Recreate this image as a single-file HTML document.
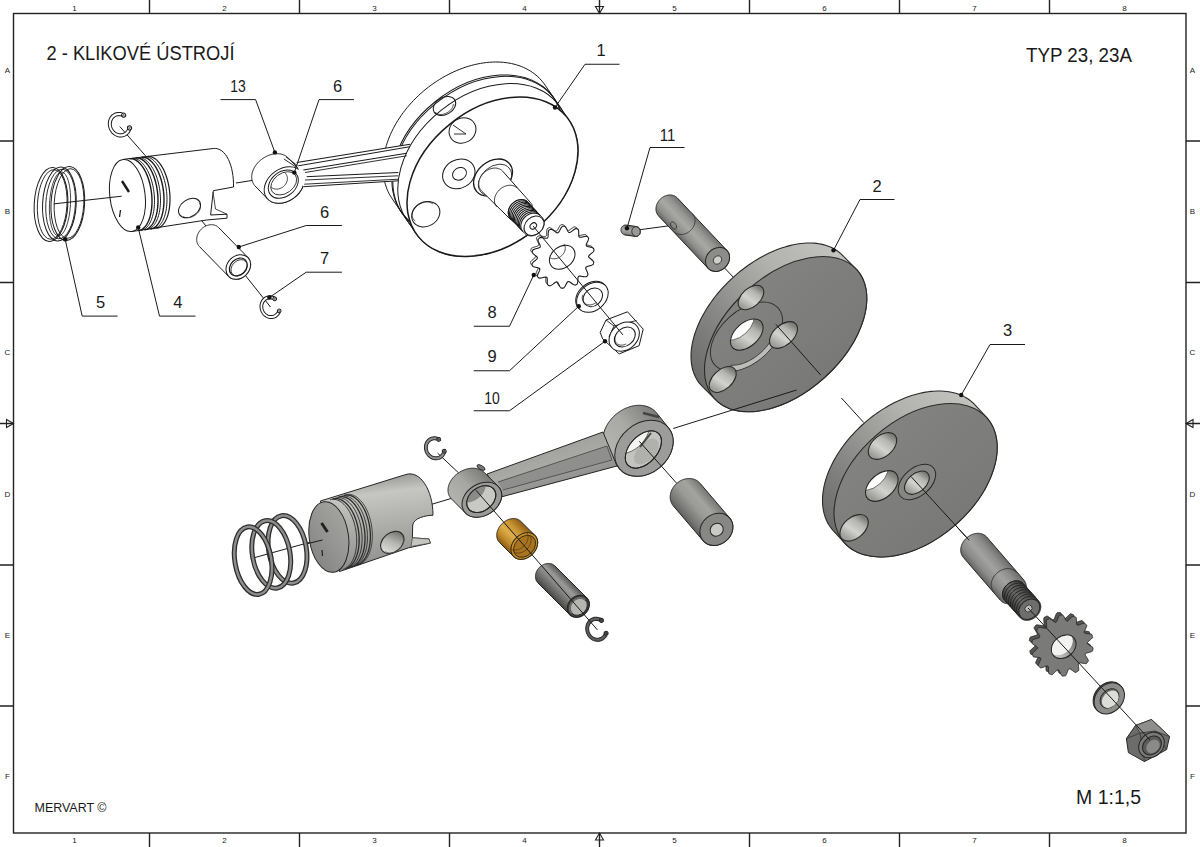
<!DOCTYPE html>
<html><head><meta charset="utf-8">
<style>
html,body{margin:0;padding:0;background:#fff;width:1200px;height:847px;overflow:hidden}
svg{display:block}
text{font-family:"Liberation Sans",sans-serif;fill:#1a1a1a}
</style></head><body>
<svg width="1200" height="847" viewBox="0 0 1200 847">
<defs><linearGradient id="shL" gradientUnits="userSpaceOnUse" x1="702.2" y1="224.27" x2="683.3" y2="242.13"><stop offset="0" stop-color="#727270"/><stop offset="0.25" stop-color="#959593"/><stop offset="0.5" stop-color="#a8a8a5"/><stop offset="0.8" stop-color="#8e8e8c"/><stop offset="1" stop-color="#666664"/></linearGradient><linearGradient id="p11" gradientUnits="userSpaceOnUse" x1="631.46" y1="225.8" x2="630.04" y2="235.7"><stop offset="0" stop-color="#727270"/><stop offset="0.25" stop-color="#959593"/><stop offset="0.5" stop-color="#a8a8a5"/><stop offset="0.8" stop-color="#8e8e8c"/><stop offset="1" stop-color="#666664"/></linearGradient><linearGradient id="beam" gradientUnits="userSpaceOnUse" x1="540" y1="440" x2="555" y2="490"><stop offset="0" stop-color="#9c9c9a"/><stop offset="0.5" stop-color="#a9a9a6"/><stop offset="1" stop-color="#8a8a88"/></linearGradient><linearGradient id="beb" gradientUnits="userSpaceOnUse" x1="662.95" y1="420.84" x2="613.05" y2="460.76"><stop offset="0" stop-color="#7c7c7a"/><stop offset="0.5" stop-color="#a8a8a5"/><stop offset="1" stop-color="#b5b5b2"/></linearGradient><linearGradient id="seb" gradientUnits="userSpaceOnUse" x1="489.84" y1="477.71" x2="459.86" y2="507.69"><stop offset="0" stop-color="#7a7a78"/><stop offset="0.5" stop-color="#a6a6a3"/><stop offset="1" stop-color="#b3b3b0"/></linearGradient><linearGradient id="pist" gradientUnits="userSpaceOnUse" x1="380" y1="472" x2="392" y2="575"><stop offset="0" stop-color="#8e8e8c"/><stop offset="0.2" stop-color="#c6c6c3"/><stop offset="0.5" stop-color="#aeaeab"/><stop offset="0.8" stop-color="#989896"/><stop offset="1" stop-color="#7a7a78"/></linearGradient><linearGradient id="vphg" gradientUnits="userSpaceOnUse" x1="381" y1="548" x2="404" y2="536"><stop offset="0" stop-color="#e0e0dd"/><stop offset="0.5" stop-color="#b5b5b2"/><stop offset="1" stop-color="#6e6e6c"/></linearGradient><linearGradient id="crown" gradientUnits="userSpaceOnUse" x1="312" y1="505" x2="345" y2="570"><stop offset="0" stop-color="#a8a8a5"/><stop offset="0.5" stop-color="#959593"/><stop offset="1" stop-color="#7e7e7c"/></linearGradient><linearGradient id="bush" gradientUnits="userSpaceOnUse" x1="527.77" y1="528.31" x2="506.63" y2="549.59"><stop offset="0" stop-color="#8e5e14"/><stop offset="0.3" stop-color="#c99433"/><stop offset="0.55" stop-color="#dcae4a"/><stop offset="0.8" stop-color="#c08a2a"/><stop offset="1" stop-color="#8a5a12"/></linearGradient><linearGradient id="pinY" gradientUnits="userSpaceOnUse" x1="570.89" y1="581.91" x2="553.91" y2="598.89"><stop offset="0" stop-color="#585856"/><stop offset="0.3" stop-color="#9a9a98"/><stop offset="0.55" stop-color="#858583"/><stop offset="0.85" stop-color="#5e5e5c"/><stop offset="1" stop-color="#444442"/></linearGradient><linearGradient id="pinT" gradientUnits="userSpaceOnUse" x1="714.86" y1="500.64" x2="688.24" y2="523.36"><stop offset="0" stop-color="#767674"/><stop offset="0.3" stop-color="#a3a3a0"/><stop offset="0.55" stop-color="#9a9a97"/><stop offset="0.85" stop-color="#777775"/><stop offset="1" stop-color="#5e5e5c"/></linearGradient><linearGradient id="shO" gradientUnits="userSpaceOnUse" x1="1005.23" y1="558.46" x2="981.77" y2="578.74"><stop offset="0" stop-color="#6a6a68"/><stop offset="0.25" stop-color="#8e8e8c"/><stop offset="0.5" stop-color="#a2a2a0"/><stop offset="0.8" stop-color="#8a8a88"/><stop offset="1" stop-color="#626260"/></linearGradient><linearGradient id="shOt" gradientUnits="userSpaceOnUse" x1="1030.99" y1="592.29" x2="1012.31" y2="608.91"><stop offset="0" stop-color="#3e3e3c"/><stop offset="0.5" stop-color="#6a6a68"/><stop offset="1" stop-color="#3a3a38"/></linearGradient><clipPath id="gph"><ellipse cx="1063.7" cy="646.7" rx="13.5" ry="10.5" transform="rotate(-40 1063.7 646.7)"/></clipPath><linearGradient id="gphg" gradientUnits="userSpaceOnUse" x1="1051" y1="650" x2="1076" y2="642"><stop offset="0" stop-color="#c5c5c2"/><stop offset="0.5" stop-color="#9a9a98"/><stop offset="1" stop-color="#6a6a68"/></linearGradient><linearGradient id="d2rim" gradientUnits="userSpaceOnUse" x1="845.65" y1="244.15" x2="695.65" y2="374.15"><stop offset="0" stop-color="#c4c4c1"/><stop offset="0.35" stop-color="#b2b2af"/><stop offset="0.7" stop-color="#8a8a88"/><stop offset="1" stop-color="#6c6c6a"/></linearGradient><linearGradient id="d2face" gradientUnits="userSpaceOnUse" x1="785.65" y1="254.15" x2="785.65" y2="414.15"><stop offset="0" stop-color="#848482"/><stop offset="1" stop-color="#777775"/></linearGradient><linearGradient id="d3rim" gradientUnits="userSpaceOnUse" x1="975.6" y1="390.25" x2="825.6" y2="520.25"><stop offset="0" stop-color="#c4c4c1"/><stop offset="0.35" stop-color="#b2b2af"/><stop offset="0.7" stop-color="#8a8a88"/><stop offset="1" stop-color="#6c6c6a"/></linearGradient><linearGradient id="d3face" gradientUnits="userSpaceOnUse" x1="915.6" y1="400.25" x2="915.6" y2="560.25"><stop offset="0" stop-color="#848482"/><stop offset="1" stop-color="#777775"/></linearGradient><clipPath id="d2c"><ellipse cx="746.8" cy="334.6" rx="19.29" ry="11.7" transform="rotate(-42.26 746.8 334.6)"/></clipPath><linearGradient id="d2cg" gradientUnits="userSpaceOnUse" x1="731.37" y1="338.46" x2="762.23" y2="330.74"><stop offset="0" stop-color="#9c9c99"/><stop offset="0.4" stop-color="#d2d2cf"/><stop offset="0.75" stop-color="#b4b4b1"/><stop offset="1" stop-color="#7e7e7b"/></linearGradient><clipPath id="d2s1"><ellipse cx="751" cy="297.5" rx="15.15" ry="9.19" transform="rotate(-42.26 751 297.5)"/></clipPath><linearGradient id="d2s1g" gradientUnits="userSpaceOnUse" x1="738.88" y1="300.53" x2="763.12" y2="294.47"><stop offset="0" stop-color="#9c9c99"/><stop offset="0.4" stop-color="#d2d2cf"/><stop offset="0.75" stop-color="#b4b4b1"/><stop offset="1" stop-color="#7e7e7b"/></linearGradient><clipPath id="d2s2"><ellipse cx="783.5" cy="335" rx="16.57" ry="10.05" transform="rotate(-42.26 783.5 335)"/></clipPath><linearGradient id="d2s2g" gradientUnits="userSpaceOnUse" x1="770.25" y1="338.31" x2="796.75" y2="331.69"><stop offset="0" stop-color="#9c9c99"/><stop offset="0.4" stop-color="#d2d2cf"/><stop offset="0.75" stop-color="#b4b4b1"/><stop offset="1" stop-color="#7e7e7b"/></linearGradient><clipPath id="d2s3"><ellipse cx="722.7" cy="379.5" rx="15.97" ry="9.69" transform="rotate(-42.26 722.7 379.5)"/></clipPath><linearGradient id="d2s3g" gradientUnits="userSpaceOnUse" x1="709.92" y1="382.69" x2="735.48" y2="376.31"><stop offset="0" stop-color="#9c9c99"/><stop offset="0.4" stop-color="#d2d2cf"/><stop offset="0.75" stop-color="#b4b4b1"/><stop offset="1" stop-color="#7e7e7b"/></linearGradient><clipPath id="d3h1"><ellipse cx="882.5" cy="446" rx="16.48" ry="10.41" transform="rotate(-40.91 882.5 446)"/></clipPath><linearGradient id="d3h1g" gradientUnits="userSpaceOnUse" x1="869.31" y1="449.3" x2="895.69" y2="442.7"><stop offset="0" stop-color="#9c9c99"/><stop offset="0.4" stop-color="#d2d2cf"/><stop offset="0.75" stop-color="#b4b4b1"/><stop offset="1" stop-color="#7e7e7b"/></linearGradient><clipPath id="d3h2"><ellipse cx="881.8" cy="486" rx="18.92" ry="11.95" transform="rotate(-40.91 881.8 486)"/></clipPath><linearGradient id="d3h2g" gradientUnits="userSpaceOnUse" x1="866.66" y1="489.78" x2="896.94" y2="482.22"><stop offset="0" stop-color="#9c9c99"/><stop offset="0.4" stop-color="#d2d2cf"/><stop offset="0.75" stop-color="#b4b4b1"/><stop offset="1" stop-color="#7e7e7b"/></linearGradient><clipPath id="d3h3"><ellipse cx="854.1" cy="527.8" rx="16.48" ry="10.41" transform="rotate(-40.91 854.1 527.8)"/></clipPath><linearGradient id="d3h3g" gradientUnits="userSpaceOnUse" x1="840.91" y1="531.1" x2="867.29" y2="524.5"><stop offset="0" stop-color="#9c9c99"/><stop offset="0.4" stop-color="#d2d2cf"/><stop offset="0.75" stop-color="#b4b4b1"/><stop offset="1" stop-color="#7e7e7b"/></linearGradient><clipPath id="d3w"><ellipse cx="916.9" cy="482.7" rx="14.39" ry="9.09" transform="rotate(-40.91 916.9 482.7)"/></clipPath><linearGradient id="d3wg" gradientUnits="userSpaceOnUse" x1="905.38" y1="485.58" x2="928.42" y2="479.82"><stop offset="0" stop-color="#9c9c99"/><stop offset="0.4" stop-color="#d2d2cf"/><stop offset="0.75" stop-color="#b4b4b1"/><stop offset="1" stop-color="#7e7e7b"/></linearGradient></defs>
<g stroke="#222" fill="none" stroke-width="1.4">
<rect x="13.5" y="13.5" width="1172.5" height="819.5"/>
<path d="M149.5 0V13.5M149.5 833V847M299.5 0V13.5M299.5 833V847M449.5 0V13.5M449.5 833V847M599.5 0V13.5M599.5 833V847M749.5 0V13.5M749.5 833V847M899.5 0V13.5M899.5 833V847M1049.5 0V13.5M1049.5 833V847M0 141H13.5M1186 141H1200M0 282.5H13.5M1186 282.5H1200M0 423.5H13.5M1186 423.5H1200M0 565H13.5M1186 565H1200M0 706H13.5M1186 706H1200"/>
<path d="M595.5 6.5L603.5 6.5L599.5 13.5Z M595.5 840L603.5 840L599.5 833Z M6.5 419.5L6.5 427.5L13.5 423.5Z M1193 419.5L1193 427.5L1186 423.5Z" stroke-width="1.1"/>
</g>
<g font-size="8" text-anchor="middle" fill="#333">
<text x="74.5" y="11">1</text><text x="74.5" y="843">1</text>
<text x="224.5" y="11">2</text><text x="224.5" y="843">2</text>
<text x="374.5" y="11">3</text><text x="374.5" y="843">3</text>
<text x="524.5" y="11">4</text><text x="524.5" y="843">4</text>
<text x="674.5" y="11">5</text><text x="674.5" y="843">5</text>
<text x="824.5" y="11">6</text><text x="824.5" y="843">6</text>
<text x="974.5" y="11">7</text><text x="974.5" y="843">7</text>
<text x="1124.5" y="11">8</text><text x="1124.5" y="843">8</text>
<text x="7.5" y="73">A</text><text x="1192.5" y="73">A</text>
<text x="7.5" y="214.2">B</text><text x="1192.5" y="214.2">B</text>
<text x="7.5" y="355.4">C</text><text x="1192.5" y="355.4">C</text>
<text x="7.5" y="496.6">D</text><text x="1192.5" y="496.6">D</text>
<text x="7.5" y="637.8">E</text><text x="1192.5" y="637.8">E</text>
<text x="7.5" y="779">F</text><text x="1192.5" y="779">F</text>
</g>
<text x="46.5" y="59.5" font-size="20" textLength="188" lengthAdjust="spacingAndGlyphs">2 - KLIKOVÉ ÚSTROJÍ</text>
<text x="1026" y="61.5" font-size="20" textLength="106" lengthAdjust="spacingAndGlyphs">TYP 23, 23A</text>
<text x="1076" y="803.5" font-size="20" textLength="65" lengthAdjust="spacingAndGlyphs">M 1:1,5</text>
<text x="34.5" y="812" font-size="13" textLength="72" lengthAdjust="spacingAndGlyphs" fill="#2a2a2a">MERVART ©</text>
<g stroke="#1a1a1a" stroke-width="1">
<line x1="119.8" y1="126.5" x2="145.5" y2="155.8" />
<line x1="236" y1="183" x2="258" y2="179.5" />
<line x1="190" y1="206" x2="270.5" y2="307" />
<line x1="637.5" y1="230" x2="675" y2="225" />
<line x1="717" y1="260" x2="735" y2="279" />
<line x1="841.4" y1="398" x2="863.8" y2="422.6" />
<line x1="910.9" y1="476.4" x2="969.2" y2="540.3" />
<line x1="431.7" y1="504.3" x2="455" y2="497.3" />
<line x1="255" y1="557.5" x2="322.5" y2="538.75" />
<line x1="437.5" y1="453" x2="458.5" y2="472.8" />
</g>
<path d="M67.83 240.34 L66.94 240.44 L49.94 241.44 L49.06 241.45 L48.19 241.35 L47.32 241.15 L46.46 240.86 L45.62 240.46 L44.79 239.96 L43.97 239.37 L43.18 238.68 L42.41 237.9 L41.66 237.02 L40.93 236.06 L40.24 235.01 L39.57 233.88 L38.94 232.66 L38.33 231.37 L37.77 230.01 L37.24 228.57 L36.74 227.07 L36.29 225.51 L35.87 223.89 L35.5 222.21 L35.17 220.49 L34.89 218.73 L34.64 216.92 L34.45 215.08 L34.29 213.21 L34.19 211.32 L34.13 209.41 L34.11 207.49 L34.14 205.56 L34.22 203.62 L34.35 201.69 L34.52 199.76 L34.73 197.85 L34.99 195.96 L35.3 194.09 L35.64 192.25 L36.03 190.44 L36.46 188.67 L36.93 186.94 L37.44 185.26 L37.98 183.64 L38.57 182.07 L39.18 180.56 L39.83 179.12 L40.51 177.75 L41.21 176.45 L41.95 175.23 L42.71 174.09 L43.49 173.03 L44.29 172.06 L45.11 171.18 L45.95 170.39 L46.8 169.69 L47.66 169.09 L48.53 168.58 L49.41 168.18 L50.29 167.87 L51.17 167.66 L52.06 167.56 L69.06 166.56 L69.94 166.55 L70.81 166.65 L71.68 166.85 L72.54 167.14 L73.38 167.54 L74.21 168.04 L75.03 168.63 L75.82 169.32 L76.59 170.1 L77.34 170.98 L78.07 171.94 L78.76 172.99 L79.43 174.12 L80.06 175.34 L80.67 176.63 L81.23 177.99 L81.76 179.43 L82.26 180.93 L82.71 182.49 L83.13 184.11 L83.5 185.79 L83.83 187.51 L84.11 189.27 L84.36 191.08 L84.55 192.92 L84.71 194.79 L84.81 196.68 L84.87 198.59 L84.89 200.51 L84.86 202.44 L84.78 204.38 L84.65 206.31 L84.48 208.24 L84.27 210.15 L84.01 212.04 L83.7 213.91 L83.36 215.75 L82.97 217.56 L82.54 219.33 L82.07 221.06 L81.56 222.74 L81.02 224.36 L80.43 225.93 L79.82 227.44 L79.17 228.88 L78.49 230.25 L77.79 231.55 L77.05 232.77 L76.29 233.91 L75.51 234.97 L74.71 235.94 L73.89 236.82 L73.05 237.61 L72.2 238.31 L71.34 238.91 L70.47 239.42 L69.59 239.82 L68.71 240.13Z" fill="#fff" stroke="none"/>
<ellipse cx="67.8" cy="203.5" rx="37" ry="16.8" transform="rotate(93 67.8 203.5)" fill="none" stroke="#1a1a1a" stroke-width="1"/>
<ellipse cx="69" cy="203.5" rx="34.8" ry="14.8" transform="rotate(93 69 203.5)" fill="none" stroke="#1a1a1a" stroke-width="0.9"/>
<ellipse cx="59.4" cy="204" rx="37" ry="16.8" transform="rotate(93 59.4 204)" fill="none" stroke="#1a1a1a" stroke-width="1"/>
<ellipse cx="60.6" cy="204" rx="34.8" ry="14.8" transform="rotate(93 60.6 204)" fill="none" stroke="#1a1a1a" stroke-width="0.9"/>
<ellipse cx="51" cy="204.5" rx="37" ry="16.8" transform="rotate(93 51 204.5)" fill="none" stroke="#1a1a1a" stroke-width="1"/>
<ellipse cx="52.2" cy="204.5" rx="34.8" ry="14.8" transform="rotate(93 52.2 204.5)" fill="none" stroke="#1a1a1a" stroke-width="0.9"/>
<ellipse cx="60" cy="204" rx="32" ry="10.5" transform="rotate(93 60 204)" fill="none" stroke="#1a1a1a" stroke-width="0.8"/>
<g transform="rotate(-25 119.8 124.7)"><path d="M128.42 132.73 L127.66 133.65 L126.81 134.47 L125.9 135.2 L124.93 135.82 L123.91 136.34 L122.85 136.73 L121.75 137.01 L120.64 137.17 L119.52 137.2 L118.4 137.1 L117.3 136.89 L116.22 136.55 L115.17 136.09 L114.17 135.53 L113.23 134.85 L112.36 134.07 L111.55 133.2 L110.83 132.25 L110.2 131.22 L109.66 130.12 L109.23 128.98 L108.9 127.78 L108.68 126.56 L108.56 125.32 L108.56 124.08 L108.68 122.84 L108.9 121.62 L109.23 120.42 L109.66 119.28 L110.2 118.18 L110.83 117.15 L111.55 116.2 L112.36 115.33 L113.23 114.55 L114.17 113.87 L115.17 113.31 L116.22 112.85 L117.3 112.51 L118.4 112.3 L119.52 112.2 L120.64 112.23 L121.75 112.39 L122.85 112.67 L123.91 113.06 L124.93 113.58 L125.9 114.2 L126.81 114.93 L127.66 115.75 L128.42 116.67 L126.18 118.75 L125.61 118.08 L124.99 117.47 L124.32 116.93 L123.6 116.47 L122.84 116.09 L122.05 115.8 L121.25 115.59 L120.42 115.48 L119.59 115.45 L118.76 115.52 L117.95 115.68 L117.15 115.93 L116.38 116.27 L115.64 116.69 L114.94 117.19 L114.29 117.76 L113.7 118.41 L113.16 119.11 L112.7 119.88 L112.3 120.69 L111.98 121.54 L111.73 122.42 L111.57 123.32 L111.49 124.24 L111.49 125.16 L111.57 126.08 L111.73 126.98 L111.98 127.86 L112.3 128.71 L112.7 129.52 L113.16 130.29 L113.7 130.99 L114.29 131.64 L114.94 132.21 L115.64 132.71 L116.38 133.13 L117.15 133.47 L117.95 133.72 L118.76 133.88 L119.59 133.95 L120.42 133.92 L121.25 133.81 L122.05 133.6 L122.84 133.31 L123.6 132.93 L124.32 132.47 L124.99 131.93 L125.61 131.32 L126.18 130.65Z" fill="#fff" stroke="#1a1a1a" stroke-width="1"/><circle cx="127.3" cy="131.69" r="2.02" fill="#fff" stroke="#1a1a1a" stroke-width="1"/><circle cx="127.3" cy="131.69" r="0.71" fill="none" stroke="#1a1a1a" stroke-width="0.6"/><circle cx="127.3" cy="117.71" r="2.02" fill="#fff" stroke="#1a1a1a" stroke-width="1"/><circle cx="127.3" cy="117.71" r="0.71" fill="none" stroke="#1a1a1a" stroke-width="0.6"/></g>
<path d="M123.6 159.3 L213.3 148.5 C226 147 234 166 233.5 187 L213.3 190.7 L210.6 215 L227 214.2 L227 218.2 L206.5 220 L131.9 231.5 Z" fill="#fff" stroke="#1a1a1a" stroke-width="1"/>
<path d="M213 192 L215.5 209 L227 214.2" fill="none" stroke="#1a1a1a" stroke-width="0.8"/>
<ellipse cx="189.5" cy="208" rx="12" ry="8.5" transform="rotate(-35 189.5 208)" fill="#fff" stroke="#1a1a1a" stroke-width="1"/>
<path d="M199.07 202.85 L199.57 203.43 L199.96 204.08 L200.24 204.79 L200.42 205.56 L200.49 206.37 L200.45 207.23 L200.29 208.1 L200.03 209 L199.66 209.9 L199.19 210.79 L198.63 211.68 L197.97 212.53 L197.23 213.35 L196.42 214.12 L195.55 214.84 L194.62 215.5 L193.65 216.09 L192.65 216.6 L191.63 217.03 L190.6 217.36 L189.58 217.61 L188.57 217.76 L187.59 217.82 L186.66 217.77 L185.77 217.63 L184.94 217.4 L184.19 217.07 L183.51 216.65 L182.93 216.15" fill="none" stroke="#1a1a1a" stroke-width="0.8"/>
<path d="M129.56 158.76 L130.49 158.7 L131.44 158.74 L132.4 158.88 L133.36 159.12 L134.32 159.46 L135.28 159.9 L136.23 160.44 L137.18 161.08 L138.12 161.81 L139.05 162.64 L139.97 163.56 L140.86 164.56 L141.74 165.65 L142.6 166.82 L143.43 168.08 L144.23 169.4 L145.01 170.8 L145.75 172.27 L146.46 173.8 L147.14 175.39 L147.77 177.04 L148.37 178.73 L148.93 180.47 L149.44 182.25 L149.91 184.07 L150.34 185.91 L150.72 187.78 L151.05 189.67 L151.33 191.58 L151.57 193.49 L151.75 195.41 L151.89 197.32 L151.97 199.23 L152 201.12 L151.98 203 L151.91 204.85 L151.79 206.68 L151.62 208.47 L151.39 210.22 L151.12 211.92 L150.8 213.58 L150.43 215.19 L150.02 216.73 L149.56 218.22 L149.05 219.63 L148.51 220.98 L147.92 222.25 L147.29 223.45 L146.62 224.56 L145.92 225.59 L145.19 226.53 L144.42 227.38 L143.62 228.13 L142.79 228.8 L141.94 229.36 L141.07 229.83 L140.18 230.2 L139.27 230.47 L138.34 230.63" fill="none" stroke="#1a1a1a" stroke-width="1.4"/>
<path d="M132.06 158.45 L132.99 158.39 L133.94 158.43 L134.9 158.57 L135.86 158.81 L136.82 159.15 L137.78 159.59 L138.73 160.13 L139.68 160.77 L140.62 161.5 L141.55 162.33 L142.47 163.25 L143.36 164.25 L144.24 165.34 L145.1 166.52 L145.93 167.77 L146.73 169.1 L147.51 170.5 L148.25 171.96 L148.96 173.49 L149.64 175.08 L150.27 176.73 L150.87 178.42 L151.43 180.16 L151.94 181.94 L152.41 183.76 L152.84 185.6 L153.22 187.47 L153.55 189.36 L153.83 191.27 L154.07 193.18 L154.25 195.1 L154.39 197.01 L154.47 198.92 L154.5 200.81 L154.48 202.69 L154.41 204.54 L154.29 206.37 L154.12 208.16 L153.89 209.91 L153.62 211.61 L153.3 213.27 L152.93 214.88 L152.52 216.42 L152.06 217.91 L151.55 219.32 L151.01 220.67 L150.42 221.94 L149.79 223.14 L149.12 224.25 L148.42 225.28 L147.69 226.22 L146.92 227.07 L146.12 227.82 L145.29 228.49 L144.44 229.05 L143.57 229.52 L142.68 229.89 L141.77 230.16 L140.84 230.32" fill="none" stroke="#1a1a1a" stroke-width="1.0"/>
<path d="M135.56 158.02 L136.49 157.96 L137.44 157.99 L138.4 158.13 L139.36 158.37 L140.32 158.72 L141.28 159.16 L142.23 159.7 L143.18 160.34 L144.12 161.07 L145.05 161.9 L145.97 162.81 L146.86 163.82 L147.74 164.91 L148.6 166.08 L149.43 167.34 L150.23 168.66 L151.01 170.06 L151.75 171.53 L152.46 173.06 L153.14 174.65 L153.77 176.29 L154.37 177.99 L154.93 179.73 L155.44 181.51 L155.91 183.32 L156.34 185.17 L156.72 187.04 L157.05 188.93 L157.33 190.84 L157.57 192.75 L157.75 194.67 L157.89 196.58 L157.97 198.49 L158 200.38 L157.98 202.26 L157.91 204.11 L157.79 205.93 L157.62 207.72 L157.39 209.47 L157.12 211.18 L156.8 212.84 L156.43 214.44 L156.02 215.99 L155.56 217.47 L155.05 218.89 L154.51 220.24 L153.92 221.51 L153.29 222.7 L152.62 223.82 L151.92 224.84 L151.19 225.78 L150.42 226.63 L149.62 227.39 L148.79 228.05 L147.94 228.62 L147.07 229.09 L146.18 229.46 L145.27 229.72 L144.34 229.89" fill="none" stroke="#1a1a1a" stroke-width="1.4"/>
<path d="M138.06 157.71 L138.99 157.65 L139.94 157.68 L140.9 157.82 L141.86 158.07 L142.82 158.41 L143.78 158.85 L144.73 159.39 L145.68 160.03 L146.62 160.76 L147.55 161.59 L148.47 162.5 L149.36 163.51 L150.24 164.6 L151.1 165.77 L151.93 167.03 L152.73 168.35 L153.51 169.75 L154.25 171.22 L154.96 172.75 L155.64 174.34 L156.27 175.99 L156.87 177.68 L157.43 179.42 L157.94 181.2 L158.41 183.02 L158.84 184.86 L159.22 186.73 L159.55 188.62 L159.83 190.53 L160.07 192.44 L160.25 194.36 L160.39 196.27 L160.47 198.18 L160.5 200.07 L160.48 201.95 L160.41 203.8 L160.29 205.62 L160.12 207.41 L159.89 209.17 L159.62 210.87 L159.3 212.53 L158.93 214.13 L158.52 215.68 L158.06 217.17 L157.55 218.58 L157.01 219.93 L156.42 221.2 L155.79 222.39 L155.12 223.51 L154.42 224.54 L153.69 225.48 L152.92 226.33 L152.12 227.08 L151.29 227.75 L150.44 228.31 L149.57 228.78 L148.68 229.15 L147.77 229.41 L146.84 229.58" fill="none" stroke="#1a1a1a" stroke-width="1.0"/>
<path d="M141.56 157.28 L142.49 157.21 L143.44 157.25 L144.4 157.39 L145.36 157.63 L146.32 157.98 L147.28 158.42 L148.23 158.96 L149.18 159.6 L150.12 160.33 L151.05 161.16 L151.97 162.07 L152.86 163.08 L153.74 164.17 L154.6 165.34 L155.43 166.59 L156.23 167.92 L157.01 169.32 L157.75 170.79 L158.46 172.32 L159.14 173.91 L159.77 175.55 L160.37 177.25 L160.93 178.99 L161.44 180.77 L161.91 182.58 L162.34 184.43 L162.72 186.3 L163.05 188.19 L163.33 190.09 L163.57 192.01 L163.75 193.92 L163.89 195.84 L163.97 197.75 L164 199.64 L163.98 201.52 L163.91 203.37 L163.79 205.19 L163.62 206.98 L163.39 208.73 L163.12 210.44 L162.8 212.1 L162.43 213.7 L162.02 215.25 L161.56 216.73 L161.05 218.15 L160.51 219.5 L159.92 220.77 L159.29 221.96 L158.62 223.07 L157.92 224.1 L157.19 225.04 L156.42 225.89 L155.62 226.65 L154.79 227.31 L153.94 227.88 L153.07 228.35 L152.18 228.71 L151.27 228.98 L150.34 229.15" fill="none" stroke="#1a1a1a" stroke-width="1.4"/>
<path d="M144.56 156.91 L145.49 156.84 L146.44 156.88 L147.4 157.02 L148.36 157.26 L149.32 157.6 L150.28 158.05 L151.23 158.59 L152.18 159.23 L153.12 159.96 L154.05 160.78 L154.97 161.7 L155.86 162.71 L156.74 163.8 L157.6 164.97 L158.43 166.22 L159.23 167.55 L160.01 168.95 L160.75 170.42 L161.46 171.95 L162.14 173.54 L162.77 175.18 L163.37 176.88 L163.93 178.62 L164.44 180.4 L164.91 182.21 L165.34 184.06 L165.72 185.93 L166.05 187.82 L166.33 189.72 L166.57 191.64 L166.75 193.55 L166.89 195.47 L166.97 197.37 L167 199.27 L166.98 201.15 L166.91 203 L166.79 204.82 L166.62 206.61 L166.39 208.36 L166.12 210.07 L165.8 211.73 L165.43 213.33 L165.02 214.88 L164.56 216.36 L164.05 217.78 L163.51 219.13 L162.92 220.4 L162.29 221.59 L161.62 222.7 L160.92 223.73 L160.19 224.67 L159.42 225.52 L158.62 226.28 L157.79 226.94 L156.94 227.51 L156.07 227.98 L155.18 228.34 L154.27 228.61 L153.34 228.78" fill="none" stroke="#1a1a1a" stroke-width="1.0"/>
<path d="M147.56 156.54 L148.49 156.47 L149.44 156.51 L150.4 156.65 L151.36 156.89 L152.32 157.23 L153.28 157.68 L154.23 158.22 L155.18 158.85 L156.12 159.59 L157.05 160.41 L157.97 161.33 L158.86 162.34 L159.74 163.43 L160.6 164.6 L161.43 165.85 L162.23 167.18 L163.01 168.58 L163.75 170.05 L164.46 171.58 L165.14 173.17 L165.77 174.81 L166.37 176.51 L166.93 178.25 L167.44 180.03 L167.91 181.84 L168.34 183.69 L168.72 185.56 L169.05 187.45 L169.33 189.35 L169.57 191.27 L169.75 193.18 L169.89 195.1 L169.97 197 L170 198.9 L169.98 200.77 L169.91 202.63 L169.79 204.45 L169.62 206.24 L169.39 207.99 L169.12 209.7 L168.8 211.36 L168.43 212.96 L168.02 214.51 L167.56 215.99 L167.05 217.41 L166.51 218.75 L165.92 220.03 L165.29 221.22 L164.62 222.33 L163.92 223.36 L163.19 224.3 L162.42 225.15 L161.62 225.91 L160.79 226.57 L159.94 227.14 L159.07 227.61 L158.18 227.97 L157.27 228.24 L156.34 228.41" fill="none" stroke="#1a1a1a" stroke-width="1.2"/>
<ellipse cx="127.45" cy="195.5" rx="36.2" ry="17.64" transform="rotate(83.05 127.45 195.5)" fill="#fff" stroke="#1a1a1a" stroke-width="1"/>
<path d="M122 181 L129 192" fill="none" stroke="#1a1a1a" stroke-width="2.4"/>
<path d="M120.5 210 L119.5 217" fill="none" stroke="#1a1a1a" stroke-width="1.3"/>
<path d="M218.55 227.45 L247.85 257.45 L248.11 257.73 L248.37 258.02 L248.61 258.32 L248.84 258.63 L249.05 258.95 L249.25 259.28 L249.44 259.62 L249.62 259.97 L249.78 260.32 L249.93 260.69 L250.06 261.06 L250.18 261.44 L250.29 261.83 L250.38 262.22 L250.46 262.62 L250.52 263.03 L250.56 263.44 L250.59 263.85 L250.61 264.27 L250.61 264.69 L250.6 265.11 L250.57 265.54 L250.53 265.96 L250.47 266.39 L250.39 266.82 L250.31 267.25 L250.2 267.68 L250.09 268.11 L249.95 268.54 L249.81 268.96 L249.65 269.39 L249.48 269.81 L249.29 270.22 L249.09 270.64 L248.87 271.04 L248.65 271.45 L248.41 271.85 L248.16 272.24 L247.89 272.62 L247.62 273 L247.33 273.37 L247.03 273.74 L246.73 274.09 L246.41 274.44 L246.08 274.78 L245.74 275.11 L245.39 275.43 L245.04 275.73 L244.67 276.03 L244.3 276.32 L243.92 276.59 L243.54 276.86 L243.15 277.11 L242.75 277.35 L242.34 277.57 L241.94 277.79 L241.52 277.99 L241.11 278.18 L240.69 278.35 L240.26 278.51 L239.84 278.65 L239.41 278.79 L238.98 278.9 L238.55 279.01 L238.12 279.09 L237.69 279.17 L237.26 279.23 L236.84 279.27 L236.41 279.3 L235.99 279.31 L235.57 279.31 L235.15 279.29 L234.74 279.26 L234.33 279.22 L233.92 279.16 L233.52 279.08 L233.13 278.99 L232.74 278.88 L232.36 278.76 L231.99 278.63 L231.62 278.48 L231.27 278.32 L230.92 278.14 L230.58 277.95 L230.25 277.75 L229.93 277.54 L229.62 277.31 L229.32 277.07 L229.03 276.81 L228.75 276.55 L199.45 246.55 L199.19 246.27 L198.93 245.98 L198.69 245.68 L198.46 245.37 L198.25 245.05 L198.05 244.72 L197.86 244.38 L197.68 244.03 L197.52 243.68 L197.37 243.31 L197.24 242.94 L197.12 242.56 L197.01 242.17 L196.92 241.78 L196.84 241.38 L196.78 240.97 L196.74 240.56 L196.71 240.15 L196.69 239.73 L196.69 239.31 L196.7 238.89 L196.73 238.46 L196.77 238.04 L196.83 237.61 L196.91 237.18 L196.99 236.75 L197.1 236.32 L197.21 235.89 L197.35 235.46 L197.49 235.04 L197.65 234.61 L197.82 234.19 L198.01 233.78 L198.21 233.36 L198.43 232.96 L198.65 232.55 L198.89 232.15 L199.14 231.76 L199.41 231.38 L199.68 231 L199.97 230.63 L200.27 230.26 L200.57 229.91 L200.89 229.56 L201.22 229.22 L201.56 228.89 L201.91 228.57 L202.26 228.27 L202.63 227.97 L203 227.68 L203.38 227.41 L203.76 227.14 L204.15 226.89 L204.55 226.65 L204.96 226.43 L205.36 226.21 L205.78 226.01 L206.19 225.82 L206.61 225.65 L207.04 225.49 L207.46 225.35 L207.89 225.21 L208.32 225.1 L208.75 224.99 L209.18 224.91 L209.61 224.83 L210.04 224.77 L210.46 224.73 L210.89 224.7 L211.31 224.69 L211.73 224.69 L212.15 224.71 L212.56 224.74 L212.97 224.78 L213.38 224.84 L213.78 224.92 L214.17 225.01 L214.56 225.12 L214.94 225.24 L215.31 225.37 L215.68 225.52 L216.03 225.68 L216.38 225.86 L216.72 226.05 L217.05 226.25 L217.37 226.46 L217.68 226.69 L217.98 226.93 L218.27 227.19Z" fill="#fff" stroke="#1a1a1a" stroke-width="1"/>
<ellipse cx="238.3" cy="267" rx="13.5" ry="11" transform="rotate(-45 238.3 267)" fill="#fff" stroke="#1a1a1a" stroke-width="1"/>
<ellipse cx="238.3" cy="267" rx="10" ry="7.8" transform="rotate(-45 238.3 267)" fill="#fff" stroke="#1a1a1a" stroke-width="1.2"/>
<ellipse cx="239.1" cy="267.8" rx="9.2" ry="7" transform="rotate(-45 239.1 267.8)" fill="none" stroke="#1a1a1a" stroke-width="0.8"/>
<g transform="rotate(-20 270.5 307.2)"><path d="M278.43 314.59 L277.73 315.43 L276.95 316.19 L276.12 316.86 L275.22 317.43 L274.28 317.91 L273.3 318.27 L272.3 318.53 L271.27 318.67 L270.24 318.7 L269.21 318.61 L268.2 318.41 L267.2 318.1 L266.24 317.68 L265.32 317.16 L264.46 316.54 L263.65 315.82 L262.91 315.02 L262.25 314.14 L261.67 313.2 L261.17 312.19 L260.77 311.13 L260.47 310.04 L260.27 308.91 L260.16 307.77 L260.16 306.63 L260.27 305.49 L260.47 304.36 L260.77 303.27 L261.17 302.21 L261.67 301.2 L262.25 300.26 L262.91 299.38 L263.65 298.58 L264.46 297.86 L265.32 297.24 L266.24 296.72 L267.2 296.3 L268.2 295.99 L269.21 295.79 L270.24 295.7 L271.27 295.73 L272.3 295.87 L273.3 296.13 L274.28 296.49 L275.22 296.97 L276.12 297.54 L276.95 298.21 L277.73 298.97 L278.43 299.81 L276.37 301.73 L275.85 301.11 L275.28 300.55 L274.66 300.05 L273.99 299.63 L273.3 299.28 L272.57 299.01 L271.83 298.82 L271.07 298.71 L270.31 298.69 L269.55 298.76 L268.8 298.9 L268.06 299.13 L267.35 299.44 L266.67 299.83 L266.03 300.29 L265.43 300.82 L264.89 301.41 L264.39 302.06 L263.96 302.76 L263.6 303.51 L263.3 304.29 L263.08 305.1 L262.93 305.93 L262.85 306.78 L262.85 307.62 L262.93 308.47 L263.08 309.3 L263.3 310.11 L263.6 310.89 L263.96 311.64 L264.39 312.34 L264.89 312.99 L265.43 313.58 L266.03 314.11 L266.67 314.57 L267.35 314.96 L268.06 315.27 L268.8 315.5 L269.55 315.64 L270.31 315.71 L271.07 315.69 L271.83 315.58 L272.57 315.39 L273.3 315.12 L273.99 314.77 L274.66 314.35 L275.28 313.85 L275.85 313.29 L276.37 312.67Z" fill="#fff" stroke="#1a1a1a" stroke-width="1"/><circle cx="277.4" cy="313.63" r="1.85" fill="#fff" stroke="#1a1a1a" stroke-width="1"/><circle cx="277.4" cy="313.63" r="0.66" fill="none" stroke="#1a1a1a" stroke-width="0.6"/><circle cx="277.4" cy="300.77" r="1.85" fill="#fff" stroke="#1a1a1a" stroke-width="1"/><circle cx="277.4" cy="300.77" r="0.66" fill="none" stroke="#1a1a1a" stroke-width="0.6"/></g>
<path d="M419.85 238.42 L418.33 236.62 L416.89 234.74 L415.54 232.8 L391.54 197.8 L390.29 195.78 L389.13 193.7 L388.07 191.56 L387.1 189.35 L386.24 187.09 L385.48 184.77 L384.81 182.4 L384.25 179.99 L383.8 177.52 L383.44 175.01 L383.19 172.46 L383.04 169.87 L383 167.25 L383.06 164.6 L383.23 161.92 L383.5 159.21 L383.87 156.49 L384.34 153.74 L384.92 150.98 L385.6 148.21 L386.38 145.44 L387.27 142.65 L388.25 139.87 L389.32 137.09 L390.5 134.31 L391.77 131.55 L393.13 128.79 L394.59 126.05 L396.13 123.33 L397.76 120.64 L399.48 117.97 L401.29 115.32 L403.17 112.71 L405.14 110.14 L407.18 107.6 L409.29 105.11 L411.48 102.66 L413.74 100.26 L416.07 97.91 L418.45 95.61 L420.9 93.37 L423.41 91.18 L425.98 89.06 L428.59 87 L431.25 85.01 L433.96 83.09 L436.71 81.24 L439.5 79.47 L442.33 77.77 L445.18 76.14 L448.07 74.6 L450.98 73.14 L453.91 71.76 L456.86 70.47 L459.82 69.27 L462.79 68.15 L465.78 67.12 L468.76 66.19 L471.74 65.34 L474.72 64.59 L477.7 63.94 L480.66 63.37 L483.6 62.91 L486.53 62.54 L489.44 62.26 L492.32 62.09 L495.17 62.01 L497.99 62.02 L500.77 62.14 L503.51 62.35 L506.21 62.66 L508.87 63.06 L511.47 63.56 L514.03 64.16 L516.53 64.85 L518.97 65.63 L521.34 66.51 L523.66 67.47 L525.9 68.53 L528.08 69.68 L530.18 70.92 L532.21 72.24 L534.16 73.64 L536.03 75.13 L537.82 76.7 L539.53 78.35 L541.15 80.08 L542.67 81.88 L544.11 83.76 L545.46 85.7 L569.46 120.7 L570.71 122.72 L571.87 124.8 L572.93 126.94 L573.9 129.15 L574.76 131.41 L575.52 133.73 L576.19 136.1 L576.75 138.51 L577.2 140.98 L577.56 143.49 L577.81 146.04 L577.96 148.63 L578 151.25 L577.94 153.9 L577.77 156.58 L577.5 159.29 L577.13 162.01 L576.66 164.76 L576.08 167.52 L575.4 170.29 L574.62 173.06 L573.73 175.85 L572.75 178.63 L571.68 181.41 L570.5 184.19 L569.23 186.95 L567.87 189.71 L566.41 192.45 L564.87 195.17 L563.24 197.86 L561.52 200.53 L559.71 203.18 L557.83 205.79 L555.86 208.36 L553.82 210.9 L551.71 213.39 L549.52 215.84 L547.26 218.24 L544.93 220.59 L542.55 222.89 L540.1 225.13 L537.59 227.32 L535.02 229.44 L532.41 231.5 L529.75 233.49 L527.04 235.41 L524.29 237.26 L521.5 239.03 L518.67 240.73 L515.82 242.36 L512.93 243.9 L510.02 245.36 L507.09 246.74 L504.14 248.03 L501.18 249.23 L498.21 250.35 L495.22 251.38 L492.24 252.31 L489.26 253.16 L486.28 253.91 L483.3 254.56 L480.34 255.13 L477.4 255.59 L474.47 255.96 L471.56 256.24 L468.68 256.41 L465.83 256.49 L463.01 256.48 L460.23 256.36 L457.49 256.15 L454.79 255.84 L452.13 255.44 L449.53 254.94 L446.97 254.34 L444.47 253.65 L442.03 252.87 L439.66 251.99 L437.34 251.03 L435.1 249.97 L432.92 248.82 L430.82 247.58 L428.79 246.26 L426.84 244.86 L424.97 243.37 L423.18 241.8 L421.47 240.15Z" fill="#fff" stroke="#1a1a1a" stroke-width="1"/>
<path d="M267.7 199.07 L255.2 186.07 L254.82 185.66 L254.45 185.22 L254.11 184.77 L253.79 184.31 L253.49 183.83 L253.21 183.33 L252.96 182.83 L252.72 182.3 L252.51 181.77 L252.33 181.22 L252.17 180.67 L252.03 180.1 L251.92 179.52 L251.83 178.93 L251.76 178.34 L251.72 177.74 L251.7 177.13 L251.71 176.51 L251.74 175.89 L251.8 175.26 L251.88 174.63 L251.98 174 L252.11 173.36 L252.26 172.72 L252.44 172.08 L252.64 171.45 L252.86 170.81 L253.1 170.17 L253.37 169.54 L253.66 168.91 L253.97 168.28 L254.31 167.66 L254.66 167.04 L255.04 166.43 L255.44 165.82 L255.85 165.22 L256.29 164.63 L256.74 164.05 L257.21 163.48 L257.7 162.92 L258.21 162.37 L258.74 161.84 L259.27 161.31 L259.83 160.8 L260.4 160.3 L260.98 159.82 L261.58 159.35 L262.18 158.9 L262.8 158.46 L263.43 158.04 L264.08 157.63 L264.73 157.25 L265.38 156.88 L266.05 156.53 L266.72 156.19 L267.4 155.88 L268.09 155.59 L268.77 155.32 L269.47 155.06 L270.16 154.83 L270.86 154.62 L271.56 154.43 L272.26 154.26 L272.95 154.12 L273.65 153.99 L274.34 153.89 L275.03 153.81 L275.72 153.75 L276.4 153.71 L277.08 153.7 L277.74 153.71 L278.41 153.74 L279.06 153.79 L279.7 153.87 L280.34 153.96 L280.96 154.08 L281.58 154.22 L282.18 154.39 L282.77 154.57 L283.34 154.77 L283.9 155 L284.45 155.25 L284.98 155.52 L285.49 155.8 L285.99 156.11 L286.47 156.44 L286.93 156.78 L287.37 157.15 L287.8 157.53 L288.2 157.93 L300.7 170.93 L301.08 171.34 L301.45 171.78 L301.79 172.23 L302.11 172.69 L302.41 173.17 L302.69 173.67 L302.94 174.17 L303.18 174.7 L303.39 175.23 L303.57 175.78 L303.73 176.33 L303.87 176.9 L303.98 177.48 L304.07 178.07 L304.14 178.66 L304.18 179.26 L304.2 179.87 L304.19 180.49 L304.16 181.11 L304.1 181.74 L304.02 182.37 L303.92 183 L303.79 183.64 L303.64 184.28 L303.46 184.92 L303.26 185.55 L303.04 186.19 L302.8 186.83 L302.53 187.46 L302.24 188.09 L301.93 188.72 L301.59 189.34 L301.24 189.96 L300.86 190.57 L300.46 191.18 L300.05 191.78 L299.61 192.37 L299.16 192.95 L298.69 193.52 L298.2 194.08 L297.69 194.63 L297.16 195.16 L296.63 195.69 L296.07 196.2 L295.5 196.7 L294.92 197.18 L294.32 197.65 L293.72 198.1 L293.1 198.54 L292.47 198.96 L291.82 199.37 L291.17 199.75 L290.52 200.12 L289.85 200.47 L289.18 200.81 L288.5 201.12 L287.81 201.41 L287.13 201.68 L286.43 201.94 L285.74 202.17 L285.04 202.38 L284.34 202.57 L283.64 202.74 L282.95 202.88 L282.25 203.01 L281.56 203.11 L280.87 203.19 L280.18 203.25 L279.5 203.29 L278.82 203.3 L278.16 203.29 L277.49 203.26 L276.84 203.21 L276.2 203.13 L275.56 203.04 L274.94 202.92 L274.32 202.78 L273.72 202.61 L273.13 202.43 L272.56 202.23 L272 202 L271.45 201.75 L270.92 201.48 L270.41 201.2 L269.91 200.89 L269.43 200.56 L268.97 200.22 L268.53 199.85 L268.1 199.47Z" fill="#fff" stroke="#1a1a1a" stroke-width="1"/>
<ellipse cx="284.2" cy="185" rx="21.74" ry="16.2" transform="rotate(-35.98 284.2 185)" fill="#fff" stroke="#1a1a1a" stroke-width="1"/>
<ellipse cx="283.3" cy="184.15" rx="16.55" ry="12.3" transform="rotate(-39.17 283.3 184.15)" fill="#fff" stroke="#1a1a1a" stroke-width="1"/>
<ellipse cx="283.75" cy="183.35" rx="14.29" ry="9.96" transform="rotate(-36.13 283.75 183.35)" fill="none" stroke="#1a1a1a" stroke-width="0.8"/>
<path d="M285.23 173.11 L285.84 173.8 L286.36 174.56 L286.78 175.39 L287.09 176.27 L287.3 177.2 L287.4 178.15 L287.39 179.13 L287.27 180.12 L287.04 181.11 L286.7 182.09 L286.27 183.04 L285.73 183.95 L285.11 184.82 L284.4 185.63 L283.62 186.38 L282.77 187.05 L281.86 187.64 L280.91 188.14 L279.93 188.54 L278.92 188.85 L277.9 189.05 L276.89 189.14 L275.88 189.13 L274.9 189.01 L273.96 188.78 L273.07 188.45 L272.23 188.03 L271.46 187.5 L270.77 186.89" fill="none" stroke="#1a1a1a" stroke-width="0.8"/>
<path d="M286 157 L298 166 L303 170 M284 159 L296 167" fill="none" stroke="#1a1a1a" stroke-width="0.9"/>
<ellipse cx="477.38" cy="154.7" rx="95.32" ry="67.71" transform="rotate(-38.91 477.38 154.7)" fill="none" stroke="#1a1a1a" stroke-width="1"/>
<ellipse cx="478.34" cy="156.1" rx="95.32" ry="67.71" transform="rotate(-38.91 478.34 156.1)" fill="none" stroke="#1a1a1a" stroke-width="1"/>
<path d="M296.7 162.5 L410 144.2 L398.3 181 L303.3 186.7 Z" fill="#fff" stroke="none"/>
<line x1="296.7" y1="162.5" x2="410" y2="144.2" stroke="#1a1a1a" stroke-width="1.1"/>
<line x1="298.3" y1="165.8" x2="410" y2="146.7" stroke="#1a1a1a" stroke-width="1"/>
<line x1="303.3" y1="170" x2="406.7" y2="153.3" stroke="#1a1a1a" stroke-width="1.1"/>
<line x1="305" y1="172.5" x2="406.7" y2="155.8" stroke="#1a1a1a" stroke-width="0.9"/>
<line x1="306.7" y1="176.7" x2="398.3" y2="172.5" stroke="#1a1a1a" stroke-width="1"/>
<line x1="305" y1="180" x2="398.3" y2="175.8" stroke="#1a1a1a" stroke-width="0.9"/>
<line x1="304.2" y1="184.2" x2="398.3" y2="179.2" stroke="#1a1a1a" stroke-width="0.9"/>
<line x1="303.3" y1="186.7" x2="398.3" y2="180.8" stroke="#1a1a1a" stroke-width="1"/>
<ellipse cx="483.26" cy="163.28" rx="95.32" ry="67.71" transform="rotate(-38.91 483.26 163.28)" fill="none" stroke="#1a1a1a" stroke-width="1"/>
<ellipse cx="444.5" cy="106" rx="12" ry="8.5" transform="rotate(-30 444.5 106)" fill="none" stroke="#1a1a1a" stroke-width="1"/>
<path d="M453.24 103.98 L453.24 104.67 L453.15 105.38 L452.97 106.1 L452.7 106.83 L452.36 107.57 L451.93 108.3 L451.43 109.01 L450.86 109.71 L450.22 110.38 L449.53 111.02 L448.78 111.62 L447.99 112.18 L447.16 112.68 L446.29 113.14 L445.41 113.53 L444.51 113.87 L443.61 114.13 L442.72 114.33 L441.83 114.47 L440.96 114.53 L440.13 114.51 L439.33 114.43 L438.57 114.28 L437.87 114.05 L437.23 113.76 L436.64 113.41 L436.13 113 L435.7 112.52 L435.34 112" fill="none" stroke="#1a1a1a" stroke-width="0.8"/>
<ellipse cx="492.5" cy="176.75" rx="95.32" ry="67.71" transform="rotate(-38.91 492.5 176.75)" fill="#fff" stroke="#1a1a1a" stroke-width="1.5"/>
<ellipse cx="462.5" cy="130.5" rx="13.8" ry="12.3" transform="rotate(-30 462.5 130.5)" fill="none" stroke="#1a1a1a" stroke-width="1"/>
<path d="M453 125 L466 134 L454 134" fill="none" stroke="#1a1a1a" stroke-width="0.9"/>
<ellipse cx="458.8" cy="173.8" rx="16.8" ry="14.2" transform="rotate(-30 458.8 173.8)" fill="none" stroke="#1a1a1a" stroke-width="1"/>
<ellipse cx="459.5" cy="173.8" rx="7.3" ry="6" transform="rotate(-30 459.5 173.8)" fill="none" stroke="#1a1a1a" stroke-width="1"/>
<ellipse cx="425.8" cy="214.2" rx="14.7" ry="12" transform="rotate(-30 425.8 214.2)" fill="none" stroke="#1a1a1a" stroke-width="1"/>
<path d="M415.25 221.12 L414.63 220.58 L414.06 220 L413.57 219.36 L413.13 218.68 L412.77 217.96 L412.49 217.2 L412.27 216.42 L412.14 215.6 L412.08 214.77 L412.1 213.92 L412.19 213.07 L412.36 212.21 L412.61 211.35 L412.93 210.5 L413.32 209.66 L413.78 208.84 L414.31 208.05 L414.9 207.28 L415.55 206.55 L416.26 205.85 L417.01 205.2 L417.81 204.6 L418.65 204.05 L419.53 203.55 L420.43 203.11 L421.36 202.73 L422.3 202.41 L423.26 202.16 L424.22 201.98 L425.18 201.87 L426.13 201.82 L427.07 201.84 L427.98 201.94 L428.88 202.1 L429.73 202.33 L430.56 202.62 L431.34 202.98 L432.07 203.4 L432.75 203.88" fill="none" stroke="#1a1a1a" stroke-width="0.8"/>
<ellipse cx="493" cy="177.5" rx="21.5" ry="16" transform="rotate(-40 493 177.5)" fill="#fff" stroke="#1a1a1a" stroke-width="1.3"/>
<ellipse cx="495" cy="180" rx="18.5" ry="13.5" transform="rotate(-40 495 180)" fill="none" stroke="#1a1a1a" stroke-width="0.8"/>
<path d="M502.78 171.3 L530.66 202.8 L530.89 203.07 L531.1 203.34 L531.31 203.63 L531.5 203.92 L531.68 204.22 L531.84 204.54 L531.99 204.86 L532.13 205.19 L532.26 205.52 L532.37 205.87 L532.46 206.22 L532.55 206.58 L532.62 206.94 L532.67 207.31 L532.71 207.68 L532.74 208.06 L532.75 208.44 L532.75 208.83 L532.73 209.22 L532.7 209.61 L532.66 210.01 L532.6 210.4 L532.52 210.8 L532.44 211.2 L532.34 211.6 L532.22 212 L532.09 212.4 L531.95 212.8 L531.79 213.19 L531.63 213.59 L531.44 213.98 L531.25 214.37 L531.04 214.75 L530.82 215.13 L530.59 215.51 L530.35 215.88 L530.09 216.25 L529.83 216.61 L529.55 216.96 L529.27 217.31 L528.97 217.65 L528.66 217.98 L528.35 218.31 L528.02 218.62 L527.69 218.93 L527.35 219.23 L527 219.52 L526.64 219.8 L526.28 220.07 L525.91 220.33 L525.54 220.58 L525.16 220.82 L524.77 221.04 L524.38 221.26 L523.98 221.46 L523.59 221.65 L523.18 221.83 L522.78 221.99 L522.37 222.15 L521.96 222.29 L521.56 222.41 L521.15 222.53 L520.73 222.63 L520.32 222.71 L519.92 222.78 L519.51 222.84 L519.1 222.89 L518.7 222.92 L518.3 222.94 L517.9 222.94 L517.51 222.93 L517.12 222.91 L516.73 222.87 L516.35 222.81 L515.98 222.75 L515.61 222.67 L515.25 222.58 L514.9 222.47 L514.55 222.35 L514.21 222.22 L513.88 222.07 L513.56 221.91 L513.24 221.74 L512.94 221.55 L512.65 221.36 L512.36 221.15 L512.09 220.93 L511.83 220.7 L511.58 220.45 L481.5 190.99 L481.22 190.7 L480.96 190.4 L480.71 190.08 L480.48 189.76 L480.26 189.42 L480.05 189.07 L479.86 188.71 L479.68 188.35 L479.52 187.97 L479.37 187.59 L479.24 187.19 L479.13 186.79 L479.03 186.39 L478.94 185.97 L478.87 185.55 L478.82 185.13 L478.78 184.7 L478.76 184.26 L478.76 183.83 L478.77 183.38 L478.8 182.94 L478.84 182.49 L478.9 182.04 L478.98 181.59 L479.07 181.14 L479.18 180.69 L479.3 180.24 L479.44 179.79 L479.59 179.34 L479.76 178.89 L479.95 178.45 L480.15 178.01 L480.36 177.57 L480.59 177.14 L480.83 176.71 L481.08 176.29 L481.35 175.87 L481.63 175.46 L481.93 175.05 L482.23 174.66 L482.55 174.27 L482.88 173.89 L483.22 173.51 L483.57 173.15 L483.93 172.8 L484.3 172.45 L484.69 172.12 L485.08 171.8 L485.47 171.49 L485.88 171.19 L486.29 170.9 L486.71 170.62 L487.14 170.36 L487.57 170.11 L488.01 169.87 L488.45 169.65 L488.9 169.44 L489.35 169.25 L489.81 169.07 L490.26 168.9 L490.72 168.75 L491.18 168.61 L491.65 168.49 L492.11 168.38 L492.57 168.29 L493.03 168.22 L493.49 168.16 L493.95 168.11 L494.41 168.08 L494.86 168.07 L495.31 168.07 L495.75 168.09 L496.19 168.13 L496.63 168.18 L497.06 168.24 L497.48 168.32 L497.9 168.42 L498.31 168.53 L498.71 168.66 L499.11 168.8 L499.49 168.96 L499.87 169.13 L500.24 169.32 L500.59 169.52 L500.94 169.73 L501.28 169.96 L501.6 170.2 L501.91 170.46 L502.21 170.73 L502.5 171.01Z" fill="#fff" stroke="#1a1a1a" stroke-width="1"/>
<path d="M496.87 206.87 L496.3 206.2 L495.81 205.48 L495.39 204.71 L495.05 203.89 L494.78 203.03 L494.59 202.14 L494.48 201.21 L494.46 200.26 L494.51 199.29 L494.65 198.31 L494.86 197.33 L495.16 196.34 L495.53 195.37 L495.97 194.4 L496.49 193.46 L497.08 192.55 L497.73 191.66 L498.44 190.81 L499.2 190.01 L500.02 189.26 L500.88 188.56 L501.78 187.91 L502.72 187.33 L503.68 186.82 L504.66 186.37 L505.66 186 L506.67 185.7 L507.68 185.48 L508.69 185.33 L509.68 185.27 L510.66 185.28 L511.61 185.38 L512.54 185.55 L513.42 185.8 L514.27 186.12 L515.07 186.52 L515.82 186.99 L516.51 187.53 L517.13 188.13" fill="none" stroke="#1a1a1a" stroke-width="0.9"/>
<path d="M524.73 233.4 L510.23 217.9 L510.02 217.65 L509.82 217.4 L509.64 217.14 L509.46 216.87 L509.3 216.59 L509.14 216.3 L509 216.01 L508.87 215.71 L508.76 215.4 L508.65 215.08 L508.56 214.76 L508.49 214.43 L508.42 214.1 L508.37 213.76 L508.33 213.42 L508.3 213.07 L508.29 212.72 L508.29 212.37 L508.3 212.01 L508.33 211.65 L508.36 211.29 L508.42 210.93 L508.48 210.57 L508.56 210.2 L508.65 209.84 L508.75 209.47 L508.87 209.11 L508.99 208.75 L509.13 208.39 L509.28 208.03 L509.45 207.67 L509.62 207.32 L509.81 206.97 L510.01 206.62 L510.22 206.28 L510.44 205.94 L510.67 205.6 L510.91 205.28 L511.16 204.95 L511.41 204.64 L511.68 204.33 L511.96 204.03 L512.25 203.73 L512.54 203.44 L512.84 203.16 L513.15 202.89 L513.47 202.63 L513.79 202.38 L514.12 202.13 L514.46 201.9 L514.8 201.67 L515.15 201.46 L515.5 201.25 L515.86 201.06 L516.21 200.87 L516.58 200.7 L516.94 200.54 L517.31 200.39 L517.68 200.26 L518.05 200.13 L518.43 200.02 L518.8 199.92 L519.17 199.83 L519.55 199.75 L519.92 199.69 L520.29 199.64 L520.66 199.6 L521.03 199.57 L521.4 199.56 L521.76 199.56 L522.12 199.57 L522.48 199.59 L522.83 199.63 L523.17 199.68 L523.52 199.74 L523.85 199.82 L524.18 199.91 L524.51 200.01 L524.82 200.12 L525.13 200.24 L525.44 200.38 L525.73 200.53 L526.02 200.68 L526.3 200.86 L526.57 201.04 L526.83 201.23 L527.08 201.43 L527.32 201.65 L527.55 201.87 L527.77 202.1 L542.27 217.6 L542.48 217.85 L542.68 218.1 L542.86 218.36 L543.04 218.63 L543.2 218.91 L543.36 219.2 L543.5 219.49 L543.63 219.79 L543.74 220.1 L543.85 220.42 L543.94 220.74 L544.01 221.07 L544.08 221.4 L544.13 221.74 L544.17 222.08 L544.2 222.43 L544.21 222.78 L544.21 223.13 L544.2 223.49 L544.17 223.85 L544.14 224.21 L544.08 224.57 L544.02 224.93 L543.94 225.3 L543.85 225.66 L543.75 226.03 L543.63 226.39 L543.51 226.75 L543.37 227.11 L543.22 227.47 L543.05 227.83 L542.88 228.18 L542.69 228.53 L542.49 228.88 L542.28 229.22 L542.06 229.56 L541.83 229.9 L541.59 230.22 L541.34 230.55 L541.09 230.86 L540.82 231.17 L540.54 231.47 L540.25 231.77 L539.96 232.06 L539.66 232.34 L539.35 232.61 L539.03 232.87 L538.71 233.12 L538.38 233.37 L538.04 233.6 L537.7 233.83 L537.35 234.04 L537 234.25 L536.64 234.44 L536.29 234.63 L535.92 234.8 L535.56 234.96 L535.19 235.11 L534.82 235.24 L534.45 235.37 L534.07 235.48 L533.7 235.58 L533.33 235.67 L532.95 235.75 L532.58 235.81 L532.21 235.86 L531.84 235.9 L531.47 235.93 L531.1 235.94 L530.74 235.94 L530.38 235.93 L530.02 235.91 L529.67 235.87 L529.33 235.82 L528.98 235.76 L528.65 235.68 L528.32 235.59 L527.99 235.49 L527.68 235.38 L527.37 235.26 L527.06 235.12 L526.77 234.97 L526.48 234.82 L526.2 234.64 L525.93 234.46 L525.67 234.27 L525.42 234.07 L525.18 233.85 L524.95 233.63Z" fill="#fff" stroke="#1a1a1a" stroke-width="1"/>
<path d="M510.33 218.01 L509.7 217.24 L509.18 216.38 L508.78 215.45 L508.49 214.45 L508.33 213.4 L508.29 212.32 L508.38 211.2 L508.59 210.07 L508.92 208.94 L509.37 207.83 L509.94 206.73 L510.61 205.68 L511.38 204.68 L512.24 203.74 L513.18 202.87 L514.18 202.09 L515.25 201.4 L516.35 200.81 L517.49 200.32 L518.65 199.96 L519.81 199.71 L520.96 199.58 L522.09 199.57 L523.18 199.68 L524.22 199.92 L525.2 200.27 L526.11 200.74 L526.93 201.31 L527.67 201.99" fill="none" stroke="#1a1a1a" stroke-width="1.1"/>
<path d="M511.58 219.36 L510.95 218.59 L510.43 217.73 L510.03 216.8 L509.74 215.8 L509.58 214.75 L509.54 213.67 L509.63 212.55 L509.84 211.42 L510.17 210.29 L510.62 209.18 L511.19 208.08 L511.86 207.03 L512.63 206.03 L513.49 205.09 L514.43 204.22 L515.43 203.44 L516.5 202.75 L517.6 202.16 L518.74 201.67 L519.9 201.31 L521.06 201.06 L522.21 200.93 L523.34 200.92 L524.43 201.03 L525.47 201.27 L526.45 201.62 L527.36 202.09 L528.18 202.66 L528.92 203.34" fill="none" stroke="#1a1a1a" stroke-width="1.1"/>
<path d="M512.83 220.71 L512.2 219.94 L511.68 219.08 L511.28 218.15 L510.99 217.15 L510.83 216.1 L510.79 215.02 L510.88 213.9 L511.09 212.77 L511.42 211.64 L511.87 210.53 L512.44 209.43 L513.11 208.38 L513.88 207.38 L514.74 206.44 L515.68 205.57 L516.68 204.79 L517.75 204.1 L518.85 203.51 L519.99 203.02 L521.15 202.66 L522.31 202.41 L523.46 202.28 L524.59 202.27 L525.68 202.38 L526.72 202.62 L527.7 202.97 L528.61 203.44 L529.43 204.01 L530.17 204.69" fill="none" stroke="#1a1a1a" stroke-width="1.1"/>
<path d="M514.08 222.06 L513.45 221.29 L512.93 220.43 L512.53 219.5 L512.24 218.5 L512.08 217.45 L512.04 216.37 L512.13 215.25 L512.34 214.12 L512.67 212.99 L513.12 211.88 L513.69 210.78 L514.36 209.73 L515.13 208.73 L515.99 207.79 L516.93 206.92 L517.93 206.14 L519 205.45 L520.1 204.86 L521.24 204.37 L522.4 204.01 L523.56 203.76 L524.71 203.63 L525.84 203.62 L526.93 203.73 L527.97 203.97 L528.95 204.32 L529.86 204.79 L530.68 205.36 L531.42 206.04" fill="none" stroke="#1a1a1a" stroke-width="1.1"/>
<path d="M515.33 223.41 L514.7 222.64 L514.18 221.78 L513.78 220.85 L513.49 219.85 L513.33 218.8 L513.29 217.72 L513.38 216.6 L513.59 215.47 L513.92 214.34 L514.37 213.23 L514.94 212.13 L515.61 211.08 L516.38 210.08 L517.24 209.14 L518.18 208.27 L519.18 207.49 L520.25 206.8 L521.35 206.21 L522.49 205.72 L523.65 205.36 L524.81 205.11 L525.96 204.98 L527.09 204.97 L528.18 205.08 L529.22 205.32 L530.2 205.67 L531.11 206.14 L531.93 206.71 L532.67 207.39" fill="none" stroke="#1a1a1a" stroke-width="1.1"/>
<path d="M516.58 224.76 L515.95 223.99 L515.43 223.13 L515.03 222.2 L514.74 221.2 L514.58 220.15 L514.54 219.07 L514.63 217.95 L514.84 216.82 L515.17 215.69 L515.62 214.58 L516.19 213.48 L516.86 212.43 L517.63 211.43 L518.49 210.49 L519.43 209.62 L520.43 208.84 L521.5 208.15 L522.6 207.56 L523.74 207.07 L524.9 206.71 L526.06 206.46 L527.21 206.33 L528.34 206.32 L529.43 206.43 L530.47 206.67 L531.45 207.02 L532.36 207.49 L533.18 208.06 L533.92 208.74" fill="none" stroke="#1a1a1a" stroke-width="1.1"/>
<path d="M517.83 226.11 L517.2 225.34 L516.68 224.48 L516.28 223.55 L515.99 222.55 L515.83 221.5 L515.79 220.42 L515.88 219.3 L516.09 218.17 L516.42 217.04 L516.87 215.93 L517.44 214.83 L518.11 213.78 L518.88 212.78 L519.74 211.84 L520.68 210.97 L521.68 210.19 L522.75 209.5 L523.85 208.91 L524.99 208.42 L526.15 208.06 L527.31 207.81 L528.46 207.68 L529.59 207.67 L530.68 207.78 L531.72 208.02 L532.7 208.37 L533.61 208.84 L534.43 209.41 L535.17 210.09" fill="none" stroke="#1a1a1a" stroke-width="1.1"/>
<path d="M519.08 227.46 L518.45 226.69 L517.93 225.83 L517.53 224.9 L517.24 223.9 L517.08 222.85 L517.04 221.77 L517.13 220.65 L517.34 219.52 L517.67 218.39 L518.12 217.28 L518.69 216.18 L519.36 215.13 L520.13 214.13 L520.99 213.19 L521.93 212.32 L522.93 211.54 L524 210.85 L525.1 210.26 L526.24 209.77 L527.4 209.41 L528.56 209.16 L529.71 209.03 L530.84 209.02 L531.93 209.13 L532.97 209.37 L533.95 209.72 L534.86 210.19 L535.68 210.76 L536.42 211.44" fill="none" stroke="#1a1a1a" stroke-width="1.1"/>
<path d="M520.33 228.81 L519.7 228.04 L519.18 227.18 L518.78 226.25 L518.49 225.25 L518.33 224.2 L518.29 223.12 L518.38 222 L518.59 220.87 L518.92 219.74 L519.37 218.63 L519.94 217.53 L520.61 216.48 L521.38 215.48 L522.24 214.54 L523.18 213.67 L524.18 212.89 L525.25 212.2 L526.35 211.61 L527.49 211.12 L528.65 210.76 L529.81 210.51 L530.96 210.38 L532.09 210.37 L533.18 210.48 L534.22 210.72 L535.2 211.07 L536.11 211.54 L536.93 212.11 L537.67 212.79" fill="none" stroke="#1a1a1a" stroke-width="1.1"/>
<path d="M521.58 230.16 L520.95 229.39 L520.43 228.53 L520.03 227.6 L519.74 226.6 L519.58 225.55 L519.54 224.47 L519.63 223.35 L519.84 222.22 L520.17 221.09 L520.62 219.98 L521.19 218.88 L521.86 217.83 L522.63 216.83 L523.49 215.89 L524.43 215.02 L525.43 214.24 L526.5 213.55 L527.6 212.96 L528.74 212.47 L529.9 212.11 L531.06 211.86 L532.21 211.73 L533.34 211.72 L534.43 211.83 L535.47 212.07 L536.45 212.42 L537.36 212.89 L538.18 213.46 L538.92 214.14" fill="none" stroke="#1a1a1a" stroke-width="1.1"/>
<path d="M522.83 231.51 L522.2 230.74 L521.68 229.88 L521.28 228.95 L520.99 227.95 L520.83 226.9 L520.79 225.82 L520.88 224.7 L521.09 223.57 L521.42 222.44 L521.87 221.33 L522.44 220.23 L523.11 219.18 L523.88 218.18 L524.74 217.24 L525.68 216.37 L526.68 215.59 L527.75 214.9 L528.85 214.31 L529.99 213.82 L531.15 213.46 L532.31 213.21 L533.46 213.08 L534.59 213.07 L535.68 213.18 L536.72 213.42 L537.7 213.77 L538.61 214.24 L539.43 214.81 L540.17 215.49" fill="none" stroke="#1a1a1a" stroke-width="1.1"/>
<ellipse cx="534" cy="225.8" rx="11" ry="8.6" transform="rotate(-42 534 225.8)" fill="#fff" stroke="#1a1a1a" stroke-width="1"/>
<ellipse cx="533.3" cy="226" rx="3.6" ry="2.8" transform="rotate(-42 533.3 226)" fill="#fff" stroke="#1a1a1a" stroke-width="1"/>
<path d="M586.94 237.69 L586.82 238.08 L586.67 238.49 L586.51 238.9 L586.33 239.32 L586.14 239.73 L585.94 240.14 L585.74 240.54 L585.55 240.94 L585.36 241.32 L585.19 241.68 L585.04 242.03 L584.91 242.36 L584.81 242.67 L584.73 242.97 L584.69 243.23 L584.69 243.48 L584.72 243.71 L584.8 243.91 L584.91 244.1 L585.06 244.27 L585.26 244.41 L585.49 244.55 L585.76 244.67 L586.06 244.78 L586.4 244.88 L586.76 244.97 L587.15 245.06 L587.56 245.14 L587.98 245.23 L588.42 245.32 L588.85 245.41 L589.29 245.52 L589.72 245.63 L590.14 245.75 L590.54 245.88 L590.92 246.03 L591.27 246.19 L591.59 246.36 L591.88 246.56 L592.1 246.77 L592.16 247.03 L592.22 247.29 L592.28 247.55 L592.34 247.81 L592.39 248.07 L592.44 248.33 L592.49 248.6 L592.47 248.88 L592.31 249.18 L592.11 249.49 L591.87 249.8 L591.6 250.12 L591.31 250.43 L590.99 250.74 L590.65 251.05 L590.3 251.35 L589.95 251.65 L589.6 251.94 L589.25 252.22 L588.91 252.49 L588.59 252.76 L588.29 253.02 L588.02 253.28 L587.78 253.52 L587.57 253.76 L587.4 253.99 L587.26 254.22 L587.18 254.45 L587.13 254.67 L587.13 254.89 L587.17 255.11 L587.26 255.33 L587.39 255.55 L587.55 255.77 L587.76 256 L588 256.23 L588.27 256.47 L588.56 256.71 L588.87 256.97 L589.2 257.22 L589.54 257.49 L589.88 257.76 L590.22 258.04 L590.56 258.32 L590.88 258.61 L591.19 258.9 L591.47 259.2 L591.72 259.5 L591.94 259.8 L592.12 260.09 L592.27 260.39 L592.25 260.66 L592.19 260.93 L592.13 261.19 L592.06 261.46 L592 261.72 L591.93 261.99 L591.86 262.25 L591.78 262.52 L591.53 262.74 L591.23 262.94 L590.9 263.13 L590.53 263.31 L590.14 263.48 L589.74 263.63 L589.31 263.78 L588.87 263.91 L588.43 264.04 L587.99 264.16 L587.55 264.27 L587.13 264.38 L586.72 264.49 L586.33 264.6 L585.97 264.72 L585.63 264.84 L585.33 264.97 L585.06 265.1 L584.83 265.25 L584.63 265.41 L584.48 265.59 L584.36 265.79 L584.29 266 L584.25 266.23 L584.25 266.48 L584.28 266.75 L584.35 267.04 L584.45 267.35 L584.57 267.67 L584.71 268.02 L584.87 268.38 L585.04 268.75 L585.22 269.13 L585.4 269.53 L585.58 269.93 L585.76 270.33 L585.92 270.73 L586.06 271.14 L586.19 271.53 L586.29 271.92 L586.37 272.3 L586.41 272.66 L586.42 273 L586.35 273.29 L586.18 273.51 L586.01 273.73 L585.84 273.95 L585.66 274.16 L585.49 274.38 L585.31 274.59 L585.13 274.8 L584.87 274.95 L584.53 275.03 L584.16 275.07 L583.77 275.09 L583.36 275.09 L582.94 275.07 L582.5 275.02 L582.06 274.97 L581.62 274.9 L581.17 274.82 L580.74 274.74 L580.31 274.66 L579.89 274.59 L579.49 274.52 L579.11 274.46 L578.76 274.42 L578.42 274.4 L578.11 274.4 L577.83 274.43 L577.58 274.48 L577.35 274.57 L577.15 274.68 L576.98 274.83 L576.83 275.01 L576.71 275.23 L576.61 275.48 L576.54 275.76 L576.48 276.07 L576.43 276.42 L576.4 276.78 L576.38 277.17 L576.37 277.58 L576.35 278.01 L576.34 278.44 L576.32 278.89 L576.3 279.33 L576.27 279.78 L576.23 280.22 L576.17 280.64 L576.1 281.05 L576 281.44 L575.89 281.8 L575.76 282.14 L575.6 282.44 L575.37 282.58 L575.12 282.71 L574.87 282.84 L574.62 282.97 L574.37 283.09 L574.12 283.21 L573.87 283.33 L573.61 283.43 L573.28 283.37 L572.94 283.27 L572.59 283.14 L572.23 282.97 L571.87 282.78 L571.51 282.56 L571.14 282.33 L570.78 282.08 L570.42 281.82 L570.07 281.56 L569.73 281.3 L569.39 281.05 L569.06 280.81 L568.75 280.59 L568.45 280.39 L568.16 280.21 L567.88 280.07 L567.61 279.96 L567.36 279.88 L567.12 279.84 L566.89 279.85 L566.67 279.89 L566.46 279.98 L566.25 280.11 L566.05 280.28 L565.86 280.5 L565.67 280.74 L565.48 281.03 L565.29 281.34 L565.1 281.68 L564.9 282.04 L564.71 282.42 L564.51 282.82 L564.3 283.22 L564.08 283.62 L563.86 284.02 L563.64 284.41 L563.4 284.78 L563.16 285.14 L562.91 285.47 L562.65 285.77 L562.39 286.04 L562.12 286.27 L561.85 286.38 L561.57 286.4 L561.3 286.41 L561.02 286.42 L560.75 286.43 L560.47 286.43 L560.2 286.43 L559.92 286.44 L559.66 286.31 L559.4 286.09 L559.15 285.83 L558.9 285.54 L558.67 285.22 L558.44 284.88 L558.22 284.51 L558.01 284.13 L557.8 283.74 L557.6 283.35 L557.41 282.96 L557.23 282.58 L557.04 282.22 L556.87 281.87 L556.69 281.54 L556.51 281.24 L556.33 280.97 L556.15 280.74 L555.96 280.55 L555.77 280.39 L555.57 280.28 L555.36 280.21 L555.14 280.18 L554.9 280.2 L554.66 280.26 L554.4 280.35 L554.13 280.48 L553.84 280.65 L553.54 280.84 L553.23 281.07 L552.91 281.31 L552.57 281.57 L552.22 281.85 L551.86 282.12 L551.5 282.41 L551.13 282.68 L550.76 282.95 L550.39 283.2 L550.01 283.44 L549.65 283.65 L549.28 283.83 L548.93 283.98 L548.59 284.09 L548.26 284.16 L548.01 284.06 L547.76 283.95 L547.52 283.85 L547.27 283.74 L547.03 283.63 L546.78 283.51 L546.54 283.4 L546.32 283.24 L546.18 282.94 L546.06 282.61 L545.97 282.25 L545.89 281.86 L545.84 281.45 L545.8 281.03 L545.78 280.59 L545.76 280.15 L545.76 279.7 L545.76 279.26 L545.77 278.83 L545.77 278.4 L545.77 278 L545.76 277.61 L545.74 277.25 L545.71 276.91 L545.66 276.61 L545.59 276.34 L545.5 276.1 L545.38 275.89 L545.24 275.72 L545.07 275.59 L544.87 275.49 L544.64 275.42 L544.38 275.39 L544.1 275.38 L543.79 275.4 L543.45 275.44 L543.08 275.51 L542.7 275.59 L542.29 275.68 L541.87 275.78 L541.44 275.89 L541 275.99 L540.55 276.09 L540.1 276.19 L539.66 276.27 L539.22 276.33 L538.8 276.38 L538.39 276.4 L538.01 276.4 L537.64 276.37 L537.31 276.31 L537.08 276.16 L536.91 275.95 L536.74 275.75 L536.57 275.55 L536.4 275.34 L536.24 275.13 L536.07 274.92 L535.91 274.71 L535.88 274.41 L535.91 274.06 L535.97 273.69 L536.06 273.31 L536.18 272.92 L536.33 272.51 L536.49 272.1 L536.67 271.68 L536.86 271.27 L537.06 270.86 L537.26 270.46 L537.45 270.06 L537.64 269.68 L537.81 269.32 L537.96 268.97 L538.09 268.64 L538.19 268.33 L538.27 268.03 L538.31 267.77 L538.31 267.52 L538.28 267.29 L538.2 267.09 L538.09 266.9 L537.94 266.73 L537.74 266.59 L537.51 266.45 L537.24 266.33 L536.94 266.22 L536.6 266.12 L536.24 266.03 L535.85 265.94 L535.44 265.86 L535.02 265.77 L534.58 265.68 L534.15 265.59 L533.71 265.48 L533.28 265.37 L532.86 265.25 L532.46 265.12 L532.08 264.97 L531.73 264.81 L531.41 264.64 L531.12 264.44 L530.9 264.23 L530.84 263.97 L530.78 263.71 L530.72 263.45 L530.66 263.19 L530.61 262.93 L530.56 262.67 L530.51 262.4 L530.53 262.12 L530.69 261.82 L530.89 261.51 L531.13 261.2 L531.4 260.88 L531.69 260.57 L532.01 260.26 L532.35 259.95 L532.7 259.65 L533.05 259.35 L533.4 259.06 L533.75 258.78 L534.09 258.51 L534.41 258.24 L534.71 257.98 L534.98 257.72 L535.22 257.48 L535.43 257.24 L535.6 257.01 L535.74 256.78 L535.82 256.55 L535.87 256.33 L535.87 256.11 L535.83 255.89 L535.74 255.67 L535.61 255.45 L535.45 255.23 L535.24 255 L535 254.77 L534.73 254.53 L534.44 254.29 L534.13 254.03 L533.8 253.78 L533.46 253.51 L533.12 253.24 L532.78 252.96 L532.44 252.68 L532.12 252.39 L531.81 252.1 L531.53 251.8 L531.28 251.5 L531.06 251.2 L530.88 250.91 L530.73 250.61 L530.75 250.34 L530.81 250.07 L530.87 249.81 L530.94 249.54 L531 249.28 L531.07 249.01 L531.14 248.75 L531.22 248.48 L531.47 248.26 L531.77 248.06 L532.1 247.87 L532.47 247.69 L532.86 247.52 L533.26 247.37 L533.69 247.22 L534.13 247.09 L534.57 246.96 L535.01 246.84 L535.45 246.73 L535.87 246.62 L536.28 246.51 L536.67 246.4 L537.03 246.28 L537.37 246.16 L537.67 246.03 L537.94 245.9 L538.17 245.75 L538.37 245.59 L538.52 245.41 L538.64 245.21 L538.71 245 L538.75 244.77 L538.75 244.52 L538.72 244.25 L538.65 243.96 L538.55 243.65 L538.43 243.33 L538.29 242.98 L538.13 242.62 L537.96 242.25 L537.78 241.87 L537.6 241.47 L537.42 241.07 L537.24 240.67 L537.08 240.27 L536.94 239.86 L536.81 239.47 L536.71 239.08 L536.63 238.7 L536.59 238.34 L536.58 238 L536.65 237.71 L536.82 237.49 L536.99 237.27 L537.16 237.05 L537.34 236.84 L537.51 236.62 L537.69 236.41 L537.87 236.2 L538.13 236.05 L538.47 235.97 L538.84 235.93 L539.23 235.91 L539.64 235.91 L540.06 235.93 L540.5 235.98 L540.94 236.03 L541.38 236.1 L541.83 236.18 L542.26 236.26 L542.69 236.34 L543.11 236.41 L543.51 236.48 L543.89 236.54 L544.24 236.58 L544.58 236.6 L544.89 236.6 L545.17 236.57 L545.42 236.52 L545.65 236.43 L545.85 236.32 L546.02 236.17 L546.17 235.99 L546.29 235.77 L546.39 235.52 L546.46 235.24 L546.52 234.93 L546.57 234.58 L546.6 234.22 L546.62 233.83 L546.63 233.42 L546.65 232.99 L546.66 232.56 L546.68 232.11 L546.7 231.67 L546.73 231.22 L546.77 230.78 L546.83 230.36 L546.9 229.95 L547 229.56 L547.11 229.2 L547.24 228.86 L547.4 228.56 L547.63 228.42 L547.88 228.29 L548.13 228.16 L548.38 228.03 L548.63 227.91 L548.88 227.79 L549.13 227.67 L549.39 227.57 L549.72 227.63 L550.06 227.73 L550.41 227.86 L550.77 228.03 L551.13 228.22 L551.49 228.44 L551.86 228.67 L552.22 228.92 L552.58 229.18 L552.93 229.44 L553.27 229.7 L553.61 229.95 L553.94 230.19 L554.25 230.41 L554.55 230.61 L554.84 230.79 L555.12 230.93 L555.39 231.04 L555.64 231.12 L555.88 231.16 L556.11 231.15 L556.33 231.11 L556.54 231.02 L556.75 230.89 L556.95 230.72 L557.14 230.5 L557.33 230.26 L557.52 229.97 L557.71 229.66 L557.9 229.32 L558.1 228.96 L558.29 228.58 L558.49 228.18 L558.7 227.78 L558.92 227.38 L559.14 226.98 L559.36 226.59 L559.6 226.22 L559.84 225.86 L560.09 225.53 L560.35 225.23 L560.61 224.96 L560.88 224.73 L561.15 224.62 L561.43 224.6 L561.7 224.59 L561.98 224.58 L562.25 224.57 L562.53 224.57 L562.8 224.57 L563.08 224.56 L563.34 224.69 L563.6 224.91 L563.85 225.17 L564.1 225.46 L564.33 225.78 L564.56 226.12 L564.78 226.49 L564.99 226.87 L565.2 227.26 L565.4 227.65 L565.59 228.04 L565.77 228.42 L565.96 228.78 L566.13 229.13 L566.31 229.46 L566.49 229.76 L566.67 230.03 L566.85 230.26 L567.04 230.45 L567.23 230.61 L567.43 230.72 L567.64 230.79 L567.86 230.82 L568.1 230.8 L568.34 230.74 L568.6 230.65 L568.87 230.52 L569.16 230.35 L569.46 230.16 L569.77 229.93 L570.09 229.69 L570.43 229.43 L570.78 229.15 L571.14 228.88 L571.5 228.59 L571.87 228.32 L572.24 228.05 L572.61 227.8 L572.99 227.56 L573.35 227.35 L573.72 227.17 L574.07 227.02 L574.41 226.91 L574.74 226.84 L574.99 226.94 L575.24 227.05 L575.48 227.15 L575.73 227.26 L575.97 227.37 L576.22 227.49 L576.46 227.6 L576.68 227.76 L576.82 228.06 L576.94 228.39 L577.03 228.75 L577.11 229.14 L577.16 229.55 L577.2 229.97 L577.22 230.41 L577.24 230.85 L577.24 231.3 L577.24 231.74 L577.23 232.17 L577.23 232.6 L577.23 233 L577.24 233.39 L577.26 233.75 L577.29 234.09 L577.34 234.39 L577.41 234.66 L577.5 234.9 L577.62 235.11 L577.76 235.28 L577.93 235.41 L578.13 235.51 L578.36 235.58 L578.62 235.61 L578.9 235.62 L579.21 235.6 L579.55 235.56 L579.92 235.49 L580.3 235.41 L580.71 235.32 L581.13 235.22 L581.56 235.11 L582 235.01 L582.45 234.91 L582.9 234.81 L583.34 234.73 L583.78 234.67 L584.2 234.62 L584.61 234.6 L584.99 234.6 L585.36 234.63 L585.69 234.69 L585.92 234.84 L586.09 235.05 L586.26 235.25 L586.43 235.45 L586.6 235.66 L586.76 235.87 L586.93 236.08 L587.09 236.29 L587.12 236.59 L587.09 236.94 L587.03 237.31Z" fill="#fff" stroke="#1a1a1a" stroke-width="1"/>
<path d="M588.44 239.39 L588.32 239.78 L588.17 240.19 L588.01 240.6 L587.83 241.02 L587.64 241.43 L587.44 241.84 L587.24 242.24 L587.05 242.64 L586.86 243.02 L586.69 243.38 L586.54 243.73 L586.41 244.06 L586.31 244.37 L586.23 244.67 L586.19 244.93 L586.19 245.18 L586.22 245.41 L586.3 245.61 L586.41 245.8 L586.56 245.97 L586.76 246.11 L586.99 246.25 L587.26 246.37 L587.56 246.48 L587.9 246.58 L588.26 246.67 L588.65 246.76 L589.06 246.84 L589.48 246.93 L589.92 247.02 L590.35 247.11 L590.79 247.22 L591.22 247.33 L591.64 247.45 L592.04 247.58 L592.42 247.73 L592.77 247.89 L593.09 248.06 L593.38 248.26 L593.6 248.47 L593.66 248.73 L593.72 248.99 L593.78 249.25 L593.84 249.51 L593.89 249.77 L593.94 250.03 L593.99 250.3 L593.97 250.58 L593.81 250.88 L593.61 251.19 L593.37 251.5 L593.1 251.82 L592.81 252.13 L592.49 252.44 L592.15 252.75 L591.8 253.05 L591.45 253.35 L591.1 253.64 L590.75 253.92 L590.41 254.19 L590.09 254.46 L589.79 254.72 L589.52 254.98 L589.28 255.22 L589.07 255.46 L588.9 255.69 L588.76 255.92 L588.68 256.15 L588.63 256.37 L588.63 256.59 L588.67 256.81 L588.76 257.03 L588.89 257.25 L589.05 257.47 L589.26 257.7 L589.5 257.93 L589.77 258.17 L590.06 258.41 L590.37 258.67 L590.7 258.92 L591.04 259.19 L591.38 259.46 L591.72 259.74 L592.06 260.02 L592.38 260.31 L592.69 260.6 L592.97 260.9 L593.22 261.2 L593.44 261.5 L593.62 261.79 L593.77 262.09 L593.75 262.36 L593.69 262.63 L593.63 262.89 L593.56 263.16 L593.5 263.42 L593.43 263.69 L593.36 263.95 L593.28 264.22 L593.03 264.44 L592.73 264.64 L592.4 264.83 L592.03 265.01 L591.64 265.18 L591.24 265.33 L590.81 265.48 L590.37 265.61 L589.93 265.74 L589.49 265.86 L589.05 265.97 L588.63 266.08 L588.22 266.19 L587.83 266.3 L587.47 266.42 L587.13 266.54 L586.83 266.67 L586.56 266.8 L586.33 266.95 L586.13 267.11 L585.98 267.29 L585.86 267.49 L585.79 267.7 L585.75 267.93 L585.75 268.18 L585.78 268.45 L585.85 268.74 L585.95 269.05 L586.07 269.37 L586.21 269.72 L586.37 270.08 L586.54 270.45 L586.72 270.83 L586.9 271.23 L587.08 271.63 L587.26 272.03 L587.42 272.43 L587.56 272.84 L587.69 273.23 L587.79 273.62 L587.87 274 L587.91 274.36 L587.92 274.7 L587.85 274.99 L587.68 275.21 L587.51 275.43 L587.34 275.65 L587.16 275.86 L586.99 276.08 L586.81 276.29 L586.63 276.5 L586.37 276.65 L586.03 276.73 L585.66 276.77 L585.27 276.79 L584.86 276.79 L584.44 276.77 L584 276.72 L583.56 276.67 L583.12 276.6 L582.67 276.52 L582.24 276.44 L581.81 276.36 L581.39 276.29 L580.99 276.22 L580.61 276.16 L580.26 276.12 L579.92 276.1 L579.61 276.1 L579.33 276.13 L579.08 276.18 L578.85 276.27 L578.65 276.38 L578.48 276.53 L578.33 276.71 L578.21 276.93 L578.11 277.18 L578.04 277.46 L577.98 277.77 L577.93 278.12 L577.9 278.48 L577.88 278.87 L577.87 279.28 L577.85 279.71 L577.84 280.14 L577.82 280.59 L577.8 281.03 L577.77 281.48 L577.73 281.92 L577.67 282.34 L577.6 282.75 L577.5 283.14 L577.39 283.5 L577.26 283.84 L577.1 284.14 L576.87 284.28 L576.62 284.41 L576.37 284.54 L576.12 284.67 L575.87 284.79 L575.62 284.91 L575.37 285.03 L575.11 285.13 L574.78 285.07 L574.44 284.97 L574.09 284.84 L573.73 284.67 L573.37 284.48 L573.01 284.26 L572.64 284.03 L572.28 283.78 L571.92 283.52 L571.57 283.26 L571.23 283 L570.89 282.75 L570.56 282.51 L570.25 282.29 L569.95 282.09 L569.66 281.91 L569.38 281.77 L569.11 281.66 L568.86 281.58 L568.62 281.54 L568.39 281.55 L568.17 281.59 L567.96 281.68 L567.75 281.81 L567.55 281.98 L567.36 282.2 L567.17 282.44 L566.98 282.73 L566.79 283.04 L566.6 283.38 L566.4 283.74 L566.21 284.12 L566.01 284.52 L565.8 284.92 L565.58 285.32 L565.36 285.72 L565.14 286.11 L564.9 286.48 L564.66 286.84 L564.41 287.17 L564.15 287.47 L563.89 287.74 L563.62 287.97 L563.35 288.08 L563.07 288.1 L562.8 288.11 L562.52 288.12 L562.25 288.13 L561.97 288.13 L561.7 288.13 L561.42 288.14 L561.16 288.01 L560.9 287.79 L560.65 287.53 L560.4 287.24 L560.17 286.92 L559.94 286.58 L559.72 286.21 L559.51 285.83 L559.3 285.44 L559.1 285.05 L558.91 284.66 L558.73 284.28 L558.54 283.92 L558.37 283.57 L558.19 283.24 L558.01 282.94 L557.83 282.67 L557.65 282.44 L557.46 282.25 L557.27 282.09 L557.07 281.98 L556.86 281.91 L556.64 281.88 L556.4 281.9 L556.16 281.96 L555.9 282.05 L555.63 282.18 L555.34 282.35 L555.04 282.54 L554.73 282.77 L554.41 283.01 L554.07 283.27 L553.72 283.55 L553.36 283.82 L553 284.11 L552.63 284.38 L552.26 284.65 L551.89 284.9 L551.51 285.14 L551.15 285.35 L550.78 285.53 L550.43 285.68 L550.09 285.79 L549.76 285.86 L549.51 285.76 L549.26 285.65 L549.02 285.55 L548.77 285.44 L548.53 285.33 L548.28 285.21 L548.04 285.1 L547.82 284.94 L547.68 284.64 L547.56 284.31 L547.47 283.95 L547.39 283.56 L547.34 283.15 L547.3 282.73 L547.28 282.29 L547.26 281.85 L547.26 281.4 L547.26 280.96 L547.27 280.53 L547.27 280.1 L547.27 279.7 L547.26 279.31 L547.24 278.95 L547.21 278.61 L547.16 278.31 L547.09 278.04 L547 277.8 L546.88 277.59 L546.74 277.42 L546.57 277.29 L546.37 277.19 L546.14 277.12 L545.88 277.09 L545.6 277.08 L545.29 277.1 L544.95 277.14 L544.58 277.21 L544.2 277.29 L543.79 277.38 L543.37 277.48 L542.94 277.59 L542.5 277.69 L542.05 277.79 L541.6 277.89 L541.16 277.97 L540.72 278.03 L540.3 278.08 L539.89 278.1 L539.51 278.1 L539.14 278.07 L538.81 278.01 L538.58 277.86 L538.41 277.65 L538.24 277.45 L538.07 277.25 L537.9 277.04 L537.74 276.83 L537.57 276.62 L537.41 276.41 L537.38 276.11 L537.41 275.76 L537.47 275.39 L537.56 275.01 L537.68 274.62 L537.83 274.21 L537.99 273.8 L538.17 273.38 L538.36 272.97 L538.56 272.56 L538.76 272.16 L538.95 271.76 L539.14 271.38 L539.31 271.02 L539.46 270.67 L539.59 270.34 L539.69 270.03 L539.77 269.73 L539.81 269.47 L539.81 269.22 L539.78 268.99 L539.7 268.79 L539.59 268.6 L539.44 268.43 L539.24 268.29 L539.01 268.15 L538.74 268.03 L538.44 267.92 L538.1 267.82 L537.74 267.73 L537.35 267.64 L536.94 267.56 L536.52 267.47 L536.08 267.38 L535.65 267.29 L535.21 267.18 L534.78 267.07 L534.36 266.95 L533.96 266.82 L533.58 266.67 L533.23 266.51 L532.91 266.34 L532.62 266.14 L532.4 265.93 L532.34 265.67 L532.28 265.41 L532.22 265.15 L532.16 264.89 L532.11 264.63 L532.06 264.37 L532.01 264.1 L532.03 263.82 L532.19 263.52 L532.39 263.21 L532.63 262.9 L532.9 262.58 L533.19 262.27 L533.51 261.96 L533.85 261.65 L534.2 261.35 L534.55 261.05 L534.9 260.76 L535.25 260.48 L535.59 260.21 L535.91 259.94 L536.21 259.68 L536.48 259.42 L536.72 259.18 L536.93 258.94 L537.1 258.71 L537.24 258.48 L537.32 258.25 L537.37 258.03 L537.37 257.81 L537.33 257.59 L537.24 257.37 L537.11 257.15 L536.95 256.93 L536.74 256.7 L536.5 256.47 L536.23 256.23 L535.94 255.99 L535.63 255.73 L535.3 255.48 L534.96 255.21 L534.62 254.94 L534.28 254.66 L533.94 254.38 L533.62 254.09 L533.31 253.8 L533.03 253.5 L532.78 253.2 L532.56 252.9 L532.38 252.61 L532.23 252.31 L532.25 252.04 L532.31 251.77 L532.37 251.51 L532.44 251.24 L532.5 250.98 L532.57 250.71 L532.64 250.45 L532.72 250.18 L532.97 249.96 L533.27 249.76 L533.6 249.57 L533.97 249.39 L534.36 249.22 L534.76 249.07 L535.19 248.92 L535.63 248.79 L536.07 248.66 L536.51 248.54 L536.95 248.43 L537.37 248.32 L537.78 248.21 L538.17 248.1 L538.53 247.98 L538.87 247.86 L539.17 247.73 L539.44 247.6 L539.67 247.45 L539.87 247.29 L540.02 247.11 L540.14 246.91 L540.21 246.7 L540.25 246.47 L540.25 246.22 L540.22 245.95 L540.15 245.66 L540.05 245.35 L539.93 245.03 L539.79 244.68 L539.63 244.32 L539.46 243.95 L539.28 243.57 L539.1 243.17 L538.92 242.77 L538.74 242.37 L538.58 241.97 L538.44 241.56 L538.31 241.17 L538.21 240.78 L538.13 240.4 L538.09 240.04 L538.08 239.7 L538.15 239.41 L538.32 239.19 L538.49 238.97 L538.66 238.75 L538.84 238.54 L539.01 238.32 L539.19 238.11 L539.37 237.9 L539.63 237.75 L539.97 237.67 L540.34 237.63 L540.73 237.61 L541.14 237.61 L541.56 237.63 L542 237.68 L542.44 237.73 L542.88 237.8 L543.33 237.88 L543.76 237.96 L544.19 238.04 L544.61 238.11 L545.01 238.18 L545.39 238.24 L545.74 238.28 L546.08 238.3 L546.39 238.3 L546.67 238.27 L546.92 238.22 L547.15 238.13 L547.35 238.02 L547.52 237.87 L547.67 237.69 L547.79 237.47 L547.89 237.22 L547.96 236.94 L548.02 236.63 L548.07 236.28 L548.1 235.92 L548.12 235.53 L548.13 235.12 L548.15 234.69 L548.16 234.26 L548.18 233.81 L548.2 233.37 L548.23 232.92 L548.27 232.48 L548.33 232.06 L548.4 231.65 L548.5 231.26 L548.61 230.9 L548.74 230.56 L548.9 230.26 L549.13 230.12 L549.38 229.99 L549.63 229.86 L549.88 229.73 L550.13 229.61 L550.38 229.49 L550.63 229.37 L550.89 229.27 L551.22 229.33 L551.56 229.43 L551.91 229.56 L552.27 229.73 L552.63 229.92 L552.99 230.14 L553.36 230.37 L553.72 230.62 L554.08 230.88 L554.43 231.14 L554.77 231.4 L555.11 231.65 L555.44 231.89 L555.75 232.11 L556.05 232.31 L556.34 232.49 L556.62 232.63 L556.89 232.74 L557.14 232.82 L557.38 232.86 L557.61 232.85 L557.83 232.81 L558.04 232.72 L558.25 232.59 L558.45 232.42 L558.64 232.2 L558.83 231.96 L559.02 231.67 L559.21 231.36 L559.4 231.02 L559.6 230.66 L559.79 230.28 L559.99 229.88 L560.2 229.48 L560.42 229.08 L560.64 228.68 L560.86 228.29 L561.1 227.92 L561.34 227.56 L561.59 227.23 L561.85 226.93 L562.11 226.66 L562.38 226.43 L562.65 226.32 L562.93 226.3 L563.2 226.29 L563.48 226.28 L563.75 226.27 L564.03 226.27 L564.3 226.27 L564.58 226.26 L564.84 226.39 L565.1 226.61 L565.35 226.87 L565.6 227.16 L565.83 227.48 L566.06 227.82 L566.28 228.19 L566.49 228.57 L566.7 228.96 L566.9 229.35 L567.09 229.74 L567.27 230.12 L567.46 230.48 L567.63 230.83 L567.81 231.16 L567.99 231.46 L568.17 231.73 L568.35 231.96 L568.54 232.15 L568.73 232.31 L568.93 232.42 L569.14 232.49 L569.36 232.52 L569.6 232.5 L569.84 232.44 L570.1 232.35 L570.37 232.22 L570.66 232.05 L570.96 231.86 L571.27 231.63 L571.59 231.39 L571.93 231.13 L572.28 230.85 L572.64 230.58 L573 230.29 L573.37 230.02 L573.74 229.75 L574.11 229.5 L574.49 229.26 L574.85 229.05 L575.22 228.87 L575.57 228.72 L575.91 228.61 L576.24 228.54 L576.49 228.64 L576.74 228.75 L576.98 228.85 L577.23 228.96 L577.47 229.07 L577.72 229.19 L577.96 229.3 L578.18 229.46 L578.32 229.76 L578.44 230.09 L578.53 230.45 L578.61 230.84 L578.66 231.25 L578.7 231.67 L578.72 232.11 L578.74 232.55 L578.74 233 L578.74 233.44 L578.73 233.87 L578.73 234.3 L578.73 234.7 L578.74 235.09 L578.76 235.45 L578.79 235.79 L578.84 236.09 L578.91 236.36 L579 236.6 L579.12 236.81 L579.26 236.98 L579.43 237.11 L579.63 237.21 L579.86 237.28 L580.12 237.31 L580.4 237.32 L580.71 237.3 L581.05 237.26 L581.42 237.19 L581.8 237.11 L582.21 237.02 L582.63 236.92 L583.06 236.81 L583.5 236.71 L583.95 236.61 L584.4 236.51 L584.84 236.43 L585.28 236.37 L585.7 236.32 L586.11 236.3 L586.49 236.3 L586.86 236.33 L587.19 236.39 L587.42 236.54 L587.59 236.75 L587.76 236.95 L587.93 237.15 L588.1 237.36 L588.26 237.57 L588.43 237.78 L588.59 237.99 L588.62 238.29 L588.59 238.64 L588.53 239.01Z" fill="#fff" stroke="#1a1a1a" stroke-width="1.1"/>
<ellipse cx="562.2" cy="257.2" rx="14" ry="10.6" transform="rotate(-38 562.2 257.2)" fill="#fff" stroke="#1a1a1a" stroke-width="1"/>
<path d="M563.88 243.84 L564.32 244.49 L564.69 245.18 L564.97 245.92 L565.16 246.7 L565.27 247.51 L565.29 248.35 L565.22 249.2 L565.07 250.06 L564.82 250.91 L564.5 251.76 L564.09 252.59 L563.61 253.4 L563.05 254.18 L562.43 254.91 L561.75 255.6 L561.01 256.24 L560.22 256.81 L559.4 257.32 L558.54 257.77 L557.66 258.14 L556.76 258.43 L555.86 258.64 L554.95 258.77 L554.06 258.81 L553.18 258.77 L552.33 258.65 L551.52 258.45 L550.75 258.16 L550.03 257.8" fill="none" stroke="#1a1a1a" stroke-width="0.8"/>
<ellipse cx="591.5" cy="296.3" rx="17.5" ry="13" transform="rotate(-40 591.5 296.3)" fill="#fff" stroke="#1a1a1a" stroke-width="1"/>
<ellipse cx="592.4" cy="297.3" rx="17.5" ry="13" transform="rotate(-40 592.4 297.3)" fill="#fff" stroke="#1a1a1a" stroke-width="1"/>
<ellipse cx="592.8" cy="297.3" rx="10.5" ry="8.5" transform="rotate(-40 592.8 297.3)" fill="#fff" stroke="#1a1a1a" stroke-width="1"/>
<path d="M596.64 302.13 L595.96 302.66 L595.24 303.15 L594.5 303.57 L593.73 303.95 L592.95 304.26 L592.16 304.51 L591.36 304.7 L590.56 304.82 L589.77 304.88 L588.99 304.87 L588.23 304.79 L587.5 304.65 L586.79 304.44 L586.12 304.17 L585.49 303.83 L584.91 303.44 L584.38 302.99 L583.9 302.49 L583.47 301.95 L583.11 301.35 L582.81 300.72 L582.57 300.05 L582.4 299.35 L582.3 298.63 L582.27 297.88 L582.31 297.12 L582.42 296.36 L582.59 295.59 L582.84 294.82" fill="none" stroke="#1a1a1a" stroke-width="0.8"/>
<path d="M600.2 332.4 L606 320 L627.5 311.8 L643.2 329.1 L639.1 345.7 L619.2 353.9 L602.7 339Z" fill="#fff" stroke="#1a1a1a" stroke-width="1"/>
<path d="M606 320 L614 326 L636.5 320.5 M614 326 L609 337" fill="none" stroke="#1a1a1a" stroke-width="0.9"/>
<ellipse cx="624.2" cy="336.6" rx="16.5" ry="13" transform="rotate(-40 624.2 336.6)" fill="#fff" stroke="#1a1a1a" stroke-width="1"/>
<ellipse cx="624.8" cy="337" rx="11.5" ry="8.8" transform="rotate(-40 624.8 337)" fill="#fff" stroke="#1a1a1a" stroke-width="1"/>
<path d="M626.22 343.95 L625.45 344.3 L624.67 344.59 L623.89 344.82 L623.1 344.98 L622.33 345.08 L621.56 345.12 L620.82 345.09 L620.1 345 L619.41 344.85 L618.75 344.63 L618.13 344.35 L617.56 344.01 L617.03 343.62 L616.56 343.17 L616.14 342.67 L615.78 342.13 L615.48 341.54 L615.25 340.92 L615.08 340.26 L614.98 339.58 L614.95 338.87 L614.98 338.14 L615.09 337.4 L615.26 336.66 L615.49 335.91 L615.79 335.17 L616.15 334.43 L616.57 333.72 L617.05 333.02" fill="none" stroke="#1a1a1a" stroke-width="0.8"/>
<path d="M708.04 268.32 L658.54 215.92 L658.29 215.63 L658.04 215.33 L657.81 215.02 L657.6 214.7 L657.39 214.37 L657.2 214.04 L657.02 213.69 L656.85 213.34 L656.7 212.98 L656.56 212.61 L656.44 212.23 L656.33 211.85 L656.23 211.46 L656.15 211.07 L656.08 210.67 L656.03 210.27 L655.99 209.86 L655.97 209.45 L655.96 209.04 L655.96 208.63 L655.98 208.21 L656.02 207.79 L656.07 207.37 L656.13 206.95 L656.21 206.53 L656.3 206.11 L656.41 205.69 L656.53 205.27 L656.67 204.86 L656.82 204.45 L656.98 204.04 L657.16 203.63 L657.34 203.23 L657.55 202.83 L657.76 202.44 L657.99 202.06 L658.23 201.68 L658.48 201.3 L658.74 200.94 L659.02 200.58 L659.3 200.23 L659.6 199.88 L659.91 199.55 L660.22 199.22 L660.55 198.91 L660.88 198.6 L661.23 198.3 L661.58 198.02 L661.94 197.74 L662.3 197.48 L662.68 197.23 L663.06 196.99 L663.44 196.76 L663.83 196.55 L664.23 196.34 L664.63 196.16 L665.04 195.98 L665.45 195.82 L665.86 195.67 L666.27 195.53 L666.69 195.41 L667.11 195.3 L667.53 195.21 L667.95 195.13 L668.37 195.07 L668.79 195.02 L669.21 194.98 L669.63 194.96 L670.04 194.96 L670.45 194.97 L670.86 194.99 L671.27 195.03 L671.67 195.08 L672.07 195.15 L672.46 195.23 L672.85 195.33 L673.23 195.44 L673.61 195.56 L673.98 195.7 L674.34 195.85 L674.69 196.02 L675.04 196.2 L675.37 196.39 L675.7 196.6 L676.02 196.81 L676.33 197.04 L676.63 197.29 L676.92 197.54 L677.19 197.81 L677.46 198.08 L726.96 250.48 L727.21 250.77 L727.46 251.07 L727.69 251.38 L727.9 251.7 L728.11 252.03 L728.3 252.36 L728.48 252.71 L728.65 253.06 L728.8 253.42 L728.94 253.79 L729.06 254.17 L729.17 254.55 L729.27 254.94 L729.35 255.33 L729.42 255.73 L729.47 256.13 L729.51 256.54 L729.53 256.95 L729.54 257.36 L729.54 257.77 L729.52 258.19 L729.48 258.61 L729.43 259.03 L729.37 259.45 L729.29 259.87 L729.2 260.29 L729.09 260.71 L728.97 261.13 L728.83 261.54 L728.68 261.95 L728.52 262.36 L728.34 262.77 L728.16 263.17 L727.95 263.57 L727.74 263.96 L727.51 264.34 L727.27 264.72 L727.02 265.1 L726.76 265.46 L726.48 265.82 L726.2 266.17 L725.9 266.52 L725.59 266.85 L725.28 267.18 L724.95 267.49 L724.62 267.8 L724.27 268.1 L723.92 268.38 L723.56 268.66 L723.2 268.92 L722.82 269.17 L722.44 269.41 L722.06 269.64 L721.67 269.85 L721.27 270.06 L720.87 270.24 L720.46 270.42 L720.05 270.58 L719.64 270.73 L719.23 270.87 L718.81 270.99 L718.39 271.1 L717.97 271.19 L717.55 271.27 L717.13 271.33 L716.71 271.38 L716.29 271.42 L715.87 271.44 L715.46 271.44 L715.05 271.43 L714.64 271.41 L714.23 271.37 L713.83 271.32 L713.43 271.25 L713.04 271.17 L712.65 271.07 L712.27 270.96 L711.89 270.84 L711.52 270.7 L711.16 270.55 L710.81 270.38 L710.46 270.2 L710.13 270.01 L709.8 269.8 L709.48 269.59 L709.17 269.36 L708.87 269.11 L708.58 268.86 L708.31 268.59Z" fill="url(#shL)" stroke="#262626" stroke-width="1"/>
<path d="M692.35 213.47 L692.93 214.14 L693.45 214.86 L693.89 215.64 L694.27 216.46 L694.58 217.32 L694.81 218.21 L694.96 219.13 L695.03 220.07 L695.03 221.02 L694.95 221.99 L694.79 222.96 L694.56 223.93 L694.25 224.88 L693.86 225.83 L693.41 226.75 L692.89 227.64 L692.3 228.5 L691.66 229.32 L690.96 230.1 L690.2 230.82 L689.4 231.5 L688.56 232.11 L687.69 232.66 L686.78 233.15 L685.85 233.57 L684.89 233.91 L683.93 234.19 L682.96 234.38 L681.99 234.5 L681.03 234.54 L680.08 234.5 L679.15 234.39 L678.25 234.2 L677.37 233.93 L676.53 233.59 L675.74 233.17 L674.99 232.69 L674.29 232.14 L673.65 231.53" fill="none" stroke="#333" stroke-width="0.8"/>
<ellipse cx="717.5" cy="259.4" rx="13" ry="11" transform="rotate(-45 717.5 259.4)" fill="#8c8c8a" stroke="#262626" stroke-width="1"/>
<ellipse cx="717.5" cy="260" rx="4.5" ry="3.8" transform="rotate(-45 717.5 260)" fill="#cfcfcc" stroke="#262626" stroke-width="0.8"/>
<path d="M626.13 225.05 L636.63 226.55 L636.78 226.58 L636.94 226.61 L637.09 226.65 L637.24 226.69 L637.39 226.74 L637.54 226.8 L637.69 226.86 L637.83 226.93 L637.97 227.01 L638.11 227.09 L638.25 227.17 L638.38 227.26 L638.52 227.35 L638.65 227.45 L638.77 227.56 L638.89 227.67 L639.01 227.78 L639.13 227.9 L639.24 228.03 L639.34 228.15 L639.45 228.29 L639.55 228.42 L639.64 228.56 L639.73 228.7 L639.82 228.85 L639.9 229 L639.97 229.15 L640.04 229.31 L640.11 229.47 L640.17 229.63 L640.23 229.79 L640.28 229.95 L640.33 230.12 L640.37 230.29 L640.4 230.46 L640.43 230.63 L640.46 230.8 L640.48 230.98 L640.49 231.15 L640.5 231.33 L640.5 231.5 L640.5 231.67 L640.49 231.85 L640.48 232.02 L640.46 232.2 L640.43 232.37 L640.4 232.54 L640.37 232.71 L640.33 232.88 L640.28 233.05 L640.23 233.21 L640.17 233.37 L640.11 233.53 L640.04 233.69 L639.97 233.85 L639.9 234 L639.82 234.15 L639.73 234.3 L639.64 234.44 L639.55 234.58 L639.45 234.71 L639.34 234.85 L639.24 234.97 L639.13 235.1 L639.01 235.22 L638.89 235.33 L638.77 235.44 L638.65 235.55 L638.52 235.65 L638.38 235.74 L638.25 235.83 L638.11 235.91 L637.97 235.99 L637.83 236.07 L637.69 236.14 L637.54 236.2 L637.39 236.26 L637.24 236.31 L637.09 236.35 L636.94 236.39 L636.78 236.42 L636.63 236.45 L636.47 236.47 L636.31 236.49 L636.16 236.5 L636 236.5 L635.84 236.5 L635.69 236.49 L635.53 236.47 L635.37 236.45 L624.87 234.95 L624.72 234.92 L624.56 234.89 L624.41 234.85 L624.26 234.81 L624.11 234.76 L623.96 234.7 L623.81 234.64 L623.67 234.57 L623.53 234.49 L623.39 234.41 L623.25 234.33 L623.12 234.24 L622.98 234.15 L622.85 234.05 L622.73 233.94 L622.61 233.83 L622.49 233.72 L622.37 233.6 L622.26 233.47 L622.16 233.35 L622.05 233.21 L621.95 233.08 L621.86 232.94 L621.77 232.8 L621.68 232.65 L621.6 232.5 L621.53 232.35 L621.46 232.19 L621.39 232.03 L621.33 231.87 L621.27 231.71 L621.22 231.55 L621.17 231.38 L621.13 231.21 L621.1 231.04 L621.07 230.87 L621.04 230.7 L621.02 230.52 L621.01 230.35 L621 230.17 L621 230 L621 229.83 L621.01 229.65 L621.02 229.48 L621.04 229.3 L621.07 229.13 L621.1 228.96 L621.13 228.79 L621.17 228.62 L621.22 228.45 L621.27 228.29 L621.33 228.13 L621.39 227.97 L621.46 227.81 L621.53 227.65 L621.6 227.5 L621.68 227.35 L621.77 227.2 L621.86 227.06 L621.95 226.92 L622.05 226.79 L622.16 226.65 L622.26 226.53 L622.37 226.4 L622.49 226.28 L622.61 226.17 L622.73 226.06 L622.85 225.95 L622.98 225.85 L623.12 225.76 L623.25 225.67 L623.39 225.59 L623.53 225.51 L623.67 225.43 L623.81 225.36 L623.96 225.3 L624.11 225.24 L624.26 225.19 L624.41 225.15 L624.56 225.11 L624.72 225.08 L624.87 225.05 L625.03 225.03 L625.19 225.01 L625.34 225 L625.5 225 L625.66 225 L625.81 225.01 L625.97 225.03Z" fill="url(#p11)" stroke="#262626" stroke-width="1"/>
<ellipse cx="636" cy="231.5" rx="4.8" ry="4.2" transform="rotate(80 636 231.5)" fill="#9a9a98" stroke="#262626" stroke-width="0.8"/>
<ellipse cx="673.5" cy="225.5" rx="2.5" ry="4" transform="rotate(-30 673.5 225.5)" fill="none" stroke="#333" stroke-width="0.8"/>
<path d="M656.98 413.38 L668.98 428.38 L669.49 429.08 L669.97 429.8 L670.42 430.54 L670.84 431.31 L671.22 432.1 L671.58 432.9 L671.89 433.73 L672.18 434.57 L672.43 435.43 L672.64 436.31 L672.82 437.2 L672.97 438.1 L673.08 439.02 L673.15 439.95 L673.19 440.88 L673.2 441.83 L673.17 442.78 L673.1 443.75 L672.99 444.71 L672.86 445.68 L672.68 446.66 L672.47 447.64 L672.23 448.61 L671.95 449.59 L671.64 450.56 L671.3 451.54 L670.92 452.51 L670.51 453.47 L670.06 454.43 L669.59 455.38 L669.08 456.32 L668.54 457.25 L667.98 458.17 L667.38 459.08 L666.76 459.97 L666.1 460.85 L665.43 461.72 L664.72 462.57 L663.99 463.4 L663.23 464.22 L662.46 465.01 L661.65 465.78 L660.83 466.54 L659.99 467.27 L659.13 467.97 L658.25 468.66 L657.35 469.32 L656.43 469.95 L655.5 470.56 L654.56 471.13 L653.6 471.69 L652.64 472.21 L651.66 472.7 L650.67 473.17 L649.67 473.6 L648.67 474 L647.66 474.38 L646.65 474.72 L645.63 475.02 L644.61 475.3 L643.59 475.54 L642.57 475.75 L641.56 475.93 L640.54 476.07 L639.53 476.18 L638.53 476.25 L637.53 476.29 L636.54 476.3 L635.56 476.27 L634.59 476.21 L633.63 476.11 L632.69 475.98 L631.75 475.82 L630.83 475.62 L629.93 475.39 L629.05 475.13 L628.18 474.83 L627.34 474.5 L626.51 474.14 L625.7 473.75 L624.92 473.33 L624.16 472.87 L623.43 472.39 L622.71 471.88 L622.03 471.34 L621.37 470.77 L620.74 470.17 L620.14 469.55 L619.57 468.9 L619.02 468.22 L607.02 453.22 L606.51 452.52 L606.03 451.8 L605.58 451.06 L605.16 450.29 L604.78 449.5 L604.42 448.7 L604.11 447.87 L603.82 447.03 L603.57 446.17 L603.36 445.29 L603.18 444.4 L603.03 443.5 L602.92 442.58 L602.85 441.65 L602.81 440.72 L602.8 439.77 L602.83 438.82 L602.9 437.85 L603.01 436.89 L603.14 435.92 L603.32 434.94 L603.53 433.96 L603.77 432.99 L604.05 432.01 L604.36 431.04 L604.7 430.06 L605.08 429.09 L605.49 428.13 L605.94 427.17 L606.41 426.22 L606.92 425.28 L607.46 424.35 L608.02 423.43 L608.62 422.52 L609.24 421.63 L609.9 420.75 L610.57 419.88 L611.28 419.03 L612.01 418.2 L612.77 417.38 L613.54 416.59 L614.35 415.82 L615.17 415.06 L616.01 414.33 L616.87 413.63 L617.75 412.94 L618.65 412.28 L619.57 411.65 L620.5 411.04 L621.44 410.47 L622.4 409.91 L623.36 409.39 L624.34 408.9 L625.33 408.43 L626.33 408 L627.33 407.6 L628.34 407.22 L629.35 406.88 L630.37 406.58 L631.39 406.3 L632.41 406.06 L633.43 405.85 L634.44 405.67 L635.46 405.53 L636.47 405.42 L637.47 405.35 L638.47 405.31 L639.46 405.3 L640.44 405.33 L641.41 405.39 L642.37 405.49 L643.31 405.62 L644.25 405.78 L645.17 405.98 L646.07 406.21 L646.95 406.47 L647.82 406.77 L648.66 407.1 L649.49 407.46 L650.3 407.85 L651.08 408.27 L651.84 408.73 L652.57 409.21 L653.29 409.72 L653.97 410.26 L654.63 410.83 L655.26 411.43 L655.86 412.05 L656.43 412.7Z" fill="url(#beb)" stroke="#262626" stroke-width="1"/>
<path d="M487 474 L603 432 L617 466 L501 497 Z" fill="url(#beam)" stroke="#262626" stroke-width="1"/>
<path d="M498 482 L607 446 L612 460 L503 490" fill="#8f8f8d" stroke="#444" stroke-width="0.8"/>
<path d="M465.57 513.06 L451.57 499.06 L451.19 498.66 L450.82 498.24 L450.48 497.81 L450.15 497.36 L449.85 496.89 L449.57 496.42 L449.31 495.93 L449.07 495.43 L448.86 494.91 L448.67 494.39 L448.5 493.85 L448.36 493.31 L448.24 492.75 L448.14 492.19 L448.07 491.62 L448.03 491.04 L448 490.46 L448 489.86 L448.03 489.27 L448.08 488.67 L448.15 488.07 L448.25 487.46 L448.37 486.85 L448.51 486.24 L448.68 485.63 L448.88 485.02 L449.09 484.41 L449.33 483.8 L449.59 483.19 L449.87 482.59 L450.18 481.99 L450.5 481.4 L450.85 480.81 L451.22 480.22 L451.61 479.65 L452.01 479.08 L452.44 478.52 L452.89 477.96 L453.35 477.42 L453.83 476.89 L454.33 476.37 L454.85 475.86 L455.38 475.36 L455.93 474.87 L456.49 474.4 L457.06 473.94 L457.65 473.49 L458.25 473.06 L458.86 472.65 L459.49 472.25 L460.12 471.87 L460.76 471.5 L461.41 471.15 L462.07 470.82 L462.74 470.51 L463.41 470.22 L464.09 469.94 L464.77 469.68 L465.46 469.45 L466.15 469.23 L466.84 469.03 L467.53 468.86 L468.22 468.7 L468.92 468.57 L469.61 468.45 L470.3 468.36 L470.98 468.29 L471.66 468.24 L472.34 468.21 L473.01 468.2 L473.68 468.21 L474.34 468.25 L474.99 468.3 L475.63 468.38 L476.26 468.48 L476.89 468.6 L477.5 468.74 L478.1 468.9 L478.68 469.08 L479.26 469.28 L479.82 469.5 L480.36 469.74 L480.89 470 L481.41 470.28 L481.9 470.58 L482.39 470.9 L482.85 471.23 L483.29 471.58 L483.72 471.95 L484.13 472.34 L498.13 486.34 L498.51 486.74 L498.88 487.16 L499.22 487.59 L499.55 488.04 L499.85 488.51 L500.13 488.98 L500.39 489.47 L500.63 489.97 L500.84 490.49 L501.03 491.01 L501.2 491.55 L501.34 492.09 L501.46 492.65 L501.56 493.21 L501.63 493.78 L501.67 494.36 L501.7 494.94 L501.7 495.54 L501.67 496.13 L501.62 496.73 L501.55 497.33 L501.45 497.94 L501.33 498.55 L501.19 499.16 L501.02 499.77 L500.82 500.38 L500.61 500.99 L500.37 501.6 L500.11 502.21 L499.83 502.81 L499.52 503.41 L499.2 504 L498.85 504.59 L498.48 505.18 L498.09 505.75 L497.69 506.32 L497.26 506.88 L496.81 507.44 L496.35 507.98 L495.87 508.51 L495.37 509.03 L494.85 509.54 L494.32 510.04 L493.77 510.53 L493.21 511 L492.64 511.46 L492.05 511.91 L491.45 512.34 L490.84 512.75 L490.21 513.15 L489.58 513.53 L488.94 513.9 L488.29 514.25 L487.63 514.58 L486.96 514.89 L486.29 515.18 L485.61 515.46 L484.93 515.72 L484.24 515.95 L483.55 516.17 L482.86 516.37 L482.17 516.54 L481.48 516.7 L480.78 516.83 L480.09 516.95 L479.4 517.04 L478.72 517.11 L478.04 517.16 L477.36 517.19 L476.69 517.2 L476.02 517.19 L475.36 517.15 L474.71 517.1 L474.07 517.02 L473.44 516.92 L472.81 516.8 L472.2 516.66 L471.6 516.5 L471.02 516.32 L470.44 516.12 L469.88 515.9 L469.34 515.66 L468.81 515.4 L468.29 515.12 L467.8 514.82 L467.31 514.5 L466.85 514.17 L466.41 513.82 L465.98 513.45Z" fill="url(#seb)" stroke="#262626" stroke-width="1"/>
<ellipse cx="481.85" cy="499.7" rx="21.2" ry="15.84" transform="rotate(-31.88 481.85 499.7)" fill="#9a9a98" stroke="#262626" stroke-width="1"/>
<ellipse cx="481.25" cy="499.1" rx="16.05" ry="11.55" transform="rotate(-37.5 481.25 499.1)" fill="#c8c8c5" stroke="#262626" stroke-width="1"/>
<clipPath id="seic"><ellipse cx="481.25" cy="499.1" rx="16.05" ry="11.55" transform="rotate(-37.5 481.25 499.1)"/></clipPath>
<g clip-path="url(#seic)"><ellipse cx="471.25" cy="489.1" rx="16.05" ry="11.55" transform="rotate(-37.5 471.25 489.1)" fill="#8a8a88" stroke="none"/></g>
<ellipse cx="481.25" cy="499.1" rx="16.05" ry="11.55" transform="rotate(-37.5 481.25 499.1)" fill="none" stroke="#262626" stroke-width="1"/>
<ellipse cx="481" cy="467.5" rx="4.5" ry="2" transform="rotate(30 481 467.5)" fill="#777" stroke="#262626" stroke-width="0.8"/>
<ellipse cx="644" cy="448.3" rx="31.96" ry="24.81" transform="rotate(-40.13 644 448.3)" fill="#9c9c9a" stroke="#262626" stroke-width="1"/>
<ellipse cx="643.4" cy="449.5" rx="22.11" ry="13.72" transform="rotate(-47.1 643.4 449.5)" fill="#c3c3c0" stroke="#262626" stroke-width="1"/>
<clipPath id="beic"><ellipse cx="643.4" cy="449.5" rx="22.11" ry="13.72" transform="rotate(-47.1 643.4 449.5)"/></clipPath>
<g clip-path="url(#beic)"><ellipse cx="631.4" cy="434.5" rx="22.11" ry="13.72" transform="rotate(-47.1 631.4 434.5)" fill="#f4f4f2" stroke="#555" stroke-width="0.8"/><ellipse cx="646.4" cy="451.5" rx="15.48" ry="8.92" transform="rotate(-47.1 646.4 451.5)" fill="#b0b0ad" stroke="none"/></g>
<ellipse cx="643.4" cy="449.5" rx="22.11" ry="13.72" transform="rotate(-47.1 643.4 449.5)" fill="none" stroke="#262626" stroke-width="1"/>
<path d="M640 447 L651 433" fill="none" stroke="#444" stroke-width="2"/>
<path d="M643 413 L659 417" fill="none" stroke="#444" stroke-width="2.4"/>
<g transform="rotate(-25 435.2 448.3)"><path d="M443.27 455.82 L442.55 456.68 L441.77 457.45 L440.91 458.13 L440 458.71 L439.05 459.19 L438.05 459.56 L437.03 459.82 L435.99 459.97 L434.94 460 L433.89 459.91 L432.86 459.71 L431.85 459.39 L430.87 458.96 L429.94 458.43 L429.05 457.8 L428.23 457.07 L427.48 456.26 L426.81 455.36 L426.21 454.4 L425.71 453.38 L425.31 452.3 L425 451.19 L424.79 450.04 L424.68 448.88 L424.68 447.72 L424.79 446.56 L425 445.41 L425.31 444.3 L425.71 443.22 L426.21 442.2 L426.81 441.24 L427.48 440.34 L428.23 439.53 L429.05 438.8 L429.94 438.17 L430.87 437.64 L431.85 437.21 L432.86 436.89 L433.89 436.69 L434.94 436.6 L435.99 436.63 L437.03 436.78 L438.05 437.04 L439.05 437.41 L440 437.89 L440.91 438.47 L441.77 439.15 L442.55 439.92 L443.27 440.78 L441.17 442.73 L440.64 442.1 L440.06 441.53 L439.43 441.03 L438.75 440.6 L438.05 440.24 L437.31 439.97 L436.55 439.77 L435.78 439.67 L435.01 439.64 L434.23 439.71 L433.47 439.86 L432.72 440.09 L432 440.41 L431.3 440.8 L430.65 441.27 L430.04 441.81 L429.49 442.41 L428.99 443.07 L428.55 443.79 L428.18 444.54 L427.88 445.34 L427.65 446.16 L427.49 447.01 L427.42 447.87 L427.42 448.73 L427.49 449.59 L427.65 450.44 L427.88 451.26 L428.18 452.06 L428.55 452.81 L428.99 453.53 L429.49 454.19 L430.04 454.79 L430.65 455.33 L431.3 455.8 L432 456.19 L432.72 456.51 L433.47 456.74 L434.23 456.89 L435.01 456.96 L435.78 456.93 L436.55 456.83 L437.31 456.63 L438.05 456.36 L438.75 456 L439.43 455.57 L440.06 455.07 L440.64 454.5 L441.17 453.87Z" fill="#8e8e8c" stroke="#262626" stroke-width="1"/><circle cx="442.22" cy="454.84" r="1.89" fill="#8e8e8c" stroke="#262626" stroke-width="1"/><circle cx="442.22" cy="454.84" r="0.67" fill="none" stroke="#262626" stroke-width="0.6"/><circle cx="442.22" cy="441.76" r="1.89" fill="#8e8e8c" stroke="#262626" stroke-width="1"/><circle cx="442.22" cy="441.76" r="0.67" fill="none" stroke="#262626" stroke-width="0.6"/></g>
<path d="M320.4 501 L405.9 474.5 C420 470 433 490 433 515.2 C425 515.5 414 518 412.7 525 L412.4 537.8 L429 539 L430.4 543.1 L408.6 547.8 L339.4 571.6 Z" fill="url(#pist)" stroke="#262626" stroke-width="1"/>
<path d="M412.4 537.8 L429 539 L430.4 543.1 L411 546.5 Z" fill="#c4c4c1" stroke="#444" stroke-width="0.7"/>
<path d="M330.03 499.76 L331.26 499.46 L332.51 499.3 L333.77 499.28 L335.05 499.41 L336.33 499.69 L337.62 500.11 L338.9 500.66 L340.17 501.36 L341.43 502.2 L342.67 503.17 L343.88 504.26 L345.06 505.48 L346.21 506.82 L347.32 508.28 L348.39 509.84 L349.41 511.51 L350.37 513.27 L351.28 515.11 L352.13 517.04 L352.92 519.04 L353.64 521.1 L354.29 523.22 L354.86 525.39 L355.37 527.59 L355.79 529.82 L356.14 532.07 L356.41 534.33 L356.59 536.59 L356.7 538.85 L356.72 541.08 L356.66 543.29 L356.51 545.47 L356.29 547.6 L355.99 549.67 L355.6 551.69 L355.14 553.63 L354.6 555.49 L353.99 557.27 L353.31 558.96 L352.56 560.54 L351.74 562.02 L350.86 563.39 L349.92 564.63 L348.93 565.76 L347.89 566.75 L346.8 567.62 L345.67 568.34 L344.51 568.93 L343.31 569.38" fill="none" stroke="#2a2a2a" stroke-width="0.9"/>
<path d="M332.48 499.01 L333.7 498.7 L334.95 498.54 L336.21 498.53 L337.49 498.66 L338.78 498.93 L340.06 499.35 L341.34 499.91 L342.61 500.6 L343.87 501.44 L345.11 502.41 L346.32 503.5 L347.51 504.73 L348.66 506.07 L349.77 507.52 L350.83 509.08 L351.85 510.75 L352.82 512.51 L353.73 514.36 L354.58 516.28 L355.36 518.28 L356.08 520.34 L356.73 522.46 L357.31 524.63 L357.81 526.83 L358.24 529.06 L358.58 531.31 L358.85 533.57 L359.04 535.84 L359.14 538.09 L359.16 540.33 L359.1 542.54 L358.96 544.71 L358.73 546.84 L358.43 548.91 L358.04 550.93 L357.58 552.87 L357.04 554.73 L356.43 556.51 L355.75 558.2 L355 559.78 L354.18 561.26 L353.3 562.63 L352.37 563.88 L351.38 565 L350.33 566 L349.25 566.86 L348.12 567.59 L346.95 568.18 L345.75 568.62" fill="none" stroke="#2a2a2a" stroke-width="1.3"/>
<path d="M335.41 498.1 L336.63 497.79 L337.88 497.63 L339.15 497.62 L340.42 497.75 L341.71 498.02 L342.99 498.44 L344.27 499 L345.55 499.69 L346.8 500.53 L348.04 501.5 L349.26 502.59 L350.44 503.82 L351.59 505.16 L352.7 506.61 L353.77 508.17 L354.78 509.84 L355.75 511.6 L356.66 513.45 L357.51 515.37 L358.29 517.37 L359.01 519.43 L359.66 521.55 L360.24 523.72 L360.74 525.92 L361.17 528.15 L361.52 530.4 L361.78 532.66 L361.97 534.93 L362.07 537.18 L362.09 539.42 L362.03 541.63 L361.89 543.8 L361.67 545.93 L361.36 548 L360.98 550.02 L360.52 551.96 L359.98 553.82 L359.37 555.6 L358.68 557.29 L357.93 558.87 L357.11 560.35 L356.24 561.72 L355.3 562.97 L354.31 564.09 L353.27 565.09 L352.18 565.95 L351.05 566.68 L349.88 567.27 L348.69 567.71" fill="none" stroke="#2a2a2a" stroke-width="0.9"/>
<path d="M338.34 497.19 L339.57 496.88 L340.81 496.72 L342.08 496.71 L343.36 496.84 L344.64 497.11 L345.93 497.53 L347.21 498.09 L348.48 498.78 L349.74 499.62 L350.97 500.59 L352.19 501.68 L353.37 502.91 L354.52 504.25 L355.63 505.7 L356.7 507.26 L357.72 508.93 L358.68 510.69 L359.59 512.54 L360.44 514.46 L361.23 516.46 L361.95 518.52 L362.6 520.64 L363.17 522.81 L363.68 525.01 L364.1 527.24 L364.45 529.49 L364.72 531.75 L364.9 534.02 L365.01 536.27 L365.03 538.51 L364.97 540.72 L364.82 542.89 L364.6 545.02 L364.29 547.09 L363.91 549.11 L363.45 551.05 L362.91 552.91 L362.3 554.69 L361.62 556.38 L360.86 557.96 L360.05 559.44 L359.17 560.81 L358.23 562.06 L357.24 563.18 L356.2 564.17 L355.11 565.04 L353.98 565.77 L352.82 566.35 L351.62 566.8" fill="none" stroke="#2a2a2a" stroke-width="1.3"/>
<path d="M340.78 496.43 L342.01 496.12 L343.26 495.96 L344.52 495.95 L345.8 496.08 L347.08 496.35 L348.37 496.77 L349.65 497.33 L350.92 498.03 L352.18 498.86 L353.42 499.83 L354.63 500.93 L355.82 502.15 L356.97 503.49 L358.08 504.94 L359.14 506.51 L360.16 508.17 L361.13 509.93 L362.04 511.78 L362.89 513.7 L363.67 515.7 L364.39 517.77 L365.04 519.88 L365.62 522.05 L366.12 524.25 L366.55 526.48 L366.89 528.73 L367.16 531 L367.34 533.26 L367.45 535.51 L367.47 537.75 L367.41 539.96 L367.27 542.13 L367.04 544.26 L366.74 546.33 L366.35 548.35 L365.89 550.29 L365.35 552.16 L364.74 553.93 L364.06 555.62 L363.31 557.21 L362.49 558.68 L361.61 560.05 L360.68 561.3 L359.69 562.42 L358.64 563.42 L357.56 564.28 L356.43 565.01 L355.26 565.6 L354.06 566.04" fill="none" stroke="#2a2a2a" stroke-width="0.9"/>
<path d="M343.72 495.52 L344.94 495.21 L346.19 495.05 L347.46 495.04 L348.73 495.17 L350.02 495.44 L351.3 495.86 L352.58 496.42 L353.86 497.12 L355.11 497.95 L356.35 498.92 L357.56 500.02 L358.75 501.24 L359.9 502.58 L361.01 504.03 L362.07 505.6 L363.09 507.26 L364.06 509.02 L364.97 510.87 L365.82 512.79 L366.6 514.79 L367.32 516.86 L367.97 518.97 L368.55 521.14 L369.05 523.34 L369.48 525.57 L369.82 527.82 L370.09 530.09 L370.28 532.35 L370.38 534.6 L370.4 536.84 L370.34 539.05 L370.2 541.22 L369.98 543.35 L369.67 545.42 L369.29 547.44 L368.82 549.38 L368.29 551.25 L367.67 553.02 L366.99 554.71 L366.24 556.3 L365.42 557.77 L364.55 559.14 L363.61 560.39 L362.62 561.51 L361.58 562.51 L360.49 563.37 L359.36 564.1 L358.19 564.69 L356.99 565.13" fill="none" stroke="#2a2a2a" stroke-width="1.3"/>
<path d="M345.67 494.91 L346.9 494.61 L348.15 494.45 L349.41 494.43 L350.69 494.56 L351.97 494.83 L353.26 495.25 L354.54 495.81 L355.81 496.51 L357.07 497.34 L358.31 498.31 L359.52 499.41 L360.7 500.63 L361.85 501.97 L362.96 503.43 L364.03 504.99 L365.05 506.65 L366.01 508.41 L366.92 510.26 L367.77 512.19 L368.56 514.19 L369.28 516.25 L369.93 518.37 L370.5 520.53 L371.01 522.74 L371.43 524.97 L371.78 527.22 L372.05 529.48 L372.23 531.74 L372.34 533.99 L372.36 536.23 L372.3 538.44 L372.15 540.61 L371.93 542.74 L371.63 544.82 L371.24 546.83 L370.78 548.77 L370.24 550.64 L369.63 552.42 L368.95 554.1 L368.2 555.69 L367.38 557.17 L366.5 558.53 L365.56 559.78 L364.57 560.9 L363.53 561.9 L362.44 562.76 L361.31 563.49 L360.15 564.08 L358.95 564.53" fill="none" stroke="#2a2a2a" stroke-width="0.8"/>
<ellipse cx="392.3" cy="542.4" rx="13" ry="9.5" transform="rotate(-40 392.3 542.4)" fill="url(#vphg)" stroke="#262626" stroke-width="1.1"/>
<path d="M401.98 535.75 L402.54 536.41 L403 537.15 L403.35 537.96 L403.58 538.85 L403.69 539.78 L403.68 540.76 L403.55 541.77 L403.31 542.8 L402.95 543.84 L402.48 544.88 L401.9 545.9 L401.23 546.89 L400.47 547.84 L399.62 548.74 L398.7 549.58 L397.72 550.35 L396.69 551.03 L395.63 551.63 L394.54 552.14 L393.43 552.54 L392.33 552.84 L391.24 553.02 L390.18 553.1 L389.16 553.06 L388.18 552.91 L387.27 552.65 L386.44 552.29 L385.68 551.82 L385.02 551.25" fill="none" stroke="#555" stroke-width="0.8"/>
<ellipse cx="328.85" cy="537" rx="35.54" ry="19.63" transform="rotate(82.06 328.85 537)" fill="url(#crown)" stroke="#262626" stroke-width="1"/>
<path d="M321.5 523 L327.5 532" fill="none" stroke="#222" stroke-width="3"/>
<path d="M322 550 L322.5 556" fill="none" stroke="#222" stroke-width="1.2"/>
<line x1="322.5" y1="540" x2="306" y2="544" stroke="#1a1a1a" stroke-width="1"/>
<ellipse cx="287.5" cy="549.38" rx="34.2" ry="18.81" transform="rotate(79.93 287.5 549.38)" fill="none" stroke="#2e2e2e" stroke-width="5"/>
<ellipse cx="287.5" cy="549.38" rx="34.2" ry="18.81" transform="rotate(79.93 287.5 549.38)" fill="none" stroke="#8e8e8c" stroke-width="2.4"/>
<ellipse cx="271.25" cy="554.38" rx="34.2" ry="18.81" transform="rotate(79.93 271.25 554.38)" fill="none" stroke="#2e2e2e" stroke-width="5"/>
<ellipse cx="271.25" cy="554.38" rx="34.2" ry="18.81" transform="rotate(79.93 271.25 554.38)" fill="none" stroke="#8e8e8c" stroke-width="2.4"/>
<ellipse cx="253.12" cy="560.62" rx="34.19" ry="18.19" transform="rotate(80.21 253.12 560.62)" fill="none" stroke="#2e2e2e" stroke-width="5"/>
<ellipse cx="253.12" cy="560.62" rx="34.19" ry="18.19" transform="rotate(80.21 253.12 560.62)" fill="none" stroke="#8e8e8c" stroke-width="2.4"/>
<path d="M520.71 521.29 L534.91 535.39 L535.18 535.68 L535.45 535.99 L535.7 536.3 L535.94 536.63 L536.16 536.97 L536.37 537.32 L536.56 537.68 L536.74 538.05 L536.9 538.43 L537.05 538.81 L537.18 539.21 L537.3 539.62 L537.4 540.03 L537.48 540.45 L537.55 540.88 L537.6 541.31 L537.64 541.75 L537.66 542.2 L537.66 542.65 L537.65 543.1 L537.62 543.56 L537.58 544.02 L537.52 544.48 L537.44 544.95 L537.35 545.41 L537.24 545.88 L537.11 546.34 L536.97 546.81 L536.82 547.28 L536.65 547.74 L536.46 548.2 L536.26 548.66 L536.04 549.11 L535.81 549.57 L535.57 550.01 L535.31 550.46 L535.04 550.89 L534.76 551.32 L534.46 551.75 L534.15 552.17 L533.83 552.58 L533.5 552.98 L533.15 553.37 L532.8 553.76 L532.43 554.13 L532.06 554.5 L531.67 554.85 L531.28 555.2 L530.88 555.53 L530.47 555.85 L530.05 556.16 L529.62 556.46 L529.19 556.74 L528.76 557.01 L528.31 557.27 L527.87 557.51 L527.41 557.74 L526.96 557.96 L526.5 558.16 L526.04 558.35 L525.58 558.52 L525.11 558.67 L524.64 558.81 L524.18 558.94 L523.71 559.05 L523.25 559.14 L522.78 559.22 L522.32 559.28 L521.86 559.32 L521.4 559.35 L520.95 559.36 L520.5 559.36 L520.05 559.34 L519.61 559.3 L519.18 559.25 L518.75 559.18 L518.33 559.1 L517.92 559 L517.51 558.88 L517.11 558.75 L516.73 558.6 L516.35 558.44 L515.98 558.26 L515.62 558.07 L515.27 557.86 L514.93 557.64 L514.6 557.4 L514.29 557.15 L513.98 556.88 L513.69 556.61 L499.49 542.51 L499.22 542.22 L498.95 541.91 L498.7 541.6 L498.46 541.27 L498.24 540.93 L498.03 540.58 L497.84 540.22 L497.66 539.85 L497.5 539.47 L497.35 539.09 L497.22 538.69 L497.1 538.28 L497 537.87 L496.92 537.45 L496.85 537.02 L496.8 536.59 L496.76 536.15 L496.74 535.7 L496.74 535.25 L496.75 534.8 L496.78 534.34 L496.82 533.88 L496.88 533.42 L496.96 532.95 L497.05 532.49 L497.16 532.02 L497.29 531.56 L497.43 531.09 L497.58 530.62 L497.75 530.16 L497.94 529.7 L498.14 529.24 L498.36 528.79 L498.59 528.33 L498.83 527.89 L499.09 527.44 L499.36 527.01 L499.64 526.58 L499.94 526.15 L500.25 525.73 L500.57 525.32 L500.9 524.92 L501.25 524.53 L501.6 524.14 L501.97 523.77 L502.34 523.4 L502.73 523.05 L503.12 522.7 L503.52 522.37 L503.93 522.05 L504.35 521.74 L504.78 521.44 L505.21 521.16 L505.64 520.89 L506.09 520.63 L506.53 520.39 L506.99 520.16 L507.44 519.94 L507.9 519.74 L508.36 519.55 L508.82 519.38 L509.29 519.23 L509.76 519.09 L510.22 518.96 L510.69 518.85 L511.15 518.76 L511.62 518.68 L512.08 518.62 L512.54 518.58 L513 518.55 L513.45 518.54 L513.9 518.54 L514.35 518.56 L514.79 518.6 L515.22 518.65 L515.65 518.72 L516.07 518.8 L516.48 518.9 L516.89 519.02 L517.29 519.15 L517.67 519.3 L518.05 519.46 L518.42 519.64 L518.78 519.83 L519.13 520.04 L519.47 520.26 L519.8 520.5 L520.11 520.75 L520.42 521.02Z" fill="url(#bush)" stroke="#262626" stroke-width="1"/>
<ellipse cx="524.3" cy="546" rx="15" ry="11.5" transform="rotate(-45 524.3 546)" fill="#c48e2c" stroke="#3a2a10" stroke-width="1"/>
<ellipse cx="524.6" cy="546.3" rx="12.5" ry="9.3" transform="rotate(-45 524.6 546.3)" fill="#a8741f" stroke="#3a2a10" stroke-width="0.9"/>
<path d="M529.13 534.87 L529.73 535.57 L530.23 536.35 L530.63 537.21 L530.9 538.14 L531.07 539.13 L531.11 540.16 L531.04 541.23 L530.85 542.32 L530.54 543.41 L530.12 544.5 L529.59 545.57 L528.97 546.62 L528.25 547.62 L527.44 548.56 L526.56 549.44 L525.62 550.25 L524.62 550.97 L523.57 551.59 L522.5 552.12 L521.41 552.54 L520.32 552.85 L519.23 553.04 L518.16 553.11 L517.13 553.07 L516.14 552.9 L515.21 552.63 L514.35 552.23 L513.57 551.73 L512.87 551.13" fill="none" stroke="#5a3a10" stroke-width="0.8"/>
<path d="M526.13 531.87 L526.73 532.57 L527.23 533.35 L527.63 534.21 L527.9 535.14 L528.07 536.13 L528.11 537.16 L528.04 538.23 L527.85 539.32 L527.54 540.41 L527.12 541.5 L526.59 542.57 L525.97 543.62 L525.25 544.62 L524.44 545.56 L523.56 546.44 L522.62 547.25 L521.62 547.97 L520.57 548.59 L519.5 549.12 L518.41 549.54 L517.32 549.85 L516.23 550.04 L515.16 550.11 L514.13 550.07 L513.14 549.9 L512.21 549.63 L511.35 549.23 L510.57 548.73 L509.87 548.13" fill="none" stroke="#5a3a10" stroke-width="0.8"/>
<path d="M554.99 566.01 L586.79 597.81 L587.03 598.07 L587.26 598.33 L587.48 598.6 L587.69 598.88 L587.88 599.17 L588.07 599.47 L588.24 599.78 L588.41 600.09 L588.56 600.42 L588.69 600.74 L588.82 601.08 L588.93 601.42 L589.03 601.77 L589.11 602.13 L589.18 602.49 L589.24 602.85 L589.29 603.22 L589.32 603.59 L589.34 603.97 L589.35 604.35 L589.34 604.73 L589.32 605.11 L589.28 605.49 L589.23 605.88 L589.17 606.26 L589.1 606.65 L589.01 607.03 L588.91 607.42 L588.79 607.8 L588.67 608.18 L588.53 608.56 L588.38 608.94 L588.21 609.31 L588.03 609.68 L587.85 610.04 L587.65 610.4 L587.44 610.76 L587.21 611.11 L586.98 611.45 L586.74 611.79 L586.48 612.12 L586.22 612.45 L585.95 612.76 L585.66 613.07 L585.37 613.37 L585.07 613.66 L584.76 613.95 L584.45 614.22 L584.12 614.48 L583.79 614.74 L583.45 614.98 L583.11 615.21 L582.76 615.44 L582.4 615.65 L582.04 615.85 L581.68 616.03 L581.31 616.21 L580.94 616.38 L580.56 616.53 L580.18 616.67 L579.8 616.79 L579.42 616.91 L579.03 617.01 L578.65 617.1 L578.26 617.17 L577.88 617.23 L577.49 617.28 L577.11 617.32 L576.73 617.34 L576.35 617.35 L575.97 617.34 L575.59 617.32 L575.22 617.29 L574.85 617.24 L574.49 617.18 L574.13 617.11 L573.77 617.03 L573.42 616.93 L573.08 616.82 L572.74 616.69 L572.42 616.56 L572.09 616.41 L571.78 616.24 L571.47 616.07 L571.17 615.88 L570.88 615.69 L570.6 615.48 L570.33 615.26 L570.07 615.03 L569.81 614.79 L538.01 582.99 L537.77 582.73 L537.54 582.47 L537.32 582.2 L537.11 581.92 L536.92 581.63 L536.73 581.33 L536.56 581.02 L536.39 580.71 L536.24 580.38 L536.11 580.06 L535.98 579.72 L535.87 579.38 L535.77 579.03 L535.69 578.67 L535.62 578.31 L535.56 577.95 L535.51 577.58 L535.48 577.21 L535.46 576.83 L535.45 576.45 L535.46 576.07 L535.48 575.69 L535.52 575.31 L535.57 574.92 L535.63 574.54 L535.7 574.15 L535.79 573.77 L535.89 573.38 L536.01 573 L536.13 572.62 L536.27 572.24 L536.42 571.86 L536.59 571.49 L536.77 571.12 L536.95 570.76 L537.15 570.4 L537.36 570.04 L537.59 569.69 L537.82 569.35 L538.06 569.01 L538.32 568.68 L538.58 568.35 L538.85 568.04 L539.14 567.73 L539.43 567.43 L539.73 567.14 L540.04 566.85 L540.35 566.58 L540.68 566.32 L541.01 566.06 L541.35 565.82 L541.69 565.59 L542.04 565.36 L542.4 565.15 L542.76 564.95 L543.12 564.77 L543.49 564.59 L543.86 564.42 L544.24 564.27 L544.62 564.13 L545 564.01 L545.38 563.89 L545.77 563.79 L546.15 563.7 L546.54 563.63 L546.92 563.57 L547.31 563.52 L547.69 563.48 L548.07 563.46 L548.45 563.45 L548.83 563.46 L549.21 563.48 L549.58 563.51 L549.95 563.56 L550.31 563.62 L550.67 563.69 L551.03 563.77 L551.38 563.87 L551.72 563.98 L552.06 564.11 L552.38 564.24 L552.71 564.39 L553.02 564.56 L553.33 564.73 L553.63 564.92 L553.92 565.11 L554.2 565.32 L554.47 565.54 L554.73 565.77Z" fill="url(#pinY)" stroke="#262626" stroke-width="1"/>
<ellipse cx="578.3" cy="606.3" rx="12" ry="10" transform="rotate(-45 578.3 606.3)" fill="#3e3e3c" stroke="#262626" stroke-width="1"/>
<ellipse cx="578.6" cy="606.6" rx="9.5" ry="7.8" transform="rotate(-45 578.6 606.6)" fill="#b5b5b2" stroke="#262626" stroke-width="0.8"/>
<path d="M571.88 613.32 L571.33 612.68 L570.85 611.97 L570.47 611.2 L570.19 610.38 L570 609.51 L569.91 608.61 L569.93 607.68 L570.05 606.75 L570.27 605.8 L570.58 604.87 L570.99 603.96 L571.49 603.08 L572.07 602.24 L572.73 601.46 L573.46 600.73 L574.24 600.07 L575.08 599.49 L575.96 598.99 L576.87 598.58 L577.8 598.27 L578.75 598.05 L579.68 597.93 L580.61 597.91 L581.51 598 L582.38 598.19 L583.2 598.47 L583.97 598.85 L584.68 599.33 L585.32 599.88" fill="none" stroke="#6a6a68" stroke-width="2"/>
<g transform="rotate(-20 596.9 629.3)"><path d="M605.31 637.14 L604.57 638.03 L603.75 638.84 L602.86 639.55 L601.91 640.16 L600.91 640.66 L599.87 641.04 L598.81 641.31 L597.72 641.47 L596.63 641.5 L595.53 641.41 L594.46 641.19 L593.4 640.86 L592.38 640.42 L591.41 639.87 L590.49 639.21 L589.63 638.45 L588.85 637.6 L588.15 636.67 L587.53 635.66 L587.01 634.59 L586.58 633.47 L586.26 632.31 L586.04 631.12 L585.93 629.91 L585.93 628.69 L586.04 627.48 L586.26 626.29 L586.58 625.13 L587.01 624.01 L587.53 622.94 L588.15 621.93 L588.85 621 L589.63 620.15 L590.49 619.39 L591.41 618.73 L592.38 618.18 L593.4 617.74 L594.46 617.41 L595.53 617.19 L596.63 617.1 L597.72 617.13 L598.81 617.29 L599.87 617.56 L600.91 617.94 L601.91 618.44 L602.86 619.05 L603.75 619.76 L604.57 620.57 L605.31 621.46 L603.12 623.5 L602.57 622.84 L601.97 622.24 L601.31 621.72 L600.61 621.27 L599.87 620.9 L599.1 620.61 L598.31 620.41 L597.51 620.3 L596.7 620.27 L595.89 620.34 L595.09 620.5 L594.31 620.74 L593.56 621.07 L592.84 621.48 L592.16 621.97 L591.52 622.53 L590.94 623.16 L590.42 623.85 L589.97 624.59 L589.58 625.38 L589.26 626.21 L589.03 627.07 L588.87 627.95 L588.78 628.85 L588.78 629.75 L588.87 630.65 L589.03 631.53 L589.26 632.39 L589.58 633.22 L589.97 634.01 L590.42 634.75 L590.94 635.44 L591.52 636.07 L592.16 636.63 L592.84 637.12 L593.56 637.53 L594.31 637.86 L595.09 638.1 L595.89 638.26 L596.7 638.33 L597.51 638.3 L598.31 638.19 L599.1 637.99 L599.87 637.7 L600.61 637.33 L601.31 636.88 L601.97 636.36 L602.57 635.76 L603.12 635.1Z" fill="#5e5e5c" stroke="#262626" stroke-width="1"/><circle cx="604.22" cy="636.12" r="1.97" fill="#5e5e5c" stroke="#262626" stroke-width="1"/><circle cx="604.22" cy="636.12" r="0.7" fill="none" stroke="#262626" stroke-width="0.6"/><circle cx="604.22" cy="622.48" r="1.97" fill="#5e5e5c" stroke="#262626" stroke-width="1"/><circle cx="604.22" cy="622.48" r="0.7" fill="none" stroke="#262626" stroke-width="0.6"/></g>
<path d="M729.81 518.15 L730.13 518.56 L730.45 518.98 L730.74 519.41 L731.02 519.86 L731.28 520.32 L731.52 520.79 L731.74 521.27 L731.94 521.75 L732.13 522.25 L732.3 522.76 L732.44 523.27 L732.57 523.8 L732.68 524.33 L732.76 524.86 L732.83 525.4 L732.88 525.95 L732.91 526.5 L732.91 527.05 L732.9 527.61 L732.87 528.17 L732.81 528.73 L732.74 529.29 L732.65 529.85 L732.54 530.41 L732.4 530.97 L732.25 531.53 L732.08 532.08 L731.89 532.64 L731.68 533.18 L731.45 533.73 L731.21 534.26 L730.94 534.8 L730.66 535.32 L730.36 535.84 L730.05 536.35 L729.71 536.85 L729.36 537.34 L729 537.83 L728.62 538.3 L728.22 538.76 L727.81 539.21 L727.39 539.65 L726.95 540.08 L726.5 540.49 L726.04 540.89 L725.57 541.28 L725.08 541.65 L724.59 542 L724.08 542.34 L723.57 542.67 L723.04 542.98 L722.51 543.27 L721.97 543.55 L721.43 543.8 L720.88 544.05 L720.32 544.27 L719.76 544.47 L719.19 544.66 L718.62 544.83 L718.05 544.98 L717.47 545.11 L716.9 545.22 L716.32 545.31 L715.74 545.38 L715.17 545.43 L714.6 545.47 L714.02 545.48 L713.45 545.47 L712.89 545.45 L712.33 545.4 L711.77 545.34 L711.22 545.25 L710.68 545.15 L710.14 545.03 L709.61 544.89 L709.09 544.73 L708.58 544.55 L708.07 544.35 L707.58 544.13 L707.1 543.9 L706.63 543.65 L706.17 543.38 L705.72 543.09 L705.29 542.79 L704.87 542.47 L704.47 542.14 L704.08 541.79 L703.7 541.42 L703.34 541.04 L702.99 540.65 L673.29 505.85 L672.97 505.44 L672.65 505.02 L672.36 504.59 L672.08 504.14 L671.82 503.68 L671.58 503.21 L671.36 502.73 L671.16 502.25 L670.97 501.75 L670.8 501.24 L670.66 500.73 L670.53 500.2 L670.42 499.67 L670.34 499.14 L670.27 498.6 L670.22 498.05 L670.19 497.5 L670.19 496.95 L670.2 496.39 L670.23 495.83 L670.29 495.27 L670.36 494.71 L670.45 494.15 L670.56 493.59 L670.7 493.03 L670.85 492.47 L671.02 491.92 L671.21 491.36 L671.42 490.82 L671.65 490.27 L671.89 489.74 L672.16 489.2 L672.44 488.68 L672.74 488.16 L673.05 487.65 L673.39 487.15 L673.74 486.66 L674.1 486.17 L674.48 485.7 L674.88 485.24 L675.29 484.79 L675.71 484.35 L676.15 483.92 L676.6 483.51 L677.06 483.11 L677.53 482.72 L678.02 482.35 L678.51 482 L679.02 481.66 L679.53 481.33 L680.06 481.02 L680.59 480.73 L681.13 480.45 L681.67 480.2 L682.22 479.95 L682.78 479.73 L683.34 479.53 L683.91 479.34 L684.48 479.17 L685.05 479.02 L685.63 478.89 L686.2 478.78 L686.78 478.69 L687.36 478.62 L687.93 478.57 L688.5 478.53 L689.08 478.52 L689.65 478.53 L690.21 478.55 L690.77 478.6 L691.33 478.66 L691.88 478.75 L692.42 478.85 L692.96 478.97 L693.49 479.11 L694.01 479.27 L694.52 479.45 L695.03 479.65 L695.52 479.87 L696 480.1 L696.47 480.35 L696.93 480.62 L697.38 480.91 L697.81 481.21 L698.23 481.53 L698.63 481.86 L699.02 482.21 L699.4 482.58 L699.76 482.96 L700.11 483.35Z" fill="url(#pinT)" stroke="#262626" stroke-width="1"/>
<ellipse cx="716.4" cy="529.4" rx="17.5" ry="15" transform="rotate(-40 716.4 529.4)" fill="#878785" stroke="#262626" stroke-width="1"/>
<ellipse cx="716.7" cy="529.7" rx="6.8" ry="6.2" transform="rotate(-40 716.7 529.7)" fill="#c9c9c6" stroke="#262626" stroke-width="1"/>
<path d="M986.7 537.03 L1023.7 579.83 L1023.98 580.17 L1024.24 580.51 L1024.49 580.87 L1024.73 581.24 L1024.94 581.62 L1025.15 582.01 L1025.33 582.42 L1025.51 582.83 L1025.66 583.24 L1025.8 583.67 L1025.92 584.11 L1026.02 584.55 L1026.11 585 L1026.18 585.45 L1026.23 585.91 L1026.27 586.38 L1026.28 586.84 L1026.28 587.32 L1026.27 587.79 L1026.23 588.27 L1026.18 588.76 L1026.11 589.24 L1026.03 589.72 L1025.92 590.21 L1025.8 590.69 L1025.66 591.17 L1025.51 591.66 L1025.34 592.13 L1025.15 592.61 L1024.95 593.09 L1024.73 593.56 L1024.5 594.02 L1024.25 594.48 L1023.99 594.94 L1023.71 595.39 L1023.41 595.83 L1023.11 596.27 L1022.79 596.69 L1022.45 597.11 L1022.11 597.52 L1021.75 597.93 L1021.38 598.32 L1021 598.7 L1020.6 599.07 L1020.2 599.43 L1019.79 599.78 L1019.36 600.12 L1018.93 600.45 L1018.49 600.76 L1018.04 601.06 L1017.59 601.34 L1017.13 601.61 L1016.66 601.87 L1016.18 602.11 L1015.71 602.34 L1015.22 602.56 L1014.73 602.75 L1014.24 602.94 L1013.75 603.1 L1013.25 603.25 L1012.76 603.39 L1012.26 603.51 L1011.76 603.61 L1011.26 603.69 L1010.76 603.76 L1010.27 603.82 L1009.77 603.85 L1009.28 603.87 L1008.79 603.87 L1008.31 603.85 L1007.83 603.82 L1007.36 603.77 L1006.89 603.71 L1006.43 603.62 L1005.97 603.52 L1005.52 603.41 L1005.08 603.28 L1004.65 603.13 L1004.23 602.96 L1003.81 602.78 L1003.41 602.59 L1003.02 602.38 L1002.63 602.15 L1002.26 601.91 L1001.9 601.65 L1001.56 601.38 L1001.22 601.1 L1000.9 600.8 L1000.6 600.49 L1000.3 600.17 L963.3 557.37 L963.02 557.03 L962.76 556.69 L962.51 556.33 L962.27 555.96 L962.06 555.58 L961.85 555.19 L961.67 554.78 L961.49 554.37 L961.34 553.96 L961.2 553.53 L961.08 553.09 L960.98 552.65 L960.89 552.2 L960.82 551.75 L960.77 551.29 L960.73 550.82 L960.72 550.36 L960.72 549.88 L960.73 549.41 L960.77 548.93 L960.82 548.44 L960.89 547.96 L960.97 547.48 L961.08 546.99 L961.2 546.51 L961.34 546.03 L961.49 545.54 L961.66 545.07 L961.85 544.59 L962.05 544.11 L962.27 543.64 L962.5 543.18 L962.75 542.72 L963.01 542.26 L963.29 541.81 L963.59 541.37 L963.89 540.93 L964.21 540.51 L964.55 540.09 L964.89 539.68 L965.25 539.27 L965.62 538.88 L966 538.5 L966.4 538.13 L966.8 537.77 L967.21 537.42 L967.64 537.08 L968.07 536.75 L968.51 536.44 L968.96 536.14 L969.41 535.86 L969.87 535.59 L970.34 535.33 L970.82 535.09 L971.29 534.86 L971.78 534.64 L972.27 534.45 L972.76 534.26 L973.25 534.1 L973.75 533.95 L974.24 533.81 L974.74 533.69 L975.24 533.59 L975.74 533.51 L976.24 533.44 L976.73 533.38 L977.23 533.35 L977.72 533.33 L978.21 533.33 L978.69 533.35 L979.17 533.38 L979.64 533.43 L980.11 533.49 L980.57 533.58 L981.03 533.68 L981.48 533.79 L981.92 533.92 L982.35 534.07 L982.77 534.24 L983.19 534.42 L983.59 534.61 L983.98 534.82 L984.37 535.05 L984.74 535.29 L985.1 535.55 L985.44 535.82 L985.78 536.1 L986.1 536.4 L986.4 536.71Z" fill="url(#shO)" stroke="#262626" stroke-width="1"/>
<path d="M993.72 591.88 L993.12 591.13 L992.59 590.31 L992.15 589.44 L991.79 588.52 L991.51 587.56 L991.33 586.57 L991.23 585.54 L991.22 584.49 L991.3 583.43 L991.47 582.35 L991.72 581.27 L992.07 580.2 L992.49 579.14 L993 578.1 L993.59 577.08 L994.25 576.1 L994.98 575.15 L995.77 574.25 L996.62 573.4 L997.53 572.6 L998.49 571.87 L999.49 571.2 L1000.52 570.6 L1001.59 570.07 L1002.67 569.62 L1003.78 569.26 L1004.88 568.97 L1005.99 568.77 L1007.1 568.66 L1008.19 568.63 L1009.26 568.69 L1010.3 568.83 L1011.31 569.06 L1012.27 569.38 L1013.19 569.77 L1014.06 570.25 L1014.86 570.8 L1015.61 571.42 L1016.28 572.12" fill="none" stroke="#333" stroke-width="0.9"/>
<path d="M1038.73 601 L1038.96 601.27 L1039.17 601.55 L1039.37 601.83 L1039.56 602.13 L1039.73 602.43 L1039.89 602.75 L1040.04 603.07 L1040.18 603.4 L1040.3 603.73 L1040.41 604.08 L1040.5 604.42 L1040.59 604.78 L1040.66 605.14 L1040.71 605.5 L1040.75 605.87 L1040.78 606.24 L1040.79 606.62 L1040.79 607 L1040.77 607.38 L1040.74 607.77 L1040.7 608.16 L1040.64 608.54 L1040.57 608.93 L1040.49 609.32 L1040.39 609.71 L1040.28 610.1 L1040.15 610.49 L1040.01 610.87 L1039.86 611.25 L1039.7 611.64 L1039.52 612.01 L1039.33 612.39 L1039.13 612.76 L1038.92 613.13 L1038.69 613.49 L1038.45 613.84 L1038.21 614.19 L1037.95 614.54 L1037.68 614.88 L1037.4 615.21 L1037.11 615.53 L1036.81 615.85 L1036.5 616.16 L1036.19 616.46 L1035.86 616.75 L1035.53 617.03 L1035.19 617.3 L1034.84 617.56 L1034.48 617.81 L1034.12 618.06 L1033.76 618.29 L1033.38 618.51 L1033.01 618.72 L1032.62 618.91 L1032.24 619.1 L1031.85 619.27 L1031.46 619.43 L1031.06 619.58 L1030.66 619.71 L1030.26 619.84 L1029.86 619.95 L1029.46 620.04 L1029.06 620.13 L1028.66 620.2 L1028.26 620.25 L1027.86 620.3 L1027.47 620.33 L1027.07 620.34 L1026.68 620.34 L1026.29 620.33 L1025.91 620.31 L1025.52 620.27 L1025.15 620.22 L1024.78 620.15 L1024.41 620.08 L1024.05 619.98 L1023.7 619.88 L1023.35 619.76 L1023.01 619.63 L1022.68 619.49 L1022.36 619.33 L1022.04 619.16 L1021.73 618.98 L1021.44 618.79 L1021.15 618.59 L1020.87 618.37 L1020.6 618.14 L1020.35 617.91 L1020.1 617.66 L1019.87 617.4 L1004.57 600.2 L1004.34 599.93 L1004.13 599.65 L1003.93 599.37 L1003.74 599.07 L1003.57 598.77 L1003.41 598.45 L1003.26 598.13 L1003.12 597.8 L1003 597.47 L1002.89 597.12 L1002.8 596.78 L1002.71 596.42 L1002.64 596.06 L1002.59 595.7 L1002.55 595.33 L1002.52 594.96 L1002.51 594.58 L1002.51 594.2 L1002.53 593.82 L1002.56 593.43 L1002.6 593.04 L1002.66 592.66 L1002.73 592.27 L1002.81 591.88 L1002.91 591.49 L1003.02 591.1 L1003.15 590.71 L1003.29 590.33 L1003.44 589.95 L1003.6 589.56 L1003.78 589.19 L1003.97 588.81 L1004.17 588.44 L1004.38 588.07 L1004.61 587.71 L1004.85 587.36 L1005.09 587.01 L1005.35 586.66 L1005.62 586.32 L1005.9 585.99 L1006.19 585.67 L1006.49 585.35 L1006.8 585.04 L1007.11 584.74 L1007.44 584.45 L1007.77 584.17 L1008.11 583.9 L1008.46 583.64 L1008.82 583.39 L1009.18 583.14 L1009.54 582.91 L1009.92 582.69 L1010.29 582.48 L1010.68 582.29 L1011.06 582.1 L1011.45 581.93 L1011.84 581.77 L1012.24 581.62 L1012.64 581.49 L1013.04 581.36 L1013.44 581.25 L1013.84 581.16 L1014.24 581.07 L1014.64 581 L1015.04 580.95 L1015.44 580.9 L1015.83 580.87 L1016.23 580.86 L1016.62 580.86 L1017.01 580.87 L1017.39 580.89 L1017.78 580.93 L1018.15 580.98 L1018.52 581.05 L1018.89 581.12 L1019.25 581.22 L1019.6 581.32 L1019.95 581.44 L1020.29 581.57 L1020.62 581.71 L1020.94 581.87 L1021.26 582.04 L1021.57 582.22 L1021.86 582.41 L1022.15 582.61 L1022.43 582.83 L1022.7 583.06 L1022.95 583.29 L1023.2 583.54 L1023.43 583.8Z" fill="url(#shOt)" stroke="#262626" stroke-width="1"/>
<path d="M1004.6 600.24 L1003.94 599.38 L1003.4 598.43 L1002.98 597.41 L1002.69 596.32 L1002.54 595.19 L1002.52 594.01 L1002.63 592.82 L1002.88 591.61 L1003.26 590.41 L1003.76 589.23 L1004.38 588.07 L1005.12 586.97 L1005.96 585.92 L1006.89 584.95 L1007.91 584.06 L1009 583.26 L1010.15 582.56 L1011.34 581.98 L1012.57 581.51 L1013.81 581.16 L1015.05 580.95 L1016.28 580.86 L1017.49 580.9 L1018.65 581.07 L1019.76 581.37 L1020.8 581.8 L1021.76 582.34 L1022.63 583 L1023.4 583.76" fill="none" stroke="#222" stroke-width="1"/>
<path d="M1006.6 602.45 L1005.94 601.59 L1005.4 600.65 L1004.98 599.62 L1004.69 598.54 L1004.54 597.4 L1004.52 596.23 L1004.63 595.03 L1004.88 593.83 L1005.26 592.62 L1005.76 591.44 L1006.38 590.29 L1007.12 589.18 L1007.96 588.14 L1008.89 587.16 L1009.91 586.27 L1011 585.47 L1012.15 584.78 L1013.34 584.19 L1014.57 583.72 L1015.81 583.38 L1017.05 583.16 L1018.28 583.07 L1019.49 583.11 L1020.65 583.29 L1021.76 583.59 L1022.8 584.01 L1023.76 584.56 L1024.63 585.21 L1025.4 585.98" fill="none" stroke="#222" stroke-width="1"/>
<path d="M1008.6 604.67 L1007.94 603.81 L1007.4 602.86 L1006.98 601.84 L1006.69 600.75 L1006.54 599.62 L1006.52 598.44 L1006.63 597.25 L1006.88 596.04 L1007.26 594.84 L1007.76 593.65 L1008.38 592.5 L1009.12 591.4 L1009.96 590.35 L1010.89 589.38 L1011.91 588.49 L1013 587.69 L1014.15 586.99 L1015.34 586.41 L1016.57 585.94 L1017.81 585.59 L1019.05 585.37 L1020.28 585.29 L1021.49 585.33 L1022.65 585.5 L1023.76 585.8 L1024.8 586.23 L1025.76 586.77 L1026.63 587.43 L1027.4 588.19" fill="none" stroke="#222" stroke-width="1"/>
<path d="M1010.6 606.88 L1009.94 606.02 L1009.4 605.07 L1008.98 604.05 L1008.69 602.97 L1008.54 601.83 L1008.52 600.66 L1008.63 599.46 L1008.88 598.25 L1009.26 597.05 L1009.76 595.87 L1010.38 594.72 L1011.12 593.61 L1011.96 592.57 L1012.89 591.59 L1013.91 590.7 L1015 589.9 L1016.15 589.21 L1017.34 588.62 L1018.57 588.15 L1019.81 587.81 L1021.05 587.59 L1022.28 587.5 L1023.49 587.54 L1024.65 587.71 L1025.76 588.01 L1026.8 588.44 L1027.76 588.98 L1028.63 589.64 L1029.4 590.41" fill="none" stroke="#222" stroke-width="1"/>
<path d="M1012.6 609.09 L1011.94 608.23 L1011.4 607.29 L1010.98 606.27 L1010.69 605.18 L1010.54 604.04 L1010.52 602.87 L1010.63 601.67 L1010.88 600.47 L1011.26 599.27 L1011.76 598.08 L1012.38 596.93 L1013.12 595.83 L1013.96 594.78 L1014.89 593.81 L1015.91 592.92 L1017 592.12 L1018.15 591.42 L1019.34 590.83 L1020.57 590.37 L1021.81 590.02 L1023.05 589.8 L1024.28 589.71 L1025.49 589.76 L1026.65 589.93 L1027.76 590.23 L1028.8 590.65 L1029.76 591.2 L1030.63 591.86 L1031.4 592.62" fill="none" stroke="#222" stroke-width="1"/>
<path d="M1014.6 611.31 L1013.94 610.45 L1013.4 609.5 L1012.98 608.48 L1012.69 607.4 L1012.54 606.26 L1012.52 605.09 L1012.63 603.89 L1012.88 602.68 L1013.26 601.48 L1013.76 600.3 L1014.38 599.15 L1015.12 598.04 L1015.96 597 L1016.89 596.02 L1017.91 595.13 L1019 594.33 L1020.15 593.63 L1021.34 593.05 L1022.57 592.58 L1023.81 592.24 L1025.05 592.02 L1026.28 591.93 L1027.49 591.97 L1028.65 592.14 L1029.76 592.44 L1030.8 592.87 L1031.76 593.41 L1032.63 594.07 L1033.4 594.83" fill="none" stroke="#222" stroke-width="1"/>
<path d="M1016.6 613.52 L1015.94 612.66 L1015.4 611.72 L1014.98 610.69 L1014.69 609.61 L1014.54 608.47 L1014.52 607.3 L1014.63 606.1 L1014.88 604.9 L1015.26 603.69 L1015.76 602.51 L1016.38 601.36 L1017.12 600.26 L1017.96 599.21 L1018.89 598.24 L1019.91 597.34 L1021 596.54 L1022.15 595.85 L1023.34 595.26 L1024.57 594.79 L1025.81 594.45 L1027.05 594.23 L1028.28 594.14 L1029.49 594.18 L1030.65 594.36 L1031.76 594.66 L1032.8 595.08 L1033.76 595.63 L1034.63 596.29 L1035.4 597.05" fill="none" stroke="#222" stroke-width="1"/>
<path d="M1018.6 615.74 L1017.94 614.88 L1017.4 613.93 L1016.98 612.91 L1016.69 611.82 L1016.54 610.69 L1016.52 609.51 L1016.63 608.32 L1016.88 607.11 L1017.26 605.91 L1017.76 604.73 L1018.38 603.57 L1019.12 602.47 L1019.96 601.42 L1020.89 600.45 L1021.91 599.56 L1023 598.76 L1024.15 598.06 L1025.34 597.48 L1026.57 597.01 L1027.81 596.66 L1029.05 596.45 L1030.28 596.36 L1031.49 596.4 L1032.65 596.57 L1033.76 596.87 L1034.8 597.3 L1035.76 597.84 L1036.63 598.5 L1037.4 599.26" fill="none" stroke="#222" stroke-width="1"/>
<ellipse cx="1029.3" cy="609.2" rx="11.5" ry="9.2" transform="rotate(-41 1029.3 609.2)" fill="#6e6e6c" stroke="#262626" stroke-width="1"/>
<ellipse cx="1028.5" cy="608.5" rx="3.8" ry="3.2" transform="rotate(-41 1028.5 608.5)" fill="#c0c0bd" stroke="#262626" stroke-width="0.8"/>
<path d="M1084.13 622.75 L1084.3 622.95 L1084.23 623.35 L1084.12 623.77 L1083.97 624.2 L1083.81 624.65 L1083.62 625.1 L1083.42 625.56 L1083.22 626.01 L1083 626.46 L1082.79 626.9 L1082.58 627.32 L1082.39 627.73 L1082.21 628.12 L1082.05 628.49 L1081.92 628.83 L1081.82 629.15 L1081.76 629.45 L1081.73 629.71 L1081.74 629.95 L1081.8 630.16 L1081.9 630.35 L1082.04 630.51 L1082.23 630.65 L1082.46 630.76 L1082.74 630.86 L1083.05 630.93 L1083.4 631 L1083.79 631.05 L1084.21 631.09 L1084.65 631.13 L1085.11 631.16 L1085.58 631.2 L1086.07 631.24 L1086.56 631.28 L1087.04 631.34 L1087.52 631.4 L1087.98 631.48 L1088.43 631.58 L1088.84 631.69 L1089.23 631.82 L1089.34 632.06 L1089.42 632.31 L1089.5 632.56 L1089.58 632.81 L1089.65 633.07 L1089.73 633.32 L1089.8 633.57 L1089.87 633.83 L1089.93 634.08 L1090 634.34 L1090.06 634.59 L1090.12 634.85 L1090.02 635.15 L1089.75 635.49 L1089.45 635.83 L1089.12 636.17 L1088.77 636.51 L1088.4 636.84 L1088.02 637.18 L1087.63 637.5 L1087.25 637.82 L1086.88 638.12 L1086.52 638.42 L1086.18 638.71 L1085.87 638.99 L1085.59 639.25 L1085.34 639.51 L1085.14 639.76 L1084.98 640 L1084.87 640.22 L1084.8 640.45 L1084.78 640.66 L1084.82 640.87 L1084.9 641.08 L1085.04 641.29 L1085.22 641.49 L1085.44 641.7 L1085.71 641.91 L1086.01 642.12 L1086.35 642.34 L1086.71 642.56 L1087.09 642.79 L1087.49 643.02 L1087.9 643.26 L1088.31 643.51 L1088.71 643.77 L1089.11 644.03 L1089.49 644.3 L1089.85 644.58 L1090.18 644.86 L1090.48 645.15 L1090.6 645.42 L1090.56 645.69 L1090.52 645.96 L1090.48 646.22 L1090.44 646.49 L1090.4 646.75 L1090.35 647.02 L1090.3 647.28 L1090.25 647.55 L1090.19 647.81 L1090.13 648.07 L1090.08 648.34 L1089.99 648.59 L1089.62 648.8 L1089.21 648.99 L1088.78 649.16 L1088.33 649.33 L1087.87 649.48 L1087.39 649.63 L1086.91 649.77 L1086.43 649.9 L1085.96 650.02 L1085.51 650.14 L1085.07 650.26 L1084.66 650.38 L1084.29 650.51 L1083.94 650.64 L1083.64 650.77 L1083.37 650.92 L1083.15 651.07 L1082.98 651.24 L1082.85 651.43 L1082.77 651.63 L1082.73 651.85 L1082.74 652.09 L1082.79 652.35 L1082.88 652.63 L1083.01 652.93 L1083.17 653.25 L1083.36 653.58 L1083.57 653.94 L1083.8 654.31 L1084.05 654.69 L1084.3 655.08 L1084.55 655.49 L1084.8 655.9 L1085.04 656.31 L1085.26 656.73 L1085.47 657.14 L1085.64 657.54 L1085.79 657.94 L1085.9 658.31 L1085.75 658.54 L1085.6 658.77 L1085.45 659 L1085.3 659.23 L1085.14 659.45 L1084.98 659.68 L1084.83 659.9 L1084.66 660.12 L1084.5 660.34 L1084.34 660.56 L1084.17 660.78 L1084 661 L1083.67 661.09 L1083.25 661.11 L1082.8 661.09 L1082.33 661.06 L1081.86 661.01 L1081.38 660.94 L1080.89 660.87 L1080.41 660.78 L1079.94 660.7 L1079.48 660.61 L1079.04 660.53 L1078.62 660.46 L1078.22 660.4 L1077.85 660.37 L1077.51 660.35 L1077.2 660.36 L1076.92 660.4 L1076.68 660.46 L1076.47 660.57 L1076.3 660.7 L1076.15 660.88 L1076.04 661.08 L1075.96 661.33 L1075.91 661.61 L1075.88 661.93 L1075.87 662.28 L1075.89 662.65 L1075.91 663.06 L1075.95 663.49 L1075.99 663.94 L1076.04 664.41 L1076.09 664.89 L1076.13 665.37 L1076.16 665.86 L1076.18 666.34 L1076.19 666.81 L1076.18 667.27 L1076.15 667.71 L1076.09 668.13 L1075.92 668.37 L1075.69 668.52 L1075.46 668.66 L1075.22 668.81 L1074.99 668.95 L1074.75 669.09 L1074.52 669.23 L1074.28 669.37 L1074.04 669.5 L1073.8 669.63 L1073.56 669.76 L1073.31 669.89 L1073.04 669.96 L1072.66 669.8 L1072.28 669.61 L1071.89 669.39 L1071.49 669.14 L1071.1 668.88 L1070.7 668.61 L1070.31 668.32 L1069.93 668.04 L1069.56 667.76 L1069.2 667.49 L1068.86 667.23 L1068.53 667 L1068.21 666.79 L1067.91 666.62 L1067.63 666.48 L1067.36 666.37 L1067.11 666.31 L1066.88 666.3 L1066.66 666.33 L1066.45 666.41 L1066.26 666.53 L1066.07 666.7 L1065.9 666.92 L1065.73 667.18 L1065.57 667.48 L1065.42 667.82 L1065.26 668.2 L1065.11 668.6 L1064.95 669.03 L1064.79 669.47 L1064.62 669.93 L1064.45 670.39 L1064.27 670.86 L1064.08 671.32 L1063.88 671.76 L1063.68 672.19 L1063.46 672.59 L1063.23 672.97 L1062.99 673.25 L1062.72 673.29 L1062.45 673.33 L1062.18 673.36 L1061.92 673.39 L1061.65 673.42 L1061.38 673.45 L1061.11 673.47 L1060.84 673.49 L1060.57 673.51 L1060.3 673.53 L1060.03 673.54 L1059.76 673.56 L1059.5 673.32 L1059.24 672.99 L1058.99 672.63 L1058.74 672.25 L1058.51 671.84 L1058.28 671.42 L1058.06 671 L1057.85 670.57 L1057.64 670.15 L1057.44 669.73 L1057.25 669.34 L1057.06 668.97 L1056.87 668.63 L1056.68 668.32 L1056.49 668.05 L1056.31 667.82 L1056.11 667.64 L1055.92 667.5 L1055.72 667.42 L1055.5 667.38 L1055.28 667.39 L1055.05 667.45 L1054.81 667.56 L1054.55 667.71 L1054.29 667.9 L1054.01 668.13 L1053.71 668.4 L1053.4 668.69 L1053.08 669.01 L1052.75 669.34 L1052.41 669.69 L1052.06 670.04 L1051.7 670.4 L1051.33 670.74 L1050.96 671.08 L1050.59 671.39 L1050.23 671.69 L1049.86 671.95 L1049.5 672.17 L1049.22 672.16 L1048.97 672.08 L1048.72 672 L1048.47 671.91 L1048.22 671.82 L1047.97 671.73 L1047.72 671.64 L1047.48 671.55 L1047.23 671.45 L1046.99 671.35 L1046.74 671.25 L1046.5 671.14 L1046.31 670.94 L1046.22 670.53 L1046.15 670.1 L1046.09 669.65 L1046.06 669.18 L1046.03 668.7 L1046.02 668.21 L1046.02 667.72 L1046.03 667.24 L1046.03 666.77 L1046.03 666.31 L1046.03 665.88 L1046.02 665.47 L1046 665.09 L1045.96 664.75 L1045.9 664.44 L1045.82 664.17 L1045.72 663.94 L1045.59 663.76 L1045.44 663.61 L1045.25 663.51 L1045.04 663.45 L1044.79 663.43 L1044.51 663.44 L1044.2 663.49 L1043.87 663.57 L1043.5 663.68 L1043.11 663.81 L1042.7 663.96 L1042.27 664.12 L1041.82 664.29 L1041.36 664.46 L1040.89 664.64 L1040.42 664.81 L1039.95 664.96 L1039.48 665.1 L1039.03 665.22 L1038.58 665.32 L1038.16 665.38 L1037.82 665.35 L1037.64 665.17 L1037.45 664.98 L1037.27 664.8 L1037.09 664.61 L1036.91 664.42 L1036.73 664.23 L1036.56 664.04 L1036.38 663.84 L1036.21 663.64 L1036.04 663.45 L1035.87 663.25 L1035.7 663.05 L1035.77 662.65 L1035.88 662.23 L1036.03 661.8 L1036.19 661.35 L1036.38 660.9 L1036.58 660.44 L1036.78 659.99 L1037 659.54 L1037.21 659.1 L1037.42 658.68 L1037.61 658.27 L1037.79 657.88 L1037.95 657.51 L1038.08 657.17 L1038.18 656.85 L1038.24 656.55 L1038.27 656.29 L1038.26 656.05 L1038.2 655.84 L1038.1 655.65 L1037.96 655.49 L1037.77 655.35 L1037.54 655.24 L1037.26 655.14 L1036.95 655.07 L1036.6 655 L1036.21 654.95 L1035.79 654.91 L1035.35 654.87 L1034.89 654.84 L1034.42 654.8 L1033.93 654.76 L1033.44 654.72 L1032.96 654.66 L1032.48 654.6 L1032.02 654.52 L1031.57 654.42 L1031.16 654.31 L1030.77 654.18 L1030.66 653.94 L1030.58 653.69 L1030.5 653.44 L1030.42 653.19 L1030.35 652.93 L1030.27 652.68 L1030.2 652.43 L1030.13 652.17 L1030.07 651.92 L1030 651.66 L1029.94 651.41 L1029.88 651.15 L1029.98 650.85 L1030.25 650.51 L1030.55 650.17 L1030.88 649.83 L1031.23 649.49 L1031.6 649.16 L1031.98 648.82 L1032.37 648.5 L1032.75 648.18 L1033.12 647.88 L1033.48 647.58 L1033.82 647.29 L1034.13 647.01 L1034.41 646.75 L1034.66 646.49 L1034.86 646.24 L1035.02 646 L1035.13 645.78 L1035.2 645.55 L1035.22 645.34 L1035.18 645.13 L1035.1 644.92 L1034.96 644.71 L1034.78 644.51 L1034.56 644.3 L1034.29 644.09 L1033.99 643.88 L1033.65 643.66 L1033.29 643.44 L1032.91 643.21 L1032.51 642.98 L1032.1 642.74 L1031.69 642.49 L1031.29 642.23 L1030.89 641.97 L1030.51 641.7 L1030.15 641.42 L1029.82 641.14 L1029.52 640.85 L1029.4 640.58 L1029.44 640.31 L1029.48 640.04 L1029.52 639.78 L1029.56 639.51 L1029.6 639.25 L1029.65 638.98 L1029.7 638.72 L1029.75 638.45 L1029.81 638.19 L1029.87 637.93 L1029.92 637.66 L1030.01 637.41 L1030.38 637.2 L1030.79 637.01 L1031.22 636.84 L1031.67 636.67 L1032.13 636.52 L1032.61 636.37 L1033.09 636.23 L1033.57 636.1 L1034.04 635.98 L1034.49 635.86 L1034.93 635.74 L1035.34 635.62 L1035.71 635.49 L1036.06 635.36 L1036.36 635.23 L1036.63 635.08 L1036.85 634.93 L1037.02 634.76 L1037.15 634.57 L1037.23 634.37 L1037.27 634.15 L1037.26 633.91 L1037.21 633.65 L1037.12 633.37 L1036.99 633.07 L1036.83 632.75 L1036.64 632.42 L1036.43 632.06 L1036.2 631.69 L1035.95 631.31 L1035.7 630.92 L1035.45 630.51 L1035.2 630.1 L1034.96 629.69 L1034.74 629.27 L1034.53 628.86 L1034.36 628.46 L1034.21 628.06 L1034.1 627.69 L1034.25 627.46 L1034.4 627.23 L1034.55 627 L1034.7 626.77 L1034.86 626.55 L1035.02 626.32 L1035.17 626.1 L1035.34 625.88 L1035.5 625.66 L1035.66 625.44 L1035.83 625.22 L1036 625 L1036.33 624.91 L1036.75 624.89 L1037.2 624.91 L1037.67 624.94 L1038.14 624.99 L1038.62 625.06 L1039.11 625.13 L1039.59 625.22 L1040.06 625.3 L1040.52 625.39 L1040.96 625.47 L1041.38 625.54 L1041.78 625.6 L1042.15 625.63 L1042.49 625.65 L1042.8 625.64 L1043.08 625.6 L1043.32 625.54 L1043.53 625.43 L1043.7 625.3 L1043.85 625.12 L1043.96 624.92 L1044.04 624.67 L1044.09 624.39 L1044.12 624.07 L1044.13 623.72 L1044.11 623.35 L1044.09 622.94 L1044.05 622.51 L1044.01 622.06 L1043.96 621.59 L1043.91 621.11 L1043.87 620.63 L1043.84 620.14 L1043.82 619.66 L1043.81 619.19 L1043.82 618.73 L1043.85 618.29 L1043.91 617.87 L1044.08 617.63 L1044.31 617.48 L1044.54 617.34 L1044.78 617.19 L1045.01 617.05 L1045.25 616.91 L1045.48 616.77 L1045.72 616.63 L1045.96 616.5 L1046.2 616.37 L1046.44 616.24 L1046.69 616.11 L1046.96 616.04 L1047.34 616.2 L1047.72 616.39 L1048.11 616.61 L1048.51 616.86 L1048.9 617.12 L1049.3 617.39 L1049.69 617.68 L1050.07 617.96 L1050.44 618.24 L1050.8 618.51 L1051.14 618.77 L1051.47 619 L1051.79 619.21 L1052.09 619.38 L1052.37 619.52 L1052.64 619.63 L1052.89 619.69 L1053.12 619.7 L1053.34 619.67 L1053.55 619.59 L1053.74 619.47 L1053.93 619.3 L1054.1 619.08 L1054.27 618.82 L1054.43 618.52 L1054.58 618.18 L1054.74 617.8 L1054.89 617.4 L1055.05 616.97 L1055.21 616.53 L1055.38 616.07 L1055.55 615.61 L1055.73 615.14 L1055.92 614.68 L1056.12 614.24 L1056.32 613.81 L1056.54 613.41 L1056.77 613.03 L1057.01 612.75 L1057.28 612.71 L1057.55 612.67 L1057.82 612.64 L1058.08 612.61 L1058.35 612.58 L1058.62 612.55 L1058.89 612.53 L1059.16 612.51 L1059.43 612.49 L1059.7 612.47 L1059.97 612.46 L1060.24 612.44 L1060.5 612.68 L1060.76 613.01 L1061.01 613.37 L1061.26 613.75 L1061.49 614.16 L1061.72 614.58 L1061.94 615 L1062.15 615.43 L1062.36 615.85 L1062.56 616.27 L1062.75 616.66 L1062.94 617.03 L1063.13 617.37 L1063.32 617.68 L1063.51 617.95 L1063.69 618.18 L1063.89 618.36 L1064.08 618.5 L1064.28 618.58 L1064.5 618.62 L1064.72 618.61 L1064.95 618.55 L1065.19 618.44 L1065.45 618.29 L1065.71 618.1 L1065.99 617.87 L1066.29 617.6 L1066.6 617.31 L1066.92 616.99 L1067.25 616.66 L1067.59 616.31 L1067.94 615.96 L1068.3 615.6 L1068.67 615.26 L1069.04 614.92 L1069.41 614.61 L1069.77 614.31 L1070.14 614.05 L1070.5 613.83 L1070.78 613.84 L1071.03 613.92 L1071.28 614 L1071.53 614.09 L1071.78 614.18 L1072.03 614.27 L1072.28 614.36 L1072.52 614.45 L1072.77 614.55 L1073.01 614.65 L1073.26 614.75 L1073.5 614.86 L1073.69 615.06 L1073.78 615.47 L1073.85 615.9 L1073.91 616.35 L1073.94 616.82 L1073.97 617.3 L1073.98 617.79 L1073.98 618.28 L1073.97 618.76 L1073.97 619.23 L1073.97 619.69 L1073.97 620.12 L1073.98 620.53 L1074 620.91 L1074.04 621.25 L1074.1 621.56 L1074.18 621.83 L1074.28 622.06 L1074.41 622.24 L1074.56 622.39 L1074.75 622.49 L1074.96 622.55 L1075.21 622.57 L1075.49 622.56 L1075.8 622.51 L1076.13 622.43 L1076.5 622.32 L1076.89 622.19 L1077.3 622.04 L1077.73 621.88 L1078.18 621.71 L1078.64 621.54 L1079.11 621.36 L1079.58 621.19 L1080.05 621.04 L1080.52 620.9 L1080.97 620.78 L1081.42 620.68 L1081.84 620.62 L1082.18 620.65 L1082.36 620.83 L1082.55 621.02 L1082.73 621.2 L1082.91 621.39 L1083.09 621.58 L1083.27 621.77 L1083.44 621.96 L1083.62 622.16 L1083.79 622.36 L1083.96 622.55Z" fill="#555553" stroke="#262626" stroke-width="1"/>
<path d="M1086.63 625.25 L1086.8 625.45 L1086.73 625.85 L1086.62 626.27 L1086.47 626.7 L1086.31 627.15 L1086.12 627.6 L1085.92 628.06 L1085.72 628.51 L1085.5 628.96 L1085.29 629.4 L1085.08 629.82 L1084.89 630.23 L1084.71 630.62 L1084.55 630.99 L1084.42 631.33 L1084.32 631.65 L1084.26 631.95 L1084.23 632.21 L1084.24 632.45 L1084.3 632.66 L1084.4 632.85 L1084.54 633.01 L1084.73 633.15 L1084.96 633.26 L1085.24 633.36 L1085.55 633.43 L1085.9 633.5 L1086.29 633.55 L1086.71 633.59 L1087.15 633.63 L1087.61 633.66 L1088.08 633.7 L1088.57 633.74 L1089.06 633.78 L1089.54 633.84 L1090.02 633.9 L1090.48 633.98 L1090.93 634.08 L1091.34 634.19 L1091.73 634.32 L1091.84 634.56 L1091.92 634.81 L1092 635.06 L1092.08 635.31 L1092.15 635.57 L1092.23 635.82 L1092.3 636.07 L1092.37 636.33 L1092.43 636.58 L1092.5 636.84 L1092.56 637.09 L1092.62 637.35 L1092.52 637.65 L1092.25 637.99 L1091.95 638.33 L1091.62 638.67 L1091.27 639.01 L1090.9 639.34 L1090.52 639.68 L1090.13 640 L1089.75 640.32 L1089.38 640.62 L1089.02 640.92 L1088.68 641.21 L1088.37 641.49 L1088.09 641.75 L1087.84 642.01 L1087.64 642.26 L1087.48 642.5 L1087.37 642.72 L1087.3 642.95 L1087.28 643.16 L1087.32 643.37 L1087.4 643.58 L1087.54 643.79 L1087.72 643.99 L1087.94 644.2 L1088.21 644.41 L1088.51 644.62 L1088.85 644.84 L1089.21 645.06 L1089.59 645.29 L1089.99 645.52 L1090.4 645.76 L1090.81 646.01 L1091.21 646.27 L1091.61 646.53 L1091.99 646.8 L1092.35 647.08 L1092.68 647.36 L1092.98 647.65 L1093.1 647.92 L1093.06 648.19 L1093.02 648.46 L1092.98 648.72 L1092.94 648.99 L1092.9 649.25 L1092.85 649.52 L1092.8 649.78 L1092.75 650.05 L1092.69 650.31 L1092.63 650.57 L1092.58 650.84 L1092.49 651.09 L1092.12 651.3 L1091.71 651.49 L1091.28 651.66 L1090.83 651.83 L1090.37 651.98 L1089.89 652.13 L1089.41 652.27 L1088.93 652.4 L1088.46 652.52 L1088.01 652.64 L1087.57 652.76 L1087.16 652.88 L1086.79 653.01 L1086.44 653.14 L1086.14 653.27 L1085.87 653.42 L1085.65 653.57 L1085.48 653.74 L1085.35 653.93 L1085.27 654.13 L1085.23 654.35 L1085.24 654.59 L1085.29 654.85 L1085.38 655.13 L1085.51 655.43 L1085.67 655.75 L1085.86 656.08 L1086.07 656.44 L1086.3 656.81 L1086.55 657.19 L1086.8 657.58 L1087.05 657.99 L1087.3 658.4 L1087.54 658.81 L1087.76 659.23 L1087.97 659.64 L1088.14 660.04 L1088.29 660.44 L1088.4 660.81 L1088.25 661.04 L1088.1 661.27 L1087.95 661.5 L1087.8 661.73 L1087.64 661.95 L1087.48 662.18 L1087.33 662.4 L1087.16 662.62 L1087 662.84 L1086.84 663.06 L1086.67 663.28 L1086.5 663.5 L1086.17 663.59 L1085.75 663.61 L1085.3 663.59 L1084.83 663.56 L1084.36 663.51 L1083.88 663.44 L1083.39 663.37 L1082.91 663.28 L1082.44 663.2 L1081.98 663.11 L1081.54 663.03 L1081.12 662.96 L1080.72 662.9 L1080.35 662.87 L1080.01 662.85 L1079.7 662.86 L1079.42 662.9 L1079.18 662.96 L1078.97 663.07 L1078.8 663.2 L1078.65 663.38 L1078.54 663.58 L1078.46 663.83 L1078.41 664.11 L1078.38 664.43 L1078.37 664.78 L1078.39 665.15 L1078.41 665.56 L1078.45 665.99 L1078.49 666.44 L1078.54 666.91 L1078.59 667.39 L1078.63 667.87 L1078.66 668.36 L1078.68 668.84 L1078.69 669.31 L1078.68 669.77 L1078.65 670.21 L1078.59 670.63 L1078.42 670.87 L1078.19 671.02 L1077.96 671.16 L1077.72 671.31 L1077.49 671.45 L1077.25 671.59 L1077.02 671.73 L1076.78 671.87 L1076.54 672 L1076.3 672.13 L1076.06 672.26 L1075.81 672.39 L1075.54 672.46 L1075.16 672.3 L1074.78 672.11 L1074.39 671.89 L1073.99 671.64 L1073.6 671.38 L1073.2 671.11 L1072.81 670.82 L1072.43 670.54 L1072.06 670.26 L1071.7 669.99 L1071.36 669.73 L1071.03 669.5 L1070.71 669.29 L1070.41 669.12 L1070.13 668.98 L1069.86 668.87 L1069.61 668.81 L1069.38 668.8 L1069.16 668.83 L1068.95 668.91 L1068.76 669.03 L1068.57 669.2 L1068.4 669.42 L1068.23 669.68 L1068.07 669.98 L1067.92 670.32 L1067.76 670.7 L1067.61 671.1 L1067.45 671.53 L1067.29 671.97 L1067.12 672.43 L1066.95 672.89 L1066.77 673.36 L1066.58 673.82 L1066.38 674.26 L1066.18 674.69 L1065.96 675.09 L1065.73 675.47 L1065.49 675.75 L1065.22 675.79 L1064.95 675.83 L1064.68 675.86 L1064.42 675.89 L1064.15 675.92 L1063.88 675.95 L1063.61 675.97 L1063.34 675.99 L1063.07 676.01 L1062.8 676.03 L1062.53 676.04 L1062.26 676.06 L1062 675.82 L1061.74 675.49 L1061.49 675.13 L1061.24 674.75 L1061.01 674.34 L1060.78 673.92 L1060.56 673.5 L1060.35 673.07 L1060.14 672.65 L1059.94 672.23 L1059.75 671.84 L1059.56 671.47 L1059.37 671.13 L1059.18 670.82 L1058.99 670.55 L1058.81 670.32 L1058.61 670.14 L1058.42 670 L1058.22 669.92 L1058 669.88 L1057.78 669.89 L1057.55 669.95 L1057.31 670.06 L1057.05 670.21 L1056.79 670.4 L1056.51 670.63 L1056.21 670.9 L1055.9 671.19 L1055.58 671.51 L1055.25 671.84 L1054.91 672.19 L1054.56 672.54 L1054.2 672.9 L1053.83 673.24 L1053.46 673.58 L1053.09 673.89 L1052.73 674.19 L1052.36 674.45 L1052 674.67 L1051.72 674.66 L1051.47 674.58 L1051.22 674.5 L1050.97 674.41 L1050.72 674.32 L1050.47 674.23 L1050.22 674.14 L1049.98 674.05 L1049.73 673.95 L1049.49 673.85 L1049.24 673.75 L1049 673.64 L1048.81 673.44 L1048.72 673.03 L1048.65 672.6 L1048.59 672.15 L1048.56 671.68 L1048.53 671.2 L1048.52 670.71 L1048.52 670.22 L1048.53 669.74 L1048.53 669.27 L1048.53 668.81 L1048.53 668.38 L1048.52 667.97 L1048.5 667.59 L1048.46 667.25 L1048.4 666.94 L1048.32 666.67 L1048.22 666.44 L1048.09 666.26 L1047.94 666.11 L1047.75 666.01 L1047.54 665.95 L1047.29 665.93 L1047.01 665.94 L1046.7 665.99 L1046.37 666.07 L1046 666.18 L1045.61 666.31 L1045.2 666.46 L1044.77 666.62 L1044.32 666.79 L1043.86 666.96 L1043.39 667.14 L1042.92 667.31 L1042.45 667.46 L1041.98 667.6 L1041.53 667.72 L1041.08 667.82 L1040.66 667.88 L1040.32 667.85 L1040.14 667.67 L1039.95 667.48 L1039.77 667.3 L1039.59 667.11 L1039.41 666.92 L1039.23 666.73 L1039.06 666.54 L1038.88 666.34 L1038.71 666.14 L1038.54 665.95 L1038.37 665.75 L1038.2 665.55 L1038.27 665.15 L1038.38 664.73 L1038.53 664.3 L1038.69 663.85 L1038.88 663.4 L1039.08 662.94 L1039.28 662.49 L1039.5 662.04 L1039.71 661.6 L1039.92 661.18 L1040.11 660.77 L1040.29 660.38 L1040.45 660.01 L1040.58 659.67 L1040.68 659.35 L1040.74 659.05 L1040.77 658.79 L1040.76 658.55 L1040.7 658.34 L1040.6 658.15 L1040.46 657.99 L1040.27 657.85 L1040.04 657.74 L1039.76 657.64 L1039.45 657.57 L1039.1 657.5 L1038.71 657.45 L1038.29 657.41 L1037.85 657.37 L1037.39 657.34 L1036.92 657.3 L1036.43 657.26 L1035.94 657.22 L1035.46 657.16 L1034.98 657.1 L1034.52 657.02 L1034.07 656.92 L1033.66 656.81 L1033.27 656.68 L1033.16 656.44 L1033.08 656.19 L1033 655.94 L1032.92 655.69 L1032.85 655.43 L1032.77 655.18 L1032.7 654.93 L1032.63 654.67 L1032.57 654.42 L1032.5 654.16 L1032.44 653.91 L1032.38 653.65 L1032.48 653.35 L1032.75 653.01 L1033.05 652.67 L1033.38 652.33 L1033.73 651.99 L1034.1 651.66 L1034.48 651.32 L1034.87 651 L1035.25 650.68 L1035.62 650.38 L1035.98 650.08 L1036.32 649.79 L1036.63 649.51 L1036.91 649.25 L1037.16 648.99 L1037.36 648.74 L1037.52 648.5 L1037.63 648.28 L1037.7 648.05 L1037.72 647.84 L1037.68 647.63 L1037.6 647.42 L1037.46 647.21 L1037.28 647.01 L1037.06 646.8 L1036.79 646.59 L1036.49 646.38 L1036.15 646.16 L1035.79 645.94 L1035.41 645.71 L1035.01 645.48 L1034.6 645.24 L1034.19 644.99 L1033.79 644.73 L1033.39 644.47 L1033.01 644.2 L1032.65 643.92 L1032.32 643.64 L1032.02 643.35 L1031.9 643.08 L1031.94 642.81 L1031.98 642.54 L1032.02 642.28 L1032.06 642.01 L1032.1 641.75 L1032.15 641.48 L1032.2 641.22 L1032.25 640.95 L1032.31 640.69 L1032.37 640.43 L1032.42 640.16 L1032.51 639.91 L1032.88 639.7 L1033.29 639.51 L1033.72 639.34 L1034.17 639.17 L1034.63 639.02 L1035.11 638.87 L1035.59 638.73 L1036.07 638.6 L1036.54 638.48 L1036.99 638.36 L1037.43 638.24 L1037.84 638.12 L1038.21 637.99 L1038.56 637.86 L1038.86 637.73 L1039.13 637.58 L1039.35 637.43 L1039.52 637.26 L1039.65 637.07 L1039.73 636.87 L1039.77 636.65 L1039.76 636.41 L1039.71 636.15 L1039.62 635.87 L1039.49 635.57 L1039.33 635.25 L1039.14 634.92 L1038.93 634.56 L1038.7 634.19 L1038.45 633.81 L1038.2 633.42 L1037.95 633.01 L1037.7 632.6 L1037.46 632.19 L1037.24 631.77 L1037.03 631.36 L1036.86 630.96 L1036.71 630.56 L1036.6 630.19 L1036.75 629.96 L1036.9 629.73 L1037.05 629.5 L1037.2 629.27 L1037.36 629.05 L1037.52 628.82 L1037.67 628.6 L1037.84 628.38 L1038 628.16 L1038.16 627.94 L1038.33 627.72 L1038.5 627.5 L1038.83 627.41 L1039.25 627.39 L1039.7 627.41 L1040.17 627.44 L1040.64 627.49 L1041.12 627.56 L1041.61 627.63 L1042.09 627.72 L1042.56 627.8 L1043.02 627.89 L1043.46 627.97 L1043.88 628.04 L1044.28 628.1 L1044.65 628.13 L1044.99 628.15 L1045.3 628.14 L1045.58 628.1 L1045.82 628.04 L1046.03 627.93 L1046.2 627.8 L1046.35 627.62 L1046.46 627.42 L1046.54 627.17 L1046.59 626.89 L1046.62 626.57 L1046.63 626.22 L1046.61 625.85 L1046.59 625.44 L1046.55 625.01 L1046.51 624.56 L1046.46 624.09 L1046.41 623.61 L1046.37 623.13 L1046.34 622.64 L1046.32 622.16 L1046.31 621.69 L1046.32 621.23 L1046.35 620.79 L1046.41 620.37 L1046.58 620.13 L1046.81 619.98 L1047.04 619.84 L1047.28 619.69 L1047.51 619.55 L1047.75 619.41 L1047.98 619.27 L1048.22 619.13 L1048.46 619 L1048.7 618.87 L1048.94 618.74 L1049.19 618.61 L1049.46 618.54 L1049.84 618.7 L1050.22 618.89 L1050.61 619.11 L1051.01 619.36 L1051.4 619.62 L1051.8 619.89 L1052.19 620.18 L1052.57 620.46 L1052.94 620.74 L1053.3 621.01 L1053.64 621.27 L1053.97 621.5 L1054.29 621.71 L1054.59 621.88 L1054.87 622.02 L1055.14 622.13 L1055.39 622.19 L1055.62 622.2 L1055.84 622.17 L1056.05 622.09 L1056.24 621.97 L1056.43 621.8 L1056.6 621.58 L1056.77 621.32 L1056.93 621.02 L1057.08 620.68 L1057.24 620.3 L1057.39 619.9 L1057.55 619.47 L1057.71 619.03 L1057.88 618.57 L1058.05 618.11 L1058.23 617.64 L1058.42 617.18 L1058.62 616.74 L1058.82 616.31 L1059.04 615.91 L1059.27 615.53 L1059.51 615.25 L1059.78 615.21 L1060.05 615.17 L1060.32 615.14 L1060.58 615.11 L1060.85 615.08 L1061.12 615.05 L1061.39 615.03 L1061.66 615.01 L1061.93 614.99 L1062.2 614.97 L1062.47 614.96 L1062.74 614.94 L1063 615.18 L1063.26 615.51 L1063.51 615.87 L1063.76 616.25 L1063.99 616.66 L1064.22 617.08 L1064.44 617.5 L1064.65 617.93 L1064.86 618.35 L1065.06 618.77 L1065.25 619.16 L1065.44 619.53 L1065.63 619.87 L1065.82 620.18 L1066.01 620.45 L1066.19 620.68 L1066.39 620.86 L1066.58 621 L1066.78 621.08 L1067 621.12 L1067.22 621.11 L1067.45 621.05 L1067.69 620.94 L1067.95 620.79 L1068.21 620.6 L1068.49 620.37 L1068.79 620.1 L1069.1 619.81 L1069.42 619.49 L1069.75 619.16 L1070.09 618.81 L1070.44 618.46 L1070.8 618.1 L1071.17 617.76 L1071.54 617.42 L1071.91 617.11 L1072.27 616.81 L1072.64 616.55 L1073 616.33 L1073.28 616.34 L1073.53 616.42 L1073.78 616.5 L1074.03 616.59 L1074.28 616.68 L1074.53 616.77 L1074.78 616.86 L1075.02 616.95 L1075.27 617.05 L1075.51 617.15 L1075.76 617.25 L1076 617.36 L1076.19 617.56 L1076.28 617.97 L1076.35 618.4 L1076.41 618.85 L1076.44 619.32 L1076.47 619.8 L1076.48 620.29 L1076.48 620.78 L1076.47 621.26 L1076.47 621.73 L1076.47 622.19 L1076.47 622.62 L1076.48 623.03 L1076.5 623.41 L1076.54 623.75 L1076.6 624.06 L1076.68 624.33 L1076.78 624.56 L1076.91 624.74 L1077.06 624.89 L1077.25 624.99 L1077.46 625.05 L1077.71 625.07 L1077.99 625.06 L1078.3 625.01 L1078.63 624.93 L1079 624.82 L1079.39 624.69 L1079.8 624.54 L1080.23 624.38 L1080.68 624.21 L1081.14 624.04 L1081.61 623.86 L1082.08 623.69 L1082.55 623.54 L1083.02 623.4 L1083.47 623.28 L1083.92 623.18 L1084.34 623.12 L1084.68 623.15 L1084.86 623.33 L1085.05 623.52 L1085.23 623.7 L1085.41 623.89 L1085.59 624.08 L1085.77 624.27 L1085.94 624.46 L1086.12 624.66 L1086.29 624.86 L1086.46 625.05Z" fill="#7a7a78" stroke="#262626" stroke-width="1"/>
<ellipse cx="1063.7" cy="646.7" rx="13.5" ry="10.5" transform="rotate(-40 1063.7 646.7)" fill="url(#gphg)" stroke="none"/>
<g clip-path="url(#gph)"><ellipse cx="1060.5" cy="643.5" rx="13.5" ry="10.5" transform="rotate(-40 1060.5 643.5)" fill="#f2f2f0" stroke="none"/></g>
<ellipse cx="1063.7" cy="646.7" rx="13.5" ry="10.5" transform="rotate(-40 1063.7 646.7)" fill="none" stroke="#262626" stroke-width="1"/>
<ellipse cx="1108.3" cy="697.4" rx="17" ry="13.5" transform="rotate(-48 1108.3 697.4)" fill="#5e5e5c" stroke="#262626" stroke-width="1"/>
<ellipse cx="1109.3" cy="698.4" rx="17" ry="13.5" transform="rotate(-48 1109.3 698.4)" fill="#8c8c8a" stroke="#262626" stroke-width="1"/>
<ellipse cx="1109.5" cy="698.4" rx="10.8" ry="8.2" transform="rotate(-48 1109.5 698.4)" fill="#6a6a68" stroke="#262626" stroke-width="0.9"/>
<ellipse cx="1110.3" cy="699.2" rx="9.8" ry="7.2" transform="rotate(-48 1110.3 699.2)" fill="#dcdcd9" stroke="none"/>
<path d="M1126.4 738.6 L1135.5 725.5 L1151.5 719.5 L1169.6 736.5 L1166.6 749.6 L1144.5 761.6 L1128.4 752.6Z" fill="#6c6c6a" stroke="#262626" stroke-width="1"/>
<path d="M1135.5 725.5 L1151.5 719.5 L1169.6 736.5 L1155 731 L1140 733 Z" fill="#8e8e8c" stroke="#333" stroke-width="0.8"/>
<path d="M1126.4 738.6 L1140 733 L1144.5 761.6" fill="none" stroke="#333" stroke-width="0.8"/>
<path d="M1155 731 L1166.6 749.6" fill="none" stroke="#333" stroke-width="0.8"/>
<ellipse cx="1151.5" cy="745" rx="14" ry="11.5" transform="rotate(-45 1151.5 745)" fill="#7a7a78" stroke="#262626" stroke-width="1"/>
<ellipse cx="1152" cy="745.5" rx="10.5" ry="8.3" transform="rotate(-45 1152 745.5)" fill="#5c5c5a" stroke="#262626" stroke-width="1"/>
<ellipse cx="1153" cy="746.5" rx="7.5" ry="5.8" transform="rotate(-45 1153 746.5)" fill="#8a8a88" stroke="none"/>
<path d="M716 400.2 L702.5 386.7 L701.09 385.23 L699.76 383.69 L698.53 382.07 L697.38 380.37 L696.32 378.6 L695.36 376.76 L694.49 374.85 L693.72 372.88 L693.04 370.84 L692.46 368.75 L691.97 366.59 L691.58 364.38 L691.29 362.11 L691.1 359.79 L691.01 357.43 L691.02 355.02 L691.12 352.57 L691.33 350.08 L691.63 347.55 L692.03 345 L692.53 342.41 L693.12 339.79 L693.81 337.15 L694.6 334.5 L695.48 331.82 L696.46 329.13 L697.52 326.43 L698.68 323.73 L699.93 321.02 L701.26 318.31 L702.69 315.6 L704.19 312.9 L705.78 310.21 L707.45 307.53 L709.2 304.87 L711.03 302.22 L712.93 299.6 L714.9 297.01 L716.94 294.44 L719.05 291.9 L721.22 289.4 L723.46 286.94 L725.75 284.52 L728.11 282.14 L730.51 279.81 L732.97 277.53 L735.47 275.31 L738.02 273.13 L740.61 271.02 L743.24 268.97 L745.9 266.98 L748.6 265.05 L751.32 263.19 L754.07 261.4 L756.85 259.69 L759.64 258.05 L762.44 256.48 L765.26 254.99 L768.09 253.59 L770.92 252.26 L773.75 251.02 L776.58 249.86 L779.41 248.79 L782.22 247.81 L785.03 246.92 L787.81 246.11 L790.58 245.4 L793.33 244.77 L796.05 244.24 L798.74 243.81 L801.4 243.46 L804.03 243.22 L806.61 243.06 L809.16 243 L811.65 243.04 L814.1 243.16 L816.5 243.39 L818.85 243.71 L821.13 244.12 L823.36 244.62 L825.53 245.22 L827.63 245.91 L829.66 246.69 L831.62 247.56 L833.52 248.52 L835.33 249.56 L837.07 250.7 L838.73 251.92 L840.31 253.22 L841.8 254.6 L855.3 268.1 L856.71 269.57 L858.04 271.11 L859.27 272.73 L860.42 274.43 L861.48 276.2 L862.44 278.04 L863.31 279.95 L864.08 281.92 L864.76 283.96 L865.34 286.05 L865.83 288.21 L866.22 290.42 L866.51 292.69 L866.7 295.01 L866.79 297.37 L866.78 299.78 L866.68 302.23 L866.47 304.72 L866.17 307.25 L865.77 309.8 L865.27 312.39 L864.68 315.01 L863.99 317.65 L863.2 320.3 L862.32 322.98 L861.34 325.67 L860.28 328.37 L859.12 331.07 L857.87 333.78 L856.54 336.49 L855.11 339.2 L853.61 341.9 L852.02 344.59 L850.35 347.27 L848.6 349.93 L846.77 352.58 L844.87 355.2 L842.9 357.79 L840.86 360.36 L838.75 362.9 L836.58 365.4 L834.34 367.86 L832.05 370.28 L829.69 372.66 L827.29 374.99 L824.83 377.27 L822.33 379.49 L819.78 381.67 L817.19 383.78 L814.56 385.83 L811.9 387.82 L809.2 389.75 L806.48 391.61 L803.73 393.4 L800.95 395.11 L798.16 396.75 L795.36 398.32 L792.54 399.81 L789.71 401.21 L786.88 402.54 L784.05 403.78 L781.22 404.94 L778.39 406.01 L775.58 406.99 L772.77 407.88 L769.99 408.69 L767.22 409.4 L764.47 410.03 L761.75 410.56 L759.06 410.99 L756.4 411.34 L753.77 411.58 L751.19 411.74 L748.64 411.8 L746.15 411.76 L743.7 411.64 L741.3 411.41 L738.95 411.09 L736.67 410.68 L734.44 410.18 L732.27 409.58 L730.17 408.89 L728.14 408.11 L726.18 407.24 L724.28 406.28 L722.47 405.24 L720.73 404.1 L719.07 402.88 L717.49 401.58Z" fill="url(#d2rim)" stroke="#2a2a2a" stroke-width="1.1"/>
<ellipse cx="785.65" cy="334.15" rx="96.02" ry="58.26" transform="rotate(-42.26 785.65 334.15)" fill="url(#d2face)" stroke="#2a2a2a" stroke-width="1.1"/>
<path d="M846.92 545.28 L845.42 543.82 L833.92 531.32 L832.51 529.78 L831.19 528.16 L829.96 526.47 L828.81 524.71 L827.76 522.88 L826.8 520.99 L825.93 519.02 L825.16 517 L824.49 514.92 L823.91 512.77 L823.44 510.58 L823.05 508.33 L822.77 506.03 L822.59 503.69 L822.51 501.3 L822.52 498.87 L822.64 496.4 L822.85 493.9 L823.16 491.36 L823.58 488.8 L824.09 486.21 L824.69 483.6 L825.4 480.97 L826.2 478.32 L827.09 475.66 L828.08 472.99 L829.16 470.32 L830.34 467.64 L831.6 464.96 L832.95 462.29 L834.39 459.62 L835.91 456.96 L837.52 454.31 L839.2 451.69 L840.97 449.08 L842.81 446.49 L844.73 443.93 L846.72 441.4 L848.78 438.9 L850.91 436.43 L853.1 434.01 L855.35 431.62 L857.67 429.28 L860.04 426.99 L862.46 424.74 L864.93 422.55 L867.46 420.41 L870.02 418.33 L872.63 416.31 L875.28 414.36 L877.96 412.46 L880.67 410.64 L883.42 408.89 L886.18 407.2 L888.97 405.59 L891.78 404.06 L894.6 402.6 L897.44 401.23 L900.28 399.93 L903.13 398.72 L905.97 397.59 L908.82 396.55 L911.66 395.59 L914.49 394.72 L917.31 393.94 L920.11 393.25 L922.9 392.65 L925.65 392.15 L928.39 391.73 L931.09 391.41 L933.76 391.18 L936.4 391.04 L938.99 391 L941.55 391.05 L944.05 391.19 L946.51 391.43 L948.92 391.76 L951.27 392.19 L953.57 392.7 L955.8 393.31 L957.97 394 L960.08 394.79 L962.12 395.67 L964.09 396.63 L965.98 397.68 L967.8 398.82 L969.54 400.04 L971.2 401.34 L972.78 402.72 L974.28 404.18 L985.78 416.68 L987.19 418.22 L988.51 419.84 L989.74 421.53 L990.89 423.29 L991.94 425.12 L992.9 427.01 L993.77 428.98 L994.54 431 L995.21 433.08 L995.79 435.23 L996.26 437.42 L996.65 439.67 L996.93 441.97 L997.11 444.31 L997.19 446.7 L997.18 449.13 L997.06 451.6 L996.85 454.1 L996.54 456.64 L996.12 459.2 L995.61 461.79 L995.01 464.4 L994.3 467.03 L993.5 469.68 L992.61 472.34 L991.62 475.01 L990.54 477.68 L989.36 480.36 L988.1 483.04 L986.75 485.71 L985.31 488.38 L983.79 491.04 L982.18 493.69 L980.5 496.31 L978.73 498.92 L976.89 501.51 L974.97 504.07 L972.98 506.6 L970.92 509.1 L968.79 511.57 L966.6 513.99 L964.35 516.38 L962.03 518.72 L959.66 521.01 L957.24 523.26 L954.77 525.45 L952.24 527.59 L949.68 529.67 L947.07 531.69 L944.42 533.64 L941.74 535.54 L939.03 537.36 L936.28 539.11 L933.52 540.8 L930.73 542.41 L927.92 543.94 L925.1 545.4 L922.26 546.77 L919.42 548.07 L916.57 549.28 L913.73 550.41 L910.88 551.45 L908.04 552.41 L905.21 553.28 L902.39 554.06 L899.59 554.75 L896.8 555.35 L894.05 555.85 L891.31 556.27 L888.61 556.59 L885.94 556.82 L883.3 556.96 L880.71 557 L878.15 556.95 L875.65 556.81 L873.19 556.57 L870.78 556.24 L868.43 555.81 L866.13 555.3 L863.9 554.69 L861.73 554 L859.62 553.21 L857.58 552.33 L855.61 551.37 L853.72 550.32 L851.9 549.18 L850.16 547.96 L848.5 546.66Z" fill="url(#d3rim)" stroke="#2a2a2a" stroke-width="1.1"/>
<ellipse cx="915.6" cy="480.25" rx="94.72" ry="59.81" transform="rotate(-40.91 915.6 480.25)" fill="url(#d3face)" stroke="#2a2a2a" stroke-width="1.1"/>
<ellipse cx="746.5" cy="336.5" rx="42.6" ry="25.85" transform="rotate(-42.26 746.5 336.5)" fill="none" stroke="#333" stroke-width="1"/>
<path d="M777.74 338.77 L776.96 340.17 L776.12 341.57 L775.24 342.96 L774.31 344.33 L773.34 345.7 L772.32 347.05 L771.26 348.38 L770.16 349.69 L769.02 350.98 L767.85 352.25 L766.64 353.49 L765.4 354.71 L764.12 355.89 L762.82 357.05 L761.49 358.17 L760.14 359.25 L758.77 360.3 L757.37 361.31 L755.96 362.28 L754.53 363.21 L753.09 364.09 L751.64 364.93 L750.18 365.73 L748.72 366.47 L747.25 367.17 L745.78 367.82 L744.31 368.42 L742.85 368.96 L741.39 369.45 L739.94 369.89 L738.5 370.28 L737.07 370.61 L735.66 370.88 L734.26 371.1 L732.89 371.26 L731.53 371.37 L730.21 371.42 L728.9 371.42 L727.63 371.35 L730.99 365.15 L732.04 365.2 L733.11 365.2 L734.2 365.16 L735.31 365.07 L736.44 364.94 L737.59 364.76 L738.75 364.53 L739.92 364.26 L741.1 363.95 L742.3 363.58 L743.5 363.18 L744.7 362.73 L745.91 362.24 L747.12 361.71 L748.32 361.14 L749.53 360.52 L750.73 359.87 L751.92 359.18 L753.1 358.45 L754.28 357.69 L755.44 356.89 L756.58 356.06 L757.71 355.2 L758.82 354.31 L759.92 353.39 L760.98 352.44 L762.03 351.46 L763.05 350.47 L764.05 349.45 L765.01 348.4 L765.95 347.34 L766.85 346.26 L767.72 345.17 L768.56 344.06 L769.36 342.94 L770.12 341.81 L770.85 340.67 L771.53 339.52 L772.18 338.37Z" fill="#bcbcb9" stroke="#333" stroke-width="0.9"/>
<ellipse cx="746.8" cy="334.6" rx="19.29" ry="11.7" transform="rotate(-42.26 746.8 334.6)" fill="url(#d2cg)" stroke="none"/>
<g clip-path="url(#d2c)"><ellipse cx="737.8" cy="324.6" rx="19.29" ry="11.7" transform="rotate(-42.26 737.8 324.6)" fill="#fff" stroke="#444" stroke-width="0.7"/></g>
<ellipse cx="746.8" cy="334.6" rx="19.29" ry="11.7" transform="rotate(-42.26 746.8 334.6)" fill="none" stroke="#2a2a2a" stroke-width="1.1"/>
<ellipse cx="751" cy="297.5" rx="15.15" ry="9.19" transform="rotate(-42.26 751 297.5)" fill="url(#d2s1g)" stroke="none"/>
<ellipse cx="751" cy="297.5" rx="15.15" ry="9.19" transform="rotate(-42.26 751 297.5)" fill="none" stroke="#2a2a2a" stroke-width="1.1"/>
<ellipse cx="783.5" cy="335" rx="16.57" ry="10.05" transform="rotate(-42.26 783.5 335)" fill="url(#d2s2g)" stroke="none"/>
<g clip-path="url(#d2s2)"><ellipse cx="763.5" cy="315" rx="16.57" ry="10.05" transform="rotate(-42.26 763.5 315)" fill="#fff" stroke="#444" stroke-width="0.7"/></g>
<ellipse cx="783.5" cy="335" rx="16.57" ry="10.05" transform="rotate(-42.26 783.5 335)" fill="none" stroke="#2a2a2a" stroke-width="1.1"/>
<ellipse cx="722.7" cy="379.5" rx="15.97" ry="9.69" transform="rotate(-42.26 722.7 379.5)" fill="url(#d2s3g)" stroke="none"/>
<ellipse cx="722.7" cy="379.5" rx="15.97" ry="9.69" transform="rotate(-42.26 722.7 379.5)" fill="none" stroke="#2a2a2a" stroke-width="1.1"/>
<ellipse cx="882.5" cy="446" rx="16.48" ry="10.41" transform="rotate(-40.91 882.5 446)" fill="url(#d3h1g)" stroke="none"/>
<g clip-path="url(#d3h1)"><ellipse cx="860.5" cy="426" rx="16.48" ry="10.41" transform="rotate(-40.91 860.5 426)" fill="#fff" stroke="#444" stroke-width="0.7"/></g>
<ellipse cx="882.5" cy="446" rx="16.48" ry="10.41" transform="rotate(-40.91 882.5 446)" fill="none" stroke="#2a2a2a" stroke-width="1.1"/>
<ellipse cx="881.8" cy="486" rx="18.92" ry="11.95" transform="rotate(-40.91 881.8 486)" fill="url(#d3h2g)" stroke="none"/>
<g clip-path="url(#d3h2)"><ellipse cx="871.8" cy="475" rx="18.92" ry="11.95" transform="rotate(-40.91 871.8 475)" fill="#fff" stroke="#444" stroke-width="0.7"/></g>
<ellipse cx="881.8" cy="486" rx="18.92" ry="11.95" transform="rotate(-40.91 881.8 486)" fill="none" stroke="#2a2a2a" stroke-width="1.1"/>
<ellipse cx="854.1" cy="527.8" rx="16.48" ry="10.41" transform="rotate(-40.91 854.1 527.8)" fill="url(#d3h3g)" stroke="none"/>
<ellipse cx="854.1" cy="527.8" rx="16.48" ry="10.41" transform="rotate(-40.91 854.1 527.8)" fill="none" stroke="#2a2a2a" stroke-width="1.1"/>
<ellipse cx="916.9" cy="482" rx="21.76" ry="13.74" transform="rotate(-40.91 916.9 482)" fill="#858583" stroke="#2a2a2a" stroke-width="1"/>
<ellipse cx="916.9" cy="482.7" rx="14.39" ry="9.09" transform="rotate(-40.91 916.9 482.7)" fill="url(#d3wg)" stroke="none"/>
<ellipse cx="916.9" cy="482.7" rx="14.39" ry="9.09" transform="rotate(-40.91 916.9 482.7)" fill="none" stroke="#2a2a2a" stroke-width="1.1"/>
<g stroke="#1a1a1a" stroke-width="1">
<line x1="53.8" y1="203.9" x2="121.7" y2="196.2" />
<line x1="533" y1="226" x2="623" y2="335" />
<line x1="1028" y1="608" x2="1150" y2="740" />
<line x1="476" y1="490.3" x2="597.5" y2="630" />
<line x1="639.3" y1="441.3" x2="676.7" y2="483.3" />
<line x1="775.9" y1="324.4" x2="820.7" y2="375" />
<line x1="673.2" y1="428.5" x2="796.6" y2="390" />
<line x1="910.9" y1="476.4" x2="969.2" y2="540.3" />
</g>
<g stroke="#1a1a1a" stroke-width="1" fill="none">
<polyline points="619.5,64.25 585,64.25 555,107.5" />
<polyline points="684.5,147.5 650,147.5 627,228.25" />
<polyline points="894.5,199.5 860,199.5 833.5,250.3" />
<polyline points="1025,344.5 990,344.5 961.25,395" />
<polyline points="220.5,99.6 255.6,99.6 274.9,152.4" />
<polyline points="354,99.6 319,99.6 294.3,172.6" />
<polyline points="341.9,225.5 306.2,225.5 238.8,247" />
<polyline points="341.9,272.2 306.2,272.2 269.4,297.5" />
<polyline points="117.6,316.1 82.2,316.1 65.2,239.4" />
<polyline points="195.5,316.1 159.5,316.1 138.2,227.5" />
<polyline points="473.75,326.25 509.5,326.25 533.75,275" />
<polyline points="473.75,370.75 509.5,370.75 578.75,306.25" />
<polyline points="473.75,410.75 509.5,410.75 605,341.25" />
</g>
<g fill="#111">
<circle cx="555" cy="107.5" r="2.2"/>
<circle cx="627" cy="228.25" r="2.2"/>
<circle cx="833.5" cy="250.3" r="2.2"/>
<circle cx="961.25" cy="395" r="2.2"/>
<circle cx="274.9" cy="152.4" r="2.2"/>
<circle cx="294.3" cy="172.6" r="2.2"/>
<circle cx="238.8" cy="247" r="2.2"/>
<circle cx="269.4" cy="297.5" r="2.2"/>
<circle cx="65.2" cy="239.4" r="2.2"/>
<circle cx="138.2" cy="227.5" r="2.2"/>
<circle cx="533.75" cy="275" r="2.2"/>
<circle cx="578.75" cy="306.25" r="2.2"/>
<circle cx="605" cy="341.25" r="2.2"/>
</g>
<g font-size="16.5" text-anchor="middle">
<text x="601" y="56.2">1</text>
<text x="667.5" y="140.7" textLength="15.5" lengthAdjust="spacingAndGlyphs">11</text>
<text x="877" y="192.45">2</text>
<text x="1007.5" y="336.2">3</text>
<text x="237.9" y="92.4" textLength="15.5" lengthAdjust="spacingAndGlyphs">13</text>
<text x="337.5" y="92.4">6</text>
<text x="324.6" y="217.9">6</text>
<text x="324.6" y="263.9">7</text>
<text x="100.6" y="307.9">5</text>
<text x="177.9" y="307.9">4</text>
<text x="492" y="318.2">8</text>
<text x="492" y="362.2">9</text>
<text x="492" y="403.7" textLength="15.5" lengthAdjust="spacingAndGlyphs">10</text>
</g>
</svg>
</body></html>
